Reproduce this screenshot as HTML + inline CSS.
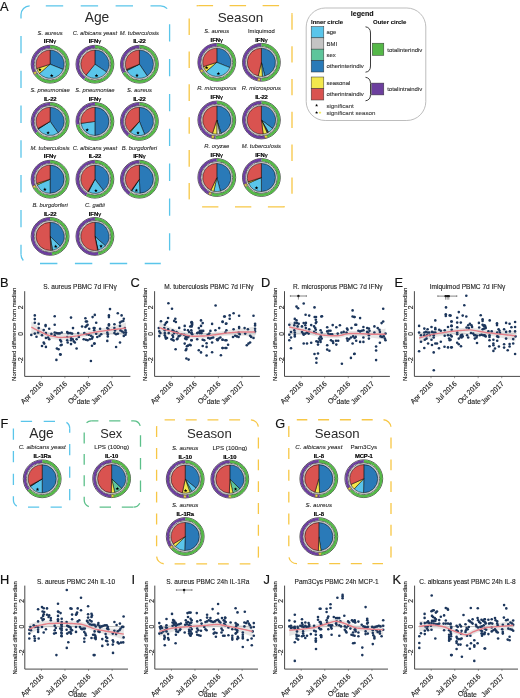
<!DOCTYPE html>
<html><head><meta charset="utf-8"><style>
html,body{margin:0;padding:0;background:#fff;}
svg{display:block;font-family:"Liberation Sans", sans-serif;will-change:transform;}
</style></head><body>
<svg width="520" height="698" viewBox="0 0 520 698">
<text x="0" y="11.2" font-size="12.8" text-anchor="start" font-weight="normal" font-style="normal" fill="#111" stroke="#111" stroke-width="0.18">A</text>
<path d="M30,5.8 L160.6,5.8 C165.5705627482,5.8 169.6,9.829437251800002 169.6,14.8" fill="none" stroke="#5ac5ea" stroke-width="1.3" stroke-dasharray="17.40 17.50" stroke-dashoffset="19.10"/>
<path d="M169.6,14.8 L169.6,254.5 C169.6,259.4705627482 165.5705627482,263.5 160.6,263.5" fill="none" stroke="#5ac5ea" stroke-width="1.3" stroke-dasharray="17.30 17.55" stroke-dashoffset="25.45"/>
<path d="M160.6,263.5 L30,263.5 C25.0294372518,263.5 21,259.4705627482 21,254.5" fill="none" stroke="#5ac5ea" stroke-width="1.3" stroke-dasharray="17.40 17.50" stroke-dashoffset="1.50"/>
<path d="M21,254.5 L21,14.8 C21,9.829437251800002 25.0294372518,5.8 30,5.8" fill="none" stroke="#5ac5ea" stroke-width="1.3" stroke-dasharray="17.40 17.40" stroke-dashoffset="7.60"/>
<text x="97" y="21.8" font-size="13.8" text-anchor="middle" font-weight="normal" font-style="normal" fill="#2a2a2a" >Age</text>
<text x="50.1" y="34.6" font-size="5.85" text-anchor="middle" font-weight="normal" font-style="italic" fill="#222" stroke="#222" stroke-width="0.08">S. aureus</text>
<text x="50.1" y="43.400000000000006" font-size="5.9" text-anchor="middle" font-weight="normal" font-style="normal" fill="#000" stroke="#000" stroke-width="0.18"><tspan font-weight="bold">IFN</tspan><tspan>γ</tspan></text>
<circle cx="50.1" cy="64.2" r="18.9" fill="#fff" stroke="#111" stroke-width="0.7"/>
<path d="M50.10,46.85 A17.35,17.35 0 1 1 36.06,74.40" fill="none" stroke="#55b848" stroke-width="2.6999999999999993"/>
<path d="M36.06,74.40 A17.35,17.35 0 0 1 50.10,46.85" fill="none" stroke="#6c3f9e" stroke-width="2.6999999999999993"/>
<circle cx="50.1" cy="64.2" r="15.9" fill="#fff" stroke="#111" stroke-width="0.6"/>
<circle cx="50.1" cy="64.2" r="14.9" fill="none" stroke="#999" stroke-width="0.55"/>
<path d="M50.10,64.20 L50.10,50.10 A14.1,14.1 0 0 1 63.17,69.48 Z" fill="#2a7ab8" stroke="#000" stroke-width="0.5" stroke-linejoin="round"/>
<path d="M50.10,64.20 L63.17,69.48 A14.1,14.1 0 0 1 39.46,73.45 Z" fill="#5ac5ea" stroke="#000" stroke-width="0.5" stroke-linejoin="round"/>
<path d="M50.10,64.20 L39.46,73.45 A14.1,14.1 0 0 1 36.69,68.56 Z" fill="#f3e84c" stroke="#000" stroke-width="0.5" stroke-linejoin="round"/>
<path d="M50.10,64.20 L36.69,68.56 A14.1,14.1 0 0 1 50.10,50.10 Z" fill="#d95350" stroke="#000" stroke-width="0.5" stroke-linejoin="round"/>
<polygon points="51.71,73.75 52.18,75.00 53.52,75.06 52.47,75.90 52.83,77.19 51.71,76.45 50.59,77.19 50.95,75.90 49.90,75.06 51.24,75.00" fill="#000" stroke="none" stroke-width="0"/>
<polygon points="39.89,67.73 40.36,68.98 41.70,69.04 40.65,69.87 41.01,71.17 39.89,70.43 38.77,71.17 39.13,69.87 38.08,69.04 39.42,68.98" fill="#000" stroke="none" stroke-width="0"/>
<polygon points="35.07,70.98 35.54,72.23 36.88,72.29 35.83,73.12 36.19,74.41 35.07,73.67 33.96,74.41 34.32,73.12 33.27,72.29 34.61,72.23" fill="#f3e84c" stroke="#8a7a00" stroke-width="0.25"/>
<text x="94.9" y="34.6" font-size="5.85" text-anchor="middle" font-weight="normal" font-style="italic" fill="#222" stroke="#222" stroke-width="0.08">C. albicans yeast</text>
<text x="94.9" y="43.400000000000006" font-size="5.9" text-anchor="middle" font-weight="normal" font-style="normal" fill="#000" stroke="#000" stroke-width="0.18"><tspan font-weight="bold">IFN</tspan><tspan>γ</tspan></text>
<circle cx="94.9" cy="64.2" r="18.9" fill="#fff" stroke="#111" stroke-width="0.7"/>
<path d="M94.90,46.85 A17.35,17.35 0 1 1 84.70,78.24" fill="none" stroke="#55b848" stroke-width="2.6999999999999993"/>
<path d="M84.70,78.24 A17.35,17.35 0 0 1 94.90,46.85" fill="none" stroke="#6c3f9e" stroke-width="2.6999999999999993"/>
<circle cx="94.9" cy="64.2" r="15.9" fill="#fff" stroke="#111" stroke-width="0.6"/>
<circle cx="94.9" cy="64.2" r="14.9" fill="none" stroke="#999" stroke-width="0.55"/>
<path d="M94.90,64.20 L94.90,50.10 A14.1,14.1 0 0 1 106.59,72.08 Z" fill="#2a7ab8" stroke="#000" stroke-width="0.5" stroke-linejoin="round"/>
<path d="M94.90,64.20 L106.59,72.08 A14.1,14.1 0 0 1 86.03,75.16 Z" fill="#5ac5ea" stroke="#000" stroke-width="0.5" stroke-linejoin="round"/>
<path d="M94.90,64.20 L86.03,75.16 A14.1,14.1 0 0 1 94.90,50.10 Z" fill="#d95350" stroke="#000" stroke-width="0.5" stroke-linejoin="round"/>
<polygon points="96.51,73.75 96.98,75.00 98.32,75.06 97.27,75.90 97.63,77.19 96.51,76.45 95.39,77.19 95.75,75.90 94.70,75.06 96.04,75.00" fill="#000" stroke="none" stroke-width="0"/>
<text x="139.4" y="34.6" font-size="5.85" text-anchor="middle" font-weight="normal" font-style="italic" fill="#222" stroke="#222" stroke-width="0.08">M. tuberculosis</text>
<text x="139.4" y="43.400000000000006" font-size="5.9" text-anchor="middle" font-weight="normal" font-style="normal" fill="#000" stroke="#000" stroke-width="0.18"><tspan font-weight="bold" letter-spacing="-0.3">IL-22</tspan></text>
<circle cx="139.4" cy="64.2" r="18.9" fill="#fff" stroke="#111" stroke-width="0.7"/>
<path d="M139.40,46.85 A17.35,17.35 0 1 1 124.08,72.35" fill="none" stroke="#55b848" stroke-width="2.6999999999999993"/>
<path d="M124.08,72.35 A17.35,17.35 0 0 1 139.40,46.85" fill="none" stroke="#6c3f9e" stroke-width="2.6999999999999993"/>
<circle cx="139.4" cy="64.2" r="15.9" fill="#fff" stroke="#111" stroke-width="0.6"/>
<circle cx="139.4" cy="64.2" r="14.9" fill="none" stroke="#999" stroke-width="0.55"/>
<path d="M139.40,64.20 L139.40,50.10 A14.1,14.1 0 0 1 147.28,75.89 Z" fill="#2a7ab8" stroke="#000" stroke-width="0.5" stroke-linejoin="round"/>
<path d="M139.40,64.20 L147.28,75.89 A14.1,14.1 0 0 1 126.84,70.60 Z" fill="#5ac5ea" stroke="#000" stroke-width="0.5" stroke-linejoin="round"/>
<path d="M139.40,64.20 L126.84,70.60 A14.1,14.1 0 0 1 126.33,69.48 Z" fill="#3a6a40" stroke="#000" stroke-width="0.5" stroke-linejoin="round"/>
<path d="M139.40,64.20 L126.33,69.48 A14.1,14.1 0 0 1 139.40,50.10 Z" fill="#d95350" stroke="#000" stroke-width="0.5" stroke-linejoin="round"/>
<polygon points="137.00,73.61 137.47,74.86 138.80,74.92 137.76,75.76 138.11,77.05 137.00,76.31 135.88,77.05 136.24,75.76 135.19,74.92 136.53,74.86" fill="#000" stroke="none" stroke-width="0"/>
<text x="50.1" y="91.80000000000001" font-size="5.85" text-anchor="middle" font-weight="normal" font-style="italic" fill="#222" stroke="#222" stroke-width="0.08">S. pneumoniae</text>
<text x="50.1" y="100.60000000000001" font-size="5.9" text-anchor="middle" font-weight="normal" font-style="normal" fill="#000" stroke="#000" stroke-width="0.18"><tspan font-weight="bold" letter-spacing="-0.3">IL-22</tspan></text>
<circle cx="50.1" cy="121.4" r="18.9" fill="#fff" stroke="#111" stroke-width="0.7"/>
<path d="M50.10,104.05 A17.35,17.35 0 1 1 36.62,132.32" fill="none" stroke="#55b848" stroke-width="2.6999999999999993"/>
<path d="M36.62,132.32 A17.35,17.35 0 0 1 50.10,104.05" fill="none" stroke="#6c3f9e" stroke-width="2.6999999999999993"/>
<circle cx="50.1" cy="121.4" r="15.9" fill="#fff" stroke="#111" stroke-width="0.6"/>
<circle cx="50.1" cy="121.4" r="14.9" fill="none" stroke="#999" stroke-width="0.55"/>
<path d="M50.10,121.40 L50.10,107.30 A14.1,14.1 0 0 1 58.19,132.95 Z" fill="#2a7ab8" stroke="#000" stroke-width="0.5" stroke-linejoin="round"/>
<path d="M50.10,121.40 L58.19,132.95 A14.1,14.1 0 0 1 38.27,129.08 Z" fill="#5ac5ea" stroke="#000" stroke-width="0.5" stroke-linejoin="round"/>
<path d="M50.10,121.40 L38.27,129.08 A14.1,14.1 0 0 1 37.89,128.45 Z" fill="#333" stroke="#000" stroke-width="0.5" stroke-linejoin="round"/>
<path d="M50.10,121.40 L37.89,128.45 A14.1,14.1 0 0 1 50.10,107.30 Z" fill="#d95350" stroke="#000" stroke-width="0.5" stroke-linejoin="round"/>
<polygon points="48.09,130.89 48.56,132.14 49.90,132.20 48.85,133.03 49.21,134.32 48.09,133.58 46.98,134.32 47.33,133.03 46.29,132.20 47.62,132.14" fill="#000" stroke="none" stroke-width="0"/>
<text x="94.9" y="91.80000000000001" font-size="5.85" text-anchor="middle" font-weight="normal" font-style="italic" fill="#222" stroke="#222" stroke-width="0.08">S. pneumoniae</text>
<text x="94.9" y="100.60000000000001" font-size="5.9" text-anchor="middle" font-weight="normal" font-style="normal" fill="#000" stroke="#000" stroke-width="0.18"><tspan font-weight="bold">IFN</tspan><tspan>γ</tspan></text>
<circle cx="94.9" cy="121.4" r="18.9" fill="#fff" stroke="#111" stroke-width="0.7"/>
<path d="M94.90,104.05 A17.35,17.35 0 1 1 77.81,124.41" fill="none" stroke="#55b848" stroke-width="2.6999999999999993"/>
<path d="M77.81,124.41 A17.35,17.35 0 0 1 94.90,104.05" fill="none" stroke="#6c3f9e" stroke-width="2.6999999999999993"/>
<circle cx="94.9" cy="121.4" r="15.9" fill="#fff" stroke="#111" stroke-width="0.6"/>
<circle cx="94.9" cy="121.4" r="14.9" fill="none" stroke="#999" stroke-width="0.55"/>
<path d="M94.90,121.40 L94.90,107.30 A14.1,14.1 0 0 1 94.90,135.50 Z" fill="#2a7ab8" stroke="#000" stroke-width="0.5" stroke-linejoin="round"/>
<path d="M94.90,121.40 L94.90,135.50 A14.1,14.1 0 0 1 80.94,123.36 Z" fill="#5ac5ea" stroke="#000" stroke-width="0.5" stroke-linejoin="round"/>
<path d="M94.90,121.40 L80.94,123.36 A14.1,14.1 0 0 1 94.90,107.30 Z" fill="#d95350" stroke="#000" stroke-width="0.5" stroke-linejoin="round"/>
<polygon points="87.16,128.09 87.63,129.35 88.97,129.41 87.92,130.24 88.28,131.53 87.16,130.79 86.05,131.53 86.40,130.24 85.36,129.41 86.69,129.35" fill="#000" stroke="none" stroke-width="0"/>
<text x="139.4" y="91.80000000000001" font-size="5.85" text-anchor="middle" font-weight="normal" font-style="italic" fill="#222" stroke="#222" stroke-width="0.08">S. aureus</text>
<text x="139.4" y="100.60000000000001" font-size="5.9" text-anchor="middle" font-weight="normal" font-style="normal" fill="#000" stroke="#000" stroke-width="0.18"><tspan font-weight="bold" letter-spacing="-0.3">IL-22</tspan></text>
<circle cx="139.4" cy="121.4" r="18.9" fill="#fff" stroke="#111" stroke-width="0.7"/>
<path d="M139.40,104.05 A17.35,17.35 0 1 1 128.48,134.88" fill="none" stroke="#55b848" stroke-width="2.6999999999999993"/>
<path d="M128.48,134.88 A17.35,17.35 0 0 1 139.40,104.05" fill="none" stroke="#6c3f9e" stroke-width="2.6999999999999993"/>
<circle cx="139.4" cy="121.4" r="15.9" fill="#fff" stroke="#111" stroke-width="0.6"/>
<circle cx="139.4" cy="121.4" r="14.9" fill="none" stroke="#999" stroke-width="0.55"/>
<path d="M139.40,121.40 L139.40,107.30 A14.1,14.1 0 0 1 144.68,134.47 Z" fill="#2a7ab8" stroke="#000" stroke-width="0.5" stroke-linejoin="round"/>
<path d="M139.40,121.40 L144.68,134.47 A14.1,14.1 0 0 1 130.34,132.20 Z" fill="#5ac5ea" stroke="#000" stroke-width="0.5" stroke-linejoin="round"/>
<path d="M139.40,121.40 L130.34,132.20 A14.1,14.1 0 0 1 129.61,131.54 Z" fill="#8a8a20" stroke="#000" stroke-width="0.5" stroke-linejoin="round"/>
<path d="M139.40,121.40 L129.61,131.54 A14.1,14.1 0 0 1 139.40,107.30 Z" fill="#d95350" stroke="#000" stroke-width="0.5" stroke-linejoin="round"/>
<polygon points="137.99,130.98 138.46,132.23 139.80,132.29 138.75,133.12 139.11,134.41 137.99,133.67 136.87,134.41 137.23,133.12 136.18,132.29 137.52,132.23" fill="#000" stroke="none" stroke-width="0"/>
<text x="50.1" y="149.6" font-size="5.85" text-anchor="middle" font-weight="normal" font-style="italic" fill="#222" stroke="#222" stroke-width="0.08">M. tuberculosis</text>
<text x="50.1" y="158.39999999999998" font-size="5.9" text-anchor="middle" font-weight="normal" font-style="normal" fill="#000" stroke="#000" stroke-width="0.18"><tspan font-weight="bold">IFN</tspan><tspan>γ</tspan></text>
<circle cx="50.1" cy="179.2" r="18.9" fill="#fff" stroke="#111" stroke-width="0.7"/>
<path d="M50.10,161.85 A17.35,17.35 0 1 1 34.93,187.61" fill="none" stroke="#55b848" stroke-width="2.6999999999999993"/>
<path d="M34.93,187.61 A17.35,17.35 0 0 1 50.10,161.85" fill="none" stroke="#6c3f9e" stroke-width="2.6999999999999993"/>
<circle cx="50.1" cy="179.2" r="15.9" fill="#fff" stroke="#111" stroke-width="0.6"/>
<circle cx="50.1" cy="179.2" r="14.9" fill="none" stroke="#999" stroke-width="0.55"/>
<path d="M50.10,179.20 L50.10,165.10 A14.1,14.1 0 0 1 50.10,193.30 Z" fill="#2a7ab8" stroke="#000" stroke-width="0.5" stroke-linejoin="round"/>
<path d="M50.10,179.20 L50.10,193.30 A14.1,14.1 0 0 1 37.22,184.93 Z" fill="#5ac5ea" stroke="#000" stroke-width="0.5" stroke-linejoin="round"/>
<path d="M50.10,179.20 L37.22,184.93 A14.1,14.1 0 0 1 36.69,183.56 Z" fill="#f3e84c" stroke="#000" stroke-width="0.5" stroke-linejoin="round"/>
<path d="M50.10,179.20 L36.69,183.56 A14.1,14.1 0 0 1 50.10,165.10 Z" fill="#d95350" stroke="#000" stroke-width="0.5" stroke-linejoin="round"/>
<polygon points="44.85,187.60 45.32,188.86 46.66,188.91 45.61,189.75 45.97,191.04 44.85,190.30 43.73,191.04 44.09,189.75 43.04,188.91 44.38,188.86" fill="#000" stroke="none" stroke-width="0"/>
<polygon points="34.38,184.63 34.84,185.89 36.18,185.95 35.13,186.78 35.49,188.07 34.38,187.33 33.26,188.07 33.62,186.78 32.57,185.95 33.91,185.89" fill="#f3e84c" stroke="#8a7a00" stroke-width="0.25"/>
<text x="94.9" y="149.6" font-size="5.85" text-anchor="middle" font-weight="normal" font-style="italic" fill="#222" stroke="#222" stroke-width="0.08">C. albicans yeast</text>
<text x="94.9" y="158.39999999999998" font-size="5.9" text-anchor="middle" font-weight="normal" font-style="normal" fill="#000" stroke="#000" stroke-width="0.18"><tspan font-weight="bold" letter-spacing="-0.3">IL-22</tspan></text>
<circle cx="94.9" cy="179.2" r="18.9" fill="#fff" stroke="#111" stroke-width="0.7"/>
<path d="M94.90,161.85 A17.35,17.35 0 1 1 86.75,194.52" fill="none" stroke="#55b848" stroke-width="2.6999999999999993"/>
<path d="M86.75,194.52 A17.35,17.35 0 0 1 94.90,161.85" fill="none" stroke="#6c3f9e" stroke-width="2.6999999999999993"/>
<circle cx="94.9" cy="179.2" r="15.9" fill="#fff" stroke="#111" stroke-width="0.6"/>
<circle cx="94.9" cy="179.2" r="14.9" fill="none" stroke="#999" stroke-width="0.55"/>
<path d="M94.90,179.20 L94.90,165.10 A14.1,14.1 0 0 1 103.39,190.46 Z" fill="#2a7ab8" stroke="#000" stroke-width="0.5" stroke-linejoin="round"/>
<path d="M94.90,179.20 L103.39,190.46 A14.1,14.1 0 0 1 88.50,191.76 Z" fill="#5ac5ea" stroke="#000" stroke-width="0.5" stroke-linejoin="round"/>
<path d="M94.90,179.20 L88.50,191.76 A14.1,14.1 0 0 1 87.85,191.41 Z" fill="#333" stroke="#000" stroke-width="0.5" stroke-linejoin="round"/>
<path d="M94.90,179.20 L87.85,191.41 A14.1,14.1 0 0 1 94.90,165.10 Z" fill="#d95350" stroke="#000" stroke-width="0.5" stroke-linejoin="round"/>
<polygon points="95.91,188.82 96.38,190.07 97.71,190.13 96.67,190.96 97.02,192.26 95.91,191.52 94.79,192.26 95.15,190.96 94.10,190.13 95.44,190.07" fill="#000" stroke="none" stroke-width="0"/>
<text x="139.4" y="149.6" font-size="5.85" text-anchor="middle" font-weight="normal" font-style="italic" fill="#222" stroke="#222" stroke-width="0.08">B. burgdorferi</text>
<text x="139.4" y="158.39999999999998" font-size="5.9" text-anchor="middle" font-weight="normal" font-style="normal" fill="#000" stroke="#000" stroke-width="0.18"><tspan font-weight="bold">IFN</tspan><tspan>γ</tspan></text>
<circle cx="139.4" cy="179.2" r="18.9" fill="#fff" stroke="#111" stroke-width="0.7"/>
<path d="M139.40,161.85 A17.35,17.35 0 1 1 129.70,193.58" fill="none" stroke="#55b848" stroke-width="2.6999999999999993"/>
<path d="M129.70,193.58 A17.35,17.35 0 0 1 139.40,161.85" fill="none" stroke="#6c3f9e" stroke-width="2.6999999999999993"/>
<circle cx="139.4" cy="179.2" r="15.9" fill="#fff" stroke="#111" stroke-width="0.6"/>
<circle cx="139.4" cy="179.2" r="14.9" fill="none" stroke="#999" stroke-width="0.55"/>
<path d="M139.40,179.20 L139.40,165.10 A14.1,14.1 0 0 1 139.89,193.29 Z" fill="#2a7ab8" stroke="#000" stroke-width="0.5" stroke-linejoin="round"/>
<path d="M139.40,179.20 L139.89,193.29 A14.1,14.1 0 0 1 131.72,191.03 Z" fill="#5ac5ea" stroke="#000" stroke-width="0.5" stroke-linejoin="round"/>
<path d="M139.40,179.20 L131.72,191.03 A14.1,14.1 0 0 1 131.11,190.61 Z" fill="#333" stroke="#000" stroke-width="0.5" stroke-linejoin="round"/>
<path d="M139.40,179.20 L131.11,190.61 A14.1,14.1 0 0 1 139.40,165.10 Z" fill="#d95350" stroke="#000" stroke-width="0.5" stroke-linejoin="round"/>
<polygon points="136.41,188.47 136.88,189.72 138.21,189.78 137.17,190.61 137.52,191.91 136.41,191.17 135.29,191.91 135.65,190.61 134.60,189.78 135.94,189.72" fill="#000" stroke="none" stroke-width="0"/>
<text x="50.1" y="206.8" font-size="5.85" text-anchor="middle" font-weight="normal" font-style="italic" fill="#222" stroke="#222" stroke-width="0.08">B. burgdorferi</text>
<text x="50.1" y="215.6" font-size="5.9" text-anchor="middle" font-weight="normal" font-style="normal" fill="#000" stroke="#000" stroke-width="0.18"><tspan font-weight="bold" letter-spacing="-0.3">IL-22</tspan></text>
<circle cx="50.1" cy="236.4" r="18.9" fill="#fff" stroke="#111" stroke-width="0.7"/>
<path d="M50.10,219.05 A17.35,17.35 0 0 1 51.91,253.65" fill="none" stroke="#55b848" stroke-width="2.6999999999999993"/>
<path d="M51.91,253.65 A17.35,17.35 0 1 1 50.10,219.05" fill="none" stroke="#6c3f9e" stroke-width="2.6999999999999993"/>
<circle cx="50.1" cy="236.4" r="15.9" fill="#fff" stroke="#111" stroke-width="0.6"/>
<circle cx="50.1" cy="236.4" r="14.9" fill="none" stroke="#999" stroke-width="0.55"/>
<path d="M50.10,236.40 L50.10,222.30 A14.1,14.1 0 0 1 60.24,246.19 Z" fill="#2a7ab8" stroke="#000" stroke-width="0.5" stroke-linejoin="round"/>
<path d="M50.10,236.40 L60.24,246.19 A14.1,14.1 0 0 1 52.55,250.29 Z" fill="#5ac5ea" stroke="#000" stroke-width="0.5" stroke-linejoin="round"/>
<path d="M50.10,236.40 L52.55,250.29 A14.1,14.1 0 0 1 50.84,250.48 Z" fill="#777" stroke="#000" stroke-width="0.5" stroke-linejoin="round"/>
<path d="M50.10,236.40 L50.84,250.48 A14.1,14.1 0 1 1 50.10,222.30 Z" fill="#d95350" stroke="#000" stroke-width="0.5" stroke-linejoin="round"/>
<polygon points="55.71,244.61 56.17,245.87 57.51,245.93 56.46,246.76 56.82,248.05 55.71,247.31 54.59,248.05 54.95,246.76 53.90,245.93 55.24,245.87" fill="#000" stroke="none" stroke-width="0"/>
<text x="94.9" y="206.8" font-size="5.85" text-anchor="middle" font-weight="normal" font-style="italic" fill="#222" stroke="#222" stroke-width="0.08">C. gattii</text>
<text x="94.9" y="215.6" font-size="5.9" text-anchor="middle" font-weight="normal" font-style="normal" fill="#000" stroke="#000" stroke-width="0.18"><tspan font-weight="bold">IFN</tspan><tspan>γ</tspan></text>
<circle cx="94.9" cy="236.4" r="18.9" fill="#fff" stroke="#111" stroke-width="0.7"/>
<path d="M94.90,219.05 A17.35,17.35 0 0 1 98.21,253.43" fill="none" stroke="#55b848" stroke-width="2.6999999999999993"/>
<path d="M98.21,253.43 A17.35,17.35 0 1 1 94.90,219.05" fill="none" stroke="#6c3f9e" stroke-width="2.6999999999999993"/>
<circle cx="94.9" cy="236.4" r="15.9" fill="#fff" stroke="#111" stroke-width="0.6"/>
<circle cx="94.9" cy="236.4" r="14.9" fill="none" stroke="#999" stroke-width="0.55"/>
<path d="M94.90,236.40 L94.90,222.30 A14.1,14.1 0 0 1 105.38,245.83 Z" fill="#2a7ab8" stroke="#000" stroke-width="0.5" stroke-linejoin="round"/>
<path d="M94.90,236.40 L105.38,245.83 A14.1,14.1 0 0 1 98.07,250.14 Z" fill="#5ac5ea" stroke="#000" stroke-width="0.5" stroke-linejoin="round"/>
<path d="M94.90,236.40 L98.07,250.14 A14.1,14.1 0 0 1 97.59,250.24 Z" fill="#333" stroke="#000" stroke-width="0.5" stroke-linejoin="round"/>
<path d="M94.90,236.40 L97.59,250.24 A14.1,14.1 0 1 1 94.90,222.30 Z" fill="#d95350" stroke="#000" stroke-width="0.5" stroke-linejoin="round"/>
<polygon points="101.03,244.31 101.50,245.56 102.83,245.62 101.79,246.45 102.14,247.74 101.03,247.00 99.91,247.74 100.27,246.45 99.22,245.62 100.56,245.56" fill="#000" stroke="none" stroke-width="0"/>
<path d="M198.2,5.7 L283.0,5.7 C287.9705627482,5.7 292.0,9.7294372518 292.0,14.7" fill="none" stroke="#f7c746" stroke-width="1.3" stroke-dasharray="16.50 16.50" stroke-dashoffset="1.60"/>
<path d="M292.0,14.7 L292.0,197.89999999999998 C292.0,202.87056274819997 287.9705627482,206.89999999999998 283.0,206.89999999999998" fill="none" stroke="#f7c746" stroke-width="1.3" stroke-dasharray="16.30 16.50" stroke-dashoffset="1.30"/>
<path d="M283.0,206.89999999999998 L198.2,206.89999999999998 C193.2294372518,206.89999999999998 189.2,202.87056274819997 189.2,197.89999999999998" fill="none" stroke="#f7c746" stroke-width="1.3" stroke-dasharray="16.30 16.60" stroke-dashoffset="1.20"/>
<path d="M189.2,197.89999999999998 L189.2,14.7 C189.2,9.7294372518 193.2294372518,5.7 198.2,5.7" fill="none" stroke="#f7c746" stroke-width="1.3" stroke-dasharray="16.60 16.30" stroke-dashoffset="1.70"/>
<text x="240.4" y="22.1" font-size="13.4" text-anchor="middle" font-weight="normal" font-style="normal" fill="#2a2a2a" >Season</text>
<text x="216.8" y="32.699999999999996" font-size="5.85" text-anchor="middle" font-weight="normal" font-style="italic" fill="#222" stroke="#222" stroke-width="0.08">S. aureus</text>
<text x="216.8" y="41.5" font-size="5.9" text-anchor="middle" font-weight="normal" font-style="normal" fill="#000" stroke="#000" stroke-width="0.18"><tspan font-weight="bold">IFN</tspan><tspan>γ</tspan></text>
<circle cx="216.8" cy="62.3" r="18.9" fill="#fff" stroke="#111" stroke-width="0.7"/>
<path d="M216.80,44.95 A17.35,17.35 0 1 1 202.76,72.50" fill="none" stroke="#55b848" stroke-width="2.6999999999999993"/>
<path d="M202.76,72.50 A17.35,17.35 0 0 1 216.80,44.95" fill="none" stroke="#6c3f9e" stroke-width="2.6999999999999993"/>
<circle cx="216.8" cy="62.3" r="15.9" fill="#fff" stroke="#111" stroke-width="0.6"/>
<circle cx="216.8" cy="62.3" r="14.9" fill="none" stroke="#999" stroke-width="0.55"/>
<path d="M216.80,62.30 L216.80,48.20 A14.1,14.1 0 0 1 229.87,67.58 Z" fill="#2a7ab8" stroke="#000" stroke-width="0.5" stroke-linejoin="round"/>
<path d="M216.80,62.30 L229.87,67.58 A14.1,14.1 0 0 1 206.16,71.55 Z" fill="#5ac5ea" stroke="#000" stroke-width="0.5" stroke-linejoin="round"/>
<path d="M216.80,62.30 L206.16,71.55 A14.1,14.1 0 0 1 203.39,66.66 Z" fill="#f3e84c" stroke="#000" stroke-width="0.5" stroke-linejoin="round"/>
<path d="M216.80,62.30 L203.39,66.66 A14.1,14.1 0 0 1 216.80,48.20 Z" fill="#d95350" stroke="#000" stroke-width="0.5" stroke-linejoin="round"/>
<polygon points="218.41,71.85 218.88,73.10 220.22,73.16 219.17,74.00 219.53,75.29 218.41,74.55 217.29,75.29 217.65,74.00 216.60,73.16 217.94,73.10" fill="#000" stroke="none" stroke-width="0"/>
<polygon points="206.59,65.83 207.06,67.08 208.40,67.14 207.35,67.97 207.71,69.27 206.59,68.53 205.47,69.27 205.83,67.97 204.78,67.14 206.12,67.08" fill="#000" stroke="none" stroke-width="0"/>
<polygon points="201.77,69.08 202.24,70.33 203.58,70.39 202.53,71.22 202.89,72.51 201.77,71.77 200.66,72.51 201.02,71.22 199.97,70.39 201.31,70.33" fill="#f3e84c" stroke="#8a7a00" stroke-width="0.25"/>
<text x="261.4" y="32.699999999999996" font-size="5.85" text-anchor="middle" font-weight="normal" font-style="normal" fill="#222" stroke="#222" stroke-width="0.08">Imiquimod</text>
<text x="261.4" y="41.5" font-size="5.9" text-anchor="middle" font-weight="normal" font-style="normal" fill="#000" stroke="#000" stroke-width="0.18"><tspan font-weight="bold">IFN</tspan><tspan>γ</tspan></text>
<circle cx="261.4" cy="62.3" r="18.9" fill="#fff" stroke="#111" stroke-width="0.7"/>
<path d="M261.40,44.95 A17.35,17.35 0 0 1 261.40,79.65" fill="none" stroke="#55b848" stroke-width="2.6999999999999993"/>
<path d="M261.40,79.65 A17.35,17.35 0 0 1 261.40,44.95" fill="none" stroke="#6c3f9e" stroke-width="2.6999999999999993"/>
<circle cx="261.4" cy="62.3" r="15.9" fill="#fff" stroke="#111" stroke-width="0.6"/>
<circle cx="261.4" cy="62.3" r="14.9" fill="none" stroke="#999" stroke-width="0.55"/>
<path d="M261.40,62.30 L261.40,48.20 A14.1,14.1 0 0 1 264.81,75.98 Z" fill="#2a7ab8" stroke="#000" stroke-width="0.5" stroke-linejoin="round"/>
<path d="M261.40,62.30 L264.81,75.98 A14.1,14.1 0 0 1 262.38,76.37 Z" fill="#5ac5ea" stroke="#000" stroke-width="0.5" stroke-linejoin="round"/>
<path d="M261.40,62.30 L262.38,76.37 A14.1,14.1 0 0 1 258.23,76.04 Z" fill="#f3e84c" stroke="#000" stroke-width="0.5" stroke-linejoin="round"/>
<path d="M261.40,62.30 L258.23,76.04 A14.1,14.1 0 0 1 261.40,48.20 Z" fill="#d95350" stroke="#000" stroke-width="0.5" stroke-linejoin="round"/>
<polygon points="258.99,77.58 259.45,78.84 260.79,78.89 259.74,79.73 260.10,81.02 258.99,80.28 257.87,81.02 258.23,79.73 257.18,78.89 258.52,78.84" fill="#f3e84c" stroke="#8a7a00" stroke-width="0.25"/>
<text x="216.8" y="90.4" font-size="5.85" text-anchor="middle" font-weight="normal" font-style="italic" fill="#222" stroke="#222" stroke-width="0.08">R. microsporus</text>
<text x="216.8" y="99.2" font-size="5.9" text-anchor="middle" font-weight="normal" font-style="normal" fill="#000" stroke="#000" stroke-width="0.18"><tspan font-weight="bold">IFN</tspan><tspan>γ</tspan></text>
<circle cx="216.8" cy="120.0" r="18.9" fill="#fff" stroke="#111" stroke-width="0.7"/>
<path d="M216.80,102.65 A17.35,17.35 0 1 1 215.59,137.31" fill="none" stroke="#55b848" stroke-width="2.6999999999999993"/>
<path d="M215.59,137.31 A17.35,17.35 0 0 1 216.80,102.65" fill="none" stroke="#6c3f9e" stroke-width="2.6999999999999993"/>
<circle cx="216.8" cy="120.0" r="15.9" fill="#fff" stroke="#111" stroke-width="0.6"/>
<circle cx="216.8" cy="120.0" r="14.9" fill="none" stroke="#999" stroke-width="0.55"/>
<path d="M216.80,120.00 L216.80,105.90 A14.1,14.1 0 0 1 221.16,133.41 Z" fill="#2a7ab8" stroke="#000" stroke-width="0.5" stroke-linejoin="round"/>
<path d="M216.80,120.00 L221.16,133.41 A14.1,14.1 0 0 1 219.73,133.79 Z" fill="#5ec59b" stroke="#000" stroke-width="0.5" stroke-linejoin="round"/>
<path d="M216.80,120.00 L219.73,133.79 A14.1,14.1 0 0 1 216.80,134.10 Z" fill="#e8e8e8" stroke="#000" stroke-width="0.5" stroke-linejoin="round"/>
<path d="M216.80,120.00 L216.80,134.10 A14.1,14.1 0 0 1 212.44,133.41 Z" fill="#f3e84c" stroke="#000" stroke-width="0.5" stroke-linejoin="round"/>
<path d="M216.80,120.00 L212.44,133.41 A14.1,14.1 0 0 1 216.80,105.90 Z" fill="#d95350" stroke="#000" stroke-width="0.5" stroke-linejoin="round"/>
<polygon points="212.90,135.01 213.37,136.26 214.70,136.32 213.66,137.15 214.01,138.44 212.90,137.70 211.78,138.44 212.14,137.15 211.09,136.32 212.43,136.26" fill="#f3e84c" stroke="#8a7a00" stroke-width="0.25"/>
<text x="261.4" y="90.4" font-size="5.85" text-anchor="middle" font-weight="normal" font-style="italic" fill="#222" stroke="#222" stroke-width="0.08">R. microsporus</text>
<text x="261.4" y="99.2" font-size="5.9" text-anchor="middle" font-weight="normal" font-style="normal" fill="#000" stroke="#000" stroke-width="0.18"><tspan font-weight="bold" letter-spacing="-0.3">IL-22</tspan></text>
<circle cx="261.4" cy="120.0" r="18.9" fill="#fff" stroke="#111" stroke-width="0.7"/>
<path d="M261.40,102.65 A17.35,17.35 0 0 1 266.76,136.50" fill="none" stroke="#55b848" stroke-width="2.6999999999999993"/>
<path d="M266.76,136.50 A17.35,17.35 0 1 1 261.40,102.65" fill="none" stroke="#6c3f9e" stroke-width="2.6999999999999993"/>
<circle cx="261.4" cy="120.0" r="15.9" fill="#fff" stroke="#111" stroke-width="0.6"/>
<circle cx="261.4" cy="120.0" r="14.9" fill="none" stroke="#999" stroke-width="0.55"/>
<path d="M261.40,120.00 L261.40,105.90 A14.1,14.1 0 0 1 272.66,128.49 Z" fill="#2a7ab8" stroke="#000" stroke-width="0.5" stroke-linejoin="round"/>
<path d="M261.40,120.00 L272.66,128.49 A14.1,14.1 0 0 1 268.45,132.21 Z" fill="#5ac5ea" stroke="#000" stroke-width="0.5" stroke-linejoin="round"/>
<path d="M261.40,120.00 L268.45,132.21 A14.1,14.1 0 0 1 267.13,132.88 Z" fill="#444" stroke="#000" stroke-width="0.5" stroke-linejoin="round"/>
<path d="M261.40,120.00 L267.13,132.88 A14.1,14.1 0 0 1 263.12,133.99 Z" fill="#f3e84c" stroke="#000" stroke-width="0.5" stroke-linejoin="round"/>
<path d="M261.40,120.00 L263.12,133.99 A14.1,14.1 0 1 1 261.40,105.90 Z" fill="#d95350" stroke="#000" stroke-width="0.5" stroke-linejoin="round"/>
<polygon points="265.89,134.86 266.36,136.11 267.70,136.17 266.65,137.01 267.01,138.30 265.89,137.56 264.77,138.30 265.13,137.01 264.08,136.17 265.42,136.11" fill="#f3e84c" stroke="#8a7a00" stroke-width="0.25"/>
<text x="216.8" y="147.9" font-size="5.85" text-anchor="middle" font-weight="normal" font-style="italic" fill="#222" stroke="#222" stroke-width="0.08">R. oryzae</text>
<text x="216.8" y="156.7" font-size="5.9" text-anchor="middle" font-weight="normal" font-style="normal" fill="#000" stroke="#000" stroke-width="0.18"><tspan font-weight="bold">IFN</tspan><tspan>γ</tspan></text>
<circle cx="216.8" cy="177.5" r="18.9" fill="#fff" stroke="#111" stroke-width="0.7"/>
<path d="M216.80,160.15 A17.35,17.35 0 1 1 211.73,194.09" fill="none" stroke="#55b848" stroke-width="2.6999999999999993"/>
<path d="M211.73,194.09 A17.35,17.35 0 0 1 216.80,160.15" fill="none" stroke="#6c3f9e" stroke-width="2.6999999999999993"/>
<circle cx="216.8" cy="177.5" r="15.9" fill="#fff" stroke="#111" stroke-width="0.6"/>
<circle cx="216.8" cy="177.5" r="14.9" fill="none" stroke="#999" stroke-width="0.55"/>
<path d="M216.80,177.50 L216.80,163.40 A14.1,14.1 0 0 1 220.45,191.12 Z" fill="#2a7ab8" stroke="#000" stroke-width="0.5" stroke-linejoin="round"/>
<path d="M216.80,177.50 L220.45,191.12 A14.1,14.1 0 0 1 213.87,191.29 Z" fill="#5ac5ea" stroke="#000" stroke-width="0.5" stroke-linejoin="round"/>
<path d="M216.80,177.50 L213.87,191.29 A14.1,14.1 0 0 1 210.84,190.28 Z" fill="#f3e84c" stroke="#000" stroke-width="0.5" stroke-linejoin="round"/>
<path d="M216.80,177.50 L210.84,190.28 A14.1,14.1 0 0 1 216.80,163.40 Z" fill="#d95350" stroke="#000" stroke-width="0.5" stroke-linejoin="round"/>
<polygon points="210.02,191.57 210.49,192.83 211.83,192.88 210.78,193.72 211.14,195.01 210.02,194.27 208.90,195.01 209.26,193.72 208.21,192.88 209.55,192.83" fill="#f3e84c" stroke="#8a7a00" stroke-width="0.25"/>
<text x="261.4" y="147.9" font-size="5.85" text-anchor="middle" font-weight="normal" font-style="italic" fill="#222" stroke="#222" stroke-width="0.08">M. tuberculosis</text>
<text x="261.4" y="156.7" font-size="5.9" text-anchor="middle" font-weight="normal" font-style="normal" fill="#000" stroke="#000" stroke-width="0.18"><tspan font-weight="bold">IFN</tspan><tspan>γ</tspan></text>
<circle cx="261.4" cy="177.5" r="18.9" fill="#fff" stroke="#111" stroke-width="0.7"/>
<path d="M261.40,160.15 A17.35,17.35 0 1 1 246.53,186.44" fill="none" stroke="#55b848" stroke-width="2.6999999999999993"/>
<path d="M246.53,186.44 A17.35,17.35 0 0 1 261.40,160.15" fill="none" stroke="#6c3f9e" stroke-width="2.6999999999999993"/>
<circle cx="261.4" cy="177.5" r="15.9" fill="#fff" stroke="#111" stroke-width="0.6"/>
<circle cx="261.4" cy="177.5" r="14.9" fill="none" stroke="#999" stroke-width="0.55"/>
<path d="M261.40,177.50 L261.40,163.40 A14.1,14.1 0 0 1 261.40,191.60 Z" fill="#2a7ab8" stroke="#000" stroke-width="0.5" stroke-linejoin="round"/>
<path d="M261.40,177.50 L261.40,191.60 A14.1,14.1 0 0 1 248.52,183.23 Z" fill="#5ac5ea" stroke="#000" stroke-width="0.5" stroke-linejoin="round"/>
<path d="M261.40,177.50 L248.52,183.23 A14.1,14.1 0 0 1 247.99,181.86 Z" fill="#f3e84c" stroke="#000" stroke-width="0.5" stroke-linejoin="round"/>
<path d="M261.40,177.50 L247.99,181.86 A14.1,14.1 0 0 1 261.40,163.40 Z" fill="#d95350" stroke="#000" stroke-width="0.5" stroke-linejoin="round"/>
<polygon points="256.51,186.08 256.98,187.33 258.32,187.39 257.27,188.23 257.63,189.52 256.51,188.78 255.40,189.52 255.75,188.23 254.71,187.39 256.04,187.33" fill="#000" stroke="none" stroke-width="0"/>
<polygon points="245.81,183.21 246.27,184.46 247.61,184.52 246.56,185.35 246.92,186.64 245.81,185.90 244.69,186.64 245.05,185.35 244.00,184.52 245.34,184.46" fill="#f3e84c" stroke="#8a7a00" stroke-width="0.25"/>
<rect x="306.2" y="8" width="119.6" height="112.5" rx="19" fill="#fff" stroke="#b5b5b5" stroke-width="0.9"/>
<text x="362.2" y="15.6" font-size="7.1" text-anchor="middle" font-weight="bold" font-style="normal" fill="#111"  stroke="#111" stroke-width="0.12">legend</text>
<text x="311" y="24.3" font-size="6.0" text-anchor="start" font-weight="bold" font-style="normal" fill="#111"  stroke="#111" stroke-width="0.12">Inner circle</text>
<text x="373" y="24.3" font-size="6.0" text-anchor="start" font-weight="bold" font-style="normal" fill="#111"  stroke="#111" stroke-width="0.12">Outer circle</text>
<rect x="311.2" y="26.5" width="12.6" height="11.5" fill="#5ac5ea" stroke="#333" stroke-width="0.5"/>
<text x="326.5" y="34.4" font-size="5.95" text-anchor="start" font-weight="normal" font-style="normal" fill="#333"  stroke="#333" stroke-width="0.12">age</text>
<rect x="311.2" y="37.8" width="12.6" height="11.5" fill="#c4c4c4" stroke="#333" stroke-width="0.5"/>
<text x="326.5" y="45.699999999999996" font-size="5.95" text-anchor="start" font-weight="normal" font-style="normal" fill="#333"  stroke="#333" stroke-width="0.12">BMI</text>
<rect x="311.2" y="49.1" width="12.6" height="11.5" fill="#5ec59b" stroke="#333" stroke-width="0.5"/>
<text x="326.5" y="57.0" font-size="5.95" text-anchor="start" font-weight="normal" font-style="normal" fill="#333"  stroke="#333" stroke-width="0.12">sex</text>
<rect x="311.2" y="60.4" width="12.6" height="11.6" fill="#2a7ab8" stroke="#333" stroke-width="0.5"/>
<text x="326.5" y="68.3" font-size="5.95" text-anchor="start" font-weight="normal" font-style="normal" fill="#333"  stroke="#333" stroke-width="0.12">otherinterindiv</text>
<rect x="311.2" y="77.0" width="12.6" height="11.5" fill="#f3e84c" stroke="#333" stroke-width="0.5"/>
<text x="326.5" y="84.9" font-size="5.95" text-anchor="start" font-weight="normal" font-style="normal" fill="#333"  stroke="#333" stroke-width="0.12">seasonal</text>
<rect x="311.2" y="88.5" width="12.6" height="11.5" fill="#d95350" stroke="#333" stroke-width="0.5"/>
<text x="326.5" y="96.4" font-size="5.95" text-anchor="start" font-weight="normal" font-style="normal" fill="#333"  stroke="#333" stroke-width="0.12">otherintraindiv</text>
<path d="M365.5,26.8 Q370.5,27.5 370.5,33 L370.5,66 Q370.5,71.6 365.5,72.2" fill="none" stroke="#333" stroke-width="0.95"/>
<path d="M365.5,77.3 Q370.5,78 370.5,83.5 L370.5,94.5 Q370.5,100.2 365.5,100.8" fill="none" stroke="#333" stroke-width="0.95"/>
<rect x="372.3" y="43.2" width="11.5" height="12.2" fill="#55b848" stroke="#333" stroke-width="0.5"/>
<text x="387.3" y="51.8" font-size="5.95" text-anchor="start" font-weight="normal" font-style="normal" fill="#333"  stroke="#333" stroke-width="0.12">totalinterindiv</text>
<rect x="371.6" y="83.1" width="12.2" height="11.8" fill="#6c3f9e" stroke="#333" stroke-width="0.5"/>
<text x="387.2" y="91.4" font-size="5.95" text-anchor="start" font-weight="normal" font-style="normal" fill="#333"  stroke="#333" stroke-width="0.12">totalintraindiv</text>
<polygon points="316.60,103.80 316.99,104.86 318.12,104.91 317.24,105.61 317.54,106.69 316.60,106.07 315.66,106.69 315.96,105.61 315.08,104.91 316.21,104.86" fill="#000" stroke="none" stroke-width="0"/>
<text x="326.5" y="107.6" font-size="6.15" text-anchor="start" font-weight="normal" font-style="normal" fill="#444"  stroke="#444" stroke-width="0.12">significant</text>
<polygon points="316.60,111.00 316.99,112.06 318.12,112.11 317.24,112.81 317.54,113.89 316.60,113.27 315.66,113.89 315.96,112.81 315.08,112.11 316.21,112.06" fill="#000" stroke="none" stroke-width="0"/>
<polygon points="320.00,111.00 320.39,112.06 321.52,112.11 320.64,112.81 320.94,113.89 320.00,113.27 319.06,113.89 319.36,112.81 318.48,112.11 319.61,112.06" fill="#f3e84c" stroke="none" stroke-width="0"/>
<text x="326.5" y="114.8" font-size="6.15" text-anchor="start" font-weight="normal" font-style="normal" fill="#444"  stroke="#444" stroke-width="0.12">significant season</text>
<text x="0" y="287.0" font-size="12.8" text-anchor="start" font-weight="normal" font-style="normal" fill="#111" stroke="#111" stroke-width="0.18">B</text>
<text x="80.0" y="289.4" font-size="6.55" text-anchor="middle" font-weight="normal" font-style="normal" fill="#222"  stroke="#222" stroke-width="0.12">S. aureus PBMC 7d IFNγ</text>
<path d="M24.7,291.2 L24.7,376.4 L130.4,376.4" fill="none" stroke="#333" stroke-width="0.9"/>
<text x="0" y="0" font-size="6.8" text-anchor="middle" font-weight="normal" font-style="normal" fill="#222" transform="translate(22.8,307.40000000000003) rotate(-90)" stroke="#222" stroke-width="0.12">2</text>
<text x="0" y="0" font-size="6.8" text-anchor="middle" font-weight="normal" font-style="normal" fill="#222" transform="translate(22.8,333.8) rotate(-90)" stroke="#222" stroke-width="0.12">0</text>
<text x="0" y="0" font-size="6.8" text-anchor="middle" font-weight="normal" font-style="normal" fill="#222" transform="translate(22.8,360.2) rotate(-90)" stroke="#222" stroke-width="0.12">-2</text>
<text x="0" y="0" font-size="6.0" text-anchor="middle" font-weight="normal" font-style="normal" fill="#222" transform="translate(15.6,334.29999999999995) rotate(-90)" stroke="#222" stroke-width="0.12">Normalized difference from median</text>
<line x1="41.3" y1="376.4" x2="41.3" y2="378.2" stroke="#333" stroke-width="0.5"/>
<text x="0" y="0" font-size="7.1" text-anchor="end" font-weight="normal" font-style="normal" fill="#222" transform="translate(43.9,384.2) rotate(-45)" stroke="#222" stroke-width="0.12">Apr 2016</text>
<line x1="64.88" y1="376.4" x2="64.88" y2="378.2" stroke="#333" stroke-width="0.5"/>
<text x="0" y="0" font-size="7.1" text-anchor="end" font-weight="normal" font-style="normal" fill="#222" transform="translate(67.47999999999999,384.2) rotate(-45)" stroke="#222" stroke-width="0.12">Jul 2016</text>
<line x1="88.46" y1="376.4" x2="88.46" y2="378.2" stroke="#333" stroke-width="0.5"/>
<text x="0" y="0" font-size="7.1" text-anchor="end" font-weight="normal" font-style="normal" fill="#222" transform="translate(91.05999999999999,384.2) rotate(-45)" stroke="#222" stroke-width="0.12">Oct 2016</text>
<line x1="112.03999999999999" y1="376.4" x2="112.03999999999999" y2="378.2" stroke="#333" stroke-width="0.5"/>
<text x="0" y="0" font-size="7.1" text-anchor="end" font-weight="normal" font-style="normal" fill="#222" transform="translate(114.63999999999999,384.2) rotate(-45)" stroke="#222" stroke-width="0.12">Jan 2017</text>
<text x="83.5" y="403.9" font-size="6.9" text-anchor="middle" font-weight="normal" font-style="normal" fill="#222"  stroke="#222" stroke-width="0.12">date</text>
<line x1="30.3" y1="333.8" x2="127" y2="333.8" stroke="#9a9a9a" stroke-width="0.7"/>
<polygon points="31.30,321.60 32.88,322.69 34.46,323.76 36.04,324.81 37.61,325.84 39.19,326.84 40.77,327.82 42.35,328.76 43.93,329.68 45.51,330.58 47.08,331.41 48.66,332.10 50.24,332.64 51.82,333.06 53.40,333.47 54.98,333.88 56.55,334.27 58.13,334.59 59.71,334.79 61.29,334.87 62.87,334.85 64.45,334.83 66.02,334.81 67.60,334.73 69.18,334.58 70.76,334.39 72.34,334.17 73.92,333.94 75.49,333.72 77.07,333.47 78.65,333.17 80.23,332.85 81.81,332.51 83.39,332.16 84.96,331.82 86.54,331.48 88.12,331.15 89.70,330.81 91.28,330.47 92.86,330.13 94.43,329.79 96.01,329.45 97.59,329.16 99.17,328.88 100.75,328.59 102.33,328.29 103.90,327.98 105.48,327.66 107.06,327.33 108.64,326.98 110.22,326.64 111.79,326.29 113.37,325.94 114.95,325.57 116.53,325.19 118.11,324.79 119.69,324.37 121.27,323.93 122.84,323.47 124.42,323.00 126.00,322.50 126.00,333.70 124.42,333.58 122.84,333.48 121.27,333.40 119.69,333.33 118.11,333.29 116.53,333.26 114.95,333.25 113.37,333.26 111.79,333.29 110.22,333.33 108.64,333.41 107.06,333.51 105.48,333.62 103.90,333.75 102.33,333.89 100.75,334.04 99.17,334.20 97.59,334.37 96.01,334.57 94.43,334.82 92.86,335.10 91.28,335.39 89.70,335.69 88.12,336.00 86.54,336.31 84.96,336.64 83.39,336.97 81.81,337.31 80.23,337.65 78.65,337.97 77.07,338.27 75.49,338.52 73.92,338.75 72.34,338.98 70.76,339.22 69.18,339.43 67.60,339.61 66.02,339.73 64.45,339.81 62.87,339.89 61.29,339.98 59.71,340.00 58.13,339.91 56.55,339.72 54.98,339.48 53.40,339.24 51.82,339.03 50.24,338.82 48.66,338.53 47.08,338.11 45.51,337.58 43.93,337.00 42.35,336.44 40.77,335.89 39.19,335.34 37.61,334.80 36.04,334.27 34.46,333.76 32.88,333.27 31.30,332.80" fill="#cfcfcf" fill-opacity="0.55"/>
<circle cx="34.8" cy="315.4" r="1.3" fill="#1c365c"/>
<circle cx="34.8" cy="319.1" r="1.3" fill="#1c365c"/>
<circle cx="34.8" cy="322.8" r="1.3" fill="#1c365c"/>
<circle cx="38.7" cy="323.9" r="1.3" fill="#1c365c"/>
<circle cx="45.6" cy="325.0" r="1.3" fill="#1c365c"/>
<circle cx="45.6" cy="326.1" r="1.3" fill="#1c365c"/>
<circle cx="49.2" cy="328.7" r="1.3" fill="#1c365c"/>
<circle cx="54.7" cy="316.2" r="1.3" fill="#1c365c"/>
<circle cx="54.7" cy="324.8" r="1.3" fill="#1c365c"/>
<circle cx="38.7" cy="328.1" r="1.3" fill="#1c365c"/>
<circle cx="43.7" cy="330.1" r="1.3" fill="#1c365c"/>
<circle cx="31.3" cy="335.0" r="1.3" fill="#1c365c"/>
<circle cx="34.8" cy="333.6" r="1.3" fill="#1c365c"/>
<circle cx="36.5" cy="336.7" r="1.3" fill="#1c365c"/>
<circle cx="38.1" cy="332.5" r="1.3" fill="#1c365c"/>
<circle cx="42.0" cy="335.3" r="1.3" fill="#1c365c"/>
<circle cx="45.9" cy="333.1" r="1.3" fill="#1c365c"/>
<circle cx="45.9" cy="338.0" r="1.3" fill="#1c365c"/>
<circle cx="48.1" cy="337.5" r="1.3" fill="#1c365c"/>
<circle cx="49.2" cy="339.2" r="1.3" fill="#1c365c"/>
<circle cx="51.4" cy="333.9" r="1.3" fill="#1c365c"/>
<circle cx="43.7" cy="342.5" r="1.3" fill="#1c365c"/>
<circle cx="44.2" cy="343.6" r="1.3" fill="#1c365c"/>
<circle cx="42.0" cy="346.0" r="1.3" fill="#1c365c"/>
<circle cx="45.9" cy="346.9" r="1.3" fill="#1c365c"/>
<circle cx="54.7" cy="332.5" r="1.3" fill="#1c365c"/>
<circle cx="56.4" cy="333.1" r="1.3" fill="#1c365c"/>
<circle cx="58.0" cy="333.4" r="1.3" fill="#1c365c"/>
<circle cx="59.7" cy="333.4" r="1.3" fill="#1c365c"/>
<circle cx="54.7" cy="335.3" r="1.3" fill="#1c365c"/>
<circle cx="56.9" cy="348.5" r="1.3" fill="#1c365c"/>
<circle cx="58.6" cy="349.3" r="1.3" fill="#1c365c"/>
<circle cx="60.2" cy="354.4" r="1.3" fill="#1c365c"/>
<circle cx="56.4" cy="359.9" r="1.3" fill="#1c365c"/>
<circle cx="60.2" cy="340.0" r="1.3" fill="#1c365c"/>
<circle cx="60.8" cy="345.2" r="1.3" fill="#1c365c"/>
<circle cx="71.0" cy="317.6" r="1.3" fill="#1c365c"/>
<circle cx="73.0" cy="328.1" r="1.3" fill="#1c365c"/>
<circle cx="61.7" cy="332.5" r="1.3" fill="#1c365c"/>
<circle cx="61.1" cy="341.4" r="1.3" fill="#1c365c"/>
<circle cx="61.7" cy="344.7" r="1.3" fill="#1c365c"/>
<circle cx="60.6" cy="354.6" r="1.3" fill="#1c365c"/>
<circle cx="67.2" cy="332.0" r="1.3" fill="#1c365c"/>
<circle cx="67.7" cy="333.1" r="1.3" fill="#1c365c"/>
<circle cx="68.8" cy="333.1" r="1.3" fill="#1c365c"/>
<circle cx="70.5" cy="333.1" r="1.3" fill="#1c365c"/>
<circle cx="72.1" cy="333.6" r="1.3" fill="#1c365c"/>
<circle cx="67.2" cy="337.0" r="1.3" fill="#1c365c"/>
<circle cx="67.2" cy="340.3" r="1.3" fill="#1c365c"/>
<circle cx="67.7" cy="342.5" r="1.3" fill="#1c365c"/>
<circle cx="71.0" cy="338.0" r="1.3" fill="#1c365c"/>
<circle cx="71.0" cy="340.3" r="1.3" fill="#1c365c"/>
<circle cx="71.0" cy="344.1" r="1.3" fill="#1c365c"/>
<circle cx="72.7" cy="339.2" r="1.3" fill="#1c365c"/>
<circle cx="73.8" cy="341.4" r="1.3" fill="#1c365c"/>
<circle cx="74.9" cy="342.5" r="1.3" fill="#1c365c"/>
<circle cx="76.6" cy="339.2" r="1.3" fill="#1c365c"/>
<circle cx="76.6" cy="348.5" r="1.3" fill="#1c365c"/>
<circle cx="78.2" cy="333.1" r="1.3" fill="#1c365c"/>
<circle cx="78.8" cy="337.0" r="1.3" fill="#1c365c"/>
<circle cx="82.1" cy="326.5" r="1.3" fill="#1c365c"/>
<circle cx="85.4" cy="318.2" r="1.3" fill="#1c365c"/>
<circle cx="85.9" cy="321.5" r="1.3" fill="#1c365c"/>
<circle cx="87.0" cy="321.5" r="1.3" fill="#1c365c"/>
<circle cx="85.4" cy="327.0" r="1.3" fill="#1c365c"/>
<circle cx="86.5" cy="325.9" r="1.3" fill="#1c365c"/>
<circle cx="87.6" cy="324.8" r="1.3" fill="#1c365c"/>
<circle cx="89.2" cy="328.7" r="1.3" fill="#1c365c"/>
<circle cx="84.3" cy="333.1" r="1.3" fill="#1c365c"/>
<circle cx="86.5" cy="334.2" r="1.3" fill="#1c365c"/>
<circle cx="88.7" cy="334.7" r="1.3" fill="#1c365c"/>
<circle cx="83.7" cy="339.2" r="1.3" fill="#1c365c"/>
<circle cx="85.9" cy="339.7" r="1.3" fill="#1c365c"/>
<circle cx="87.6" cy="340.3" r="1.3" fill="#1c365c"/>
<circle cx="89.8" cy="339.2" r="1.3" fill="#1c365c"/>
<circle cx="90.9" cy="335.8" r="1.3" fill="#1c365c"/>
<circle cx="92.6" cy="336.9" r="1.3" fill="#1c365c"/>
<circle cx="92.0" cy="338.6" r="1.3" fill="#1c365c"/>
<circle cx="92.6" cy="317.1" r="1.3" fill="#1c365c"/>
<circle cx="94.8" cy="314.9" r="1.3" fill="#1c365c"/>
<circle cx="93.7" cy="328.1" r="1.3" fill="#1c365c"/>
<circle cx="94.2" cy="330.3" r="1.3" fill="#1c365c"/>
<circle cx="92.0" cy="345.8" r="1.3" fill="#1c365c"/>
<circle cx="94.2" cy="343.6" r="1.3" fill="#1c365c"/>
<circle cx="90.9" cy="361.0" r="1.3" fill="#1c365c"/>
<circle cx="96.2" cy="322.8" r="1.3" fill="#1c365c"/>
<circle cx="94.6" cy="328.1" r="1.3" fill="#1c365c"/>
<circle cx="100.1" cy="328.7" r="1.3" fill="#1c365c"/>
<circle cx="96.2" cy="333.7" r="1.3" fill="#1c365c"/>
<circle cx="97.3" cy="337.0" r="1.3" fill="#1c365c"/>
<circle cx="99.5" cy="335.9" r="1.3" fill="#1c365c"/>
<circle cx="101.2" cy="334.2" r="1.3" fill="#1c365c"/>
<circle cx="94.6" cy="343.6" r="1.3" fill="#1c365c"/>
<circle cx="110.0" cy="309.1" r="1.3" fill="#1c365c"/>
<circle cx="108.9" cy="315.4" r="1.3" fill="#1c365c"/>
<circle cx="108.9" cy="317.1" r="1.3" fill="#1c365c"/>
<circle cx="108.9" cy="324.3" r="1.3" fill="#1c365c"/>
<circle cx="108.9" cy="325.4" r="1.3" fill="#1c365c"/>
<circle cx="107.3" cy="328.1" r="1.3" fill="#1c365c"/>
<circle cx="108.4" cy="329.3" r="1.3" fill="#1c365c"/>
<circle cx="107.3" cy="332.6" r="1.3" fill="#1c365c"/>
<circle cx="107.8" cy="334.2" r="1.3" fill="#1c365c"/>
<circle cx="107.8" cy="336.4" r="1.3" fill="#1c365c"/>
<circle cx="107.3" cy="340.9" r="1.3" fill="#1c365c"/>
<circle cx="114.4" cy="324.3" r="1.3" fill="#1c365c"/>
<circle cx="114.4" cy="328.1" r="1.3" fill="#1c365c"/>
<circle cx="115.0" cy="330.4" r="1.3" fill="#1c365c"/>
<circle cx="114.4" cy="333.1" r="1.3" fill="#1c365c"/>
<circle cx="116.1" cy="334.2" r="1.3" fill="#1c365c"/>
<circle cx="117.8" cy="333.7" r="1.3" fill="#1c365c"/>
<circle cx="116.1" cy="347.0" r="1.3" fill="#1c365c"/>
<circle cx="117.8" cy="313.2" r="1.3" fill="#1c365c"/>
<circle cx="121.6" cy="315.4" r="1.3" fill="#1c365c"/>
<circle cx="123.8" cy="318.8" r="1.3" fill="#1c365c"/>
<circle cx="120.0" cy="322.6" r="1.3" fill="#1c365c"/>
<circle cx="121.6" cy="321.5" r="1.3" fill="#1c365c"/>
<circle cx="123.3" cy="321.0" r="1.3" fill="#1c365c"/>
<circle cx="120.0" cy="325.9" r="1.3" fill="#1c365c"/>
<circle cx="120.5" cy="330.4" r="1.3" fill="#1c365c"/>
<circle cx="122.2" cy="331.5" r="1.3" fill="#1c365c"/>
<circle cx="123.8" cy="332.6" r="1.3" fill="#1c365c"/>
<circle cx="124.9" cy="328.1" r="1.3" fill="#1c365c"/>
<circle cx="125.5" cy="330.4" r="1.3" fill="#1c365c"/>
<circle cx="126.0" cy="332.6" r="1.3" fill="#1c365c"/>
<circle cx="125.5" cy="334.8" r="1.3" fill="#1c365c"/>
<circle cx="123.8" cy="335.9" r="1.3" fill="#1c365c"/>
<circle cx="120.0" cy="342.5" r="1.3" fill="#1c365c"/>
<polyline points="31.30,327.20 32.88,327.98 34.46,328.76 36.04,329.54 37.61,330.32 39.19,331.09 40.77,331.85 42.35,332.60 43.93,333.34 45.51,334.08 47.08,334.76 48.66,335.32 50.24,335.73 51.82,336.04 53.40,336.36 54.98,336.68 56.55,336.99 58.13,337.25 59.71,337.40 61.29,337.43 62.87,337.37 64.45,337.32 66.02,337.27 67.60,337.17 69.18,337.01 70.76,336.80 72.34,336.57 73.92,336.35 75.49,336.12 77.07,335.87 78.65,335.57 80.23,335.25 81.81,334.91 83.39,334.57 84.96,334.23 86.54,333.90 88.12,333.57 89.70,333.25 91.28,332.93 92.86,332.62 94.43,332.30 96.01,332.01 97.59,331.76 99.17,331.54 100.75,331.31 102.33,331.09 103.90,330.86 105.48,330.64 107.06,330.42 108.64,330.20 110.22,329.98 111.79,329.79 113.37,329.60 114.95,329.41 116.53,329.22 118.11,329.04 119.69,328.85 121.27,328.66 122.84,328.47 124.42,328.29 126.00,328.10" fill="none" stroke="#e57f88" stroke-width="1.4" stroke-linejoin="round"/>
<text x="130.5" y="287.0" font-size="12.8" text-anchor="start" font-weight="normal" font-style="normal" fill="#111" stroke="#111" stroke-width="0.18">C</text>
<text x="208.9" y="289.4" font-size="6.55" text-anchor="middle" font-weight="normal" font-style="normal" fill="#222"  stroke="#222" stroke-width="0.12">M. tuberculosis PBMC 7d IFNγ</text>
<path d="M154.6,291.2 L154.6,376.4 L259.9,376.4" fill="none" stroke="#333" stroke-width="0.9"/>
<text x="0" y="0" font-size="6.8" text-anchor="middle" font-weight="normal" font-style="normal" fill="#222" transform="translate(153.4,307.40000000000003) rotate(-90)" stroke="#222" stroke-width="0.12">2</text>
<text x="0" y="0" font-size="6.8" text-anchor="middle" font-weight="normal" font-style="normal" fill="#222" transform="translate(153.4,333.8) rotate(-90)" stroke="#222" stroke-width="0.12">0</text>
<text x="0" y="0" font-size="6.8" text-anchor="middle" font-weight="normal" font-style="normal" fill="#222" transform="translate(153.4,360.2) rotate(-90)" stroke="#222" stroke-width="0.12">-2</text>
<text x="0" y="0" font-size="6.0" text-anchor="middle" font-weight="normal" font-style="normal" fill="#222" transform="translate(146.79999999999998,334.29999999999995) rotate(-90)" stroke="#222" stroke-width="0.12">Normalized difference from median</text>
<line x1="171.2" y1="376.4" x2="171.2" y2="378.2" stroke="#333" stroke-width="0.5"/>
<text x="0" y="0" font-size="7.1" text-anchor="end" font-weight="normal" font-style="normal" fill="#222" transform="translate(173.79999999999998,384.2) rotate(-45)" stroke="#222" stroke-width="0.12">Apr 2016</text>
<line x1="194.77999999999997" y1="376.4" x2="194.77999999999997" y2="378.2" stroke="#333" stroke-width="0.5"/>
<text x="0" y="0" font-size="7.1" text-anchor="end" font-weight="normal" font-style="normal" fill="#222" transform="translate(197.37999999999997,384.2) rotate(-45)" stroke="#222" stroke-width="0.12">Jul 2016</text>
<line x1="218.35999999999999" y1="376.4" x2="218.35999999999999" y2="378.2" stroke="#333" stroke-width="0.5"/>
<text x="0" y="0" font-size="7.1" text-anchor="end" font-weight="normal" font-style="normal" fill="#222" transform="translate(220.95999999999998,384.2) rotate(-45)" stroke="#222" stroke-width="0.12">Oct 2016</text>
<line x1="241.94" y1="376.4" x2="241.94" y2="378.2" stroke="#333" stroke-width="0.5"/>
<text x="0" y="0" font-size="7.1" text-anchor="end" font-weight="normal" font-style="normal" fill="#222" transform="translate(244.54,384.2) rotate(-45)" stroke="#222" stroke-width="0.12">Jan 2017</text>
<text x="213.5" y="403.9" font-size="6.9" text-anchor="middle" font-weight="normal" font-style="normal" fill="#222"  stroke="#222" stroke-width="0.12">date</text>
<line x1="158.3" y1="333.8" x2="256.1" y2="333.8" stroke="#9a9a9a" stroke-width="0.7"/>
<polygon points="159.30,322.00 160.90,322.87 162.49,323.72 164.09,324.55 165.69,325.34 167.28,326.08 168.88,326.73 170.48,327.33 172.07,327.92 173.67,328.48 175.27,329.04 176.86,329.57 178.46,330.09 180.06,330.59 181.65,331.06 183.25,331.53 184.85,331.99 186.44,332.43 188.04,332.87 189.64,333.30 191.23,333.63 192.83,333.80 194.43,333.84 196.02,333.80 197.62,333.76 199.22,333.71 200.81,333.65 202.41,333.60 204.01,333.54 205.60,333.48 207.20,333.38 208.80,333.21 210.39,333.00 211.99,332.76 213.59,332.52 215.18,332.28 216.78,332.03 218.38,331.78 219.97,331.52 221.57,331.26 223.17,330.99 224.76,330.72 226.36,330.48 227.96,330.26 229.55,330.06 231.15,329.85 232.75,329.62 234.34,329.39 235.94,329.14 237.54,328.90 239.13,328.68 240.73,328.50 242.33,328.34 243.92,328.16 245.52,327.96 247.12,327.75 248.71,327.52 250.31,327.27 251.91,327.00 253.50,326.71 255.10,326.40 255.10,337.60 253.50,337.29 251.91,337.00 250.31,336.73 248.71,336.48 247.12,336.25 245.52,336.04 243.92,335.84 242.33,335.66 240.73,335.50 239.13,335.38 237.54,335.33 235.94,335.32 234.34,335.35 232.75,335.39 231.15,335.45 229.55,335.51 227.96,335.58 226.36,335.69 224.76,335.84 223.17,336.02 221.57,336.23 219.97,336.44 218.38,336.66 216.78,336.88 215.18,337.10 213.59,337.33 211.99,337.57 210.39,337.80 208.80,338.01 207.20,338.18 205.60,338.28 204.01,338.34 202.41,338.40 200.81,338.47 199.22,338.54 197.62,338.61 196.02,338.68 194.43,338.76 192.83,338.78 191.23,338.67 189.64,338.42 188.04,338.08 186.44,337.76 184.85,337.44 183.25,337.13 181.65,336.84 180.06,336.55 178.46,336.27 176.86,336.00 175.27,335.73 173.67,335.48 172.07,335.24 170.48,335.02 168.88,334.81 167.28,334.58 165.69,334.31 164.09,334.01 162.49,333.72 160.90,333.45 159.30,333.20" fill="#cfcfcf" fill-opacity="0.55"/>
<circle cx="168.4" cy="303.3" r="1.3" fill="#1c365c"/>
<circle cx="172.0" cy="308.8" r="1.3" fill="#1c365c"/>
<circle cx="161.0" cy="321.3" r="1.3" fill="#1c365c"/>
<circle cx="168.1" cy="318.0" r="1.3" fill="#1c365c"/>
<circle cx="167.0" cy="322.0" r="1.3" fill="#1c365c"/>
<circle cx="165.9" cy="323.1" r="1.3" fill="#1c365c"/>
<circle cx="164.8" cy="324.8" r="1.3" fill="#1c365c"/>
<circle cx="175.3" cy="318.7" r="1.3" fill="#1c365c"/>
<circle cx="174.2" cy="320.9" r="1.3" fill="#1c365c"/>
<circle cx="175.9" cy="322.0" r="1.3" fill="#1c365c"/>
<circle cx="158.8" cy="328.1" r="1.3" fill="#1c365c"/>
<circle cx="159.3" cy="331.4" r="1.3" fill="#1c365c"/>
<circle cx="160.4" cy="333.1" r="1.3" fill="#1c365c"/>
<circle cx="159.3" cy="336.1" r="1.3" fill="#1c365c"/>
<circle cx="164.3" cy="328.1" r="1.3" fill="#1c365c"/>
<circle cx="164.8" cy="330.3" r="1.3" fill="#1c365c"/>
<circle cx="164.8" cy="333.1" r="1.3" fill="#1c365c"/>
<circle cx="164.8" cy="335.3" r="1.3" fill="#1c365c"/>
<circle cx="165.4" cy="336.9" r="1.3" fill="#1c365c"/>
<circle cx="165.9" cy="338.6" r="1.3" fill="#1c365c"/>
<circle cx="167.0" cy="338.0" r="1.3" fill="#1c365c"/>
<circle cx="168.1" cy="329.2" r="1.3" fill="#1c365c"/>
<circle cx="168.7" cy="333.1" r="1.3" fill="#1c365c"/>
<circle cx="172.6" cy="330.3" r="1.3" fill="#1c365c"/>
<circle cx="173.7" cy="331.4" r="1.3" fill="#1c365c"/>
<circle cx="174.2" cy="333.1" r="1.3" fill="#1c365c"/>
<circle cx="172.6" cy="335.3" r="1.3" fill="#1c365c"/>
<circle cx="173.1" cy="337.0" r="1.3" fill="#1c365c"/>
<circle cx="171.5" cy="339.2" r="1.3" fill="#1c365c"/>
<circle cx="172.6" cy="339.7" r="1.3" fill="#1c365c"/>
<circle cx="173.7" cy="340.5" r="1.3" fill="#1c365c"/>
<circle cx="176.4" cy="332.0" r="1.3" fill="#1c365c"/>
<circle cx="177.5" cy="333.1" r="1.3" fill="#1c365c"/>
<circle cx="179.2" cy="327.9" r="1.3" fill="#1c365c"/>
<circle cx="178.6" cy="336.4" r="1.3" fill="#1c365c"/>
<circle cx="179.7" cy="335.8" r="1.3" fill="#1c365c"/>
<circle cx="177.0" cy="339.2" r="1.3" fill="#1c365c"/>
<circle cx="177.5" cy="338.6" r="1.3" fill="#1c365c"/>
<circle cx="181.4" cy="334.2" r="1.3" fill="#1c365c"/>
<circle cx="175.6" cy="349.3" r="1.3" fill="#1c365c"/>
<circle cx="184.7" cy="325.9" r="1.3" fill="#1c365c"/>
<circle cx="184.7" cy="329.8" r="1.3" fill="#1c365c"/>
<circle cx="184.1" cy="334.7" r="1.3" fill="#1c365c"/>
<circle cx="185.8" cy="336.9" r="1.3" fill="#1c365c"/>
<circle cx="185.2" cy="338.6" r="1.3" fill="#1c365c"/>
<circle cx="186.4" cy="339.2" r="1.3" fill="#1c365c"/>
<circle cx="187.5" cy="337.5" r="1.3" fill="#1c365c"/>
<circle cx="188.6" cy="336.4" r="1.3" fill="#1c365c"/>
<circle cx="184.7" cy="343.6" r="1.3" fill="#1c365c"/>
<circle cx="188.0" cy="330.3" r="1.3" fill="#1c365c"/>
<circle cx="189.1" cy="332.0" r="1.3" fill="#1c365c"/>
<circle cx="186.9" cy="346.3" r="1.3" fill="#1c365c"/>
<circle cx="188.0" cy="345.6" r="1.3" fill="#1c365c"/>
<circle cx="189.7" cy="344.7" r="1.3" fill="#1c365c"/>
<circle cx="185.8" cy="350.2" r="1.3" fill="#1c365c"/>
<circle cx="186.4" cy="349.1" r="1.3" fill="#1c365c"/>
<circle cx="186.4" cy="358.5" r="1.3" fill="#1c365c"/>
<circle cx="188.6" cy="359.6" r="1.3" fill="#1c365c"/>
<circle cx="191.3" cy="322.6" r="1.3" fill="#1c365c"/>
<circle cx="191.3" cy="325.9" r="1.3" fill="#1c365c"/>
<circle cx="190.2" cy="326.5" r="1.3" fill="#1c365c"/>
<circle cx="191.3" cy="340.3" r="1.3" fill="#1c365c"/>
<circle cx="191.3" cy="330.3" r="1.3" fill="#1c365c"/>
<circle cx="191.3" cy="333.1" r="1.3" fill="#1c365c"/>
<circle cx="215.6" cy="305.5" r="1.3" fill="#1c365c"/>
<circle cx="191.7" cy="322.0" r="1.3" fill="#1c365c"/>
<circle cx="192.2" cy="323.1" r="1.3" fill="#1c365c"/>
<circle cx="192.2" cy="324.8" r="1.3" fill="#1c365c"/>
<circle cx="191.7" cy="326.5" r="1.3" fill="#1c365c"/>
<circle cx="191.7" cy="332.5" r="1.3" fill="#1c365c"/>
<circle cx="192.2" cy="334.2" r="1.3" fill="#1c365c"/>
<circle cx="191.7" cy="340.3" r="1.3" fill="#1c365c"/>
<circle cx="190.6" cy="345.2" r="1.3" fill="#1c365c"/>
<circle cx="197.2" cy="333.1" r="1.3" fill="#1c365c"/>
<circle cx="198.3" cy="332.5" r="1.3" fill="#1c365c"/>
<circle cx="199.9" cy="333.1" r="1.3" fill="#1c365c"/>
<circle cx="201.6" cy="333.1" r="1.3" fill="#1c365c"/>
<circle cx="198.8" cy="328.1" r="1.3" fill="#1c365c"/>
<circle cx="199.9" cy="330.9" r="1.3" fill="#1c365c"/>
<circle cx="201.6" cy="330.9" r="1.3" fill="#1c365c"/>
<circle cx="203.2" cy="330.9" r="1.3" fill="#1c365c"/>
<circle cx="201.0" cy="320.4" r="1.3" fill="#1c365c"/>
<circle cx="202.7" cy="323.1" r="1.3" fill="#1c365c"/>
<circle cx="201.0" cy="325.9" r="1.3" fill="#1c365c"/>
<circle cx="197.2" cy="339.2" r="1.3" fill="#1c365c"/>
<circle cx="202.7" cy="339.7" r="1.3" fill="#1c365c"/>
<circle cx="204.3" cy="340.3" r="1.3" fill="#1c365c"/>
<circle cx="206.6" cy="343.3" r="1.3" fill="#1c365c"/>
<circle cx="202.7" cy="346.0" r="1.3" fill="#1c365c"/>
<circle cx="206.6" cy="346.9" r="1.3" fill="#1c365c"/>
<circle cx="198.8" cy="350.2" r="1.3" fill="#1c365c"/>
<circle cx="201.0" cy="352.4" r="1.3" fill="#1c365c"/>
<circle cx="206.6" cy="355.5" r="1.3" fill="#1c365c"/>
<circle cx="207.7" cy="334.7" r="1.3" fill="#1c365c"/>
<circle cx="209.3" cy="333.6" r="1.3" fill="#1c365c"/>
<circle cx="210.4" cy="330.9" r="1.3" fill="#1c365c"/>
<circle cx="208.2" cy="338.0" r="1.3" fill="#1c365c"/>
<circle cx="209.9" cy="338.6" r="1.3" fill="#1c365c"/>
<circle cx="211.5" cy="338.0" r="1.3" fill="#1c365c"/>
<circle cx="213.2" cy="337.5" r="1.3" fill="#1c365c"/>
<circle cx="212.1" cy="323.9" r="1.3" fill="#1c365c"/>
<circle cx="212.1" cy="342.5" r="1.3" fill="#1c365c"/>
<circle cx="212.1" cy="352.2" r="1.3" fill="#1c365c"/>
<circle cx="215.4" cy="330.3" r="1.3" fill="#1c365c"/>
<circle cx="217.0" cy="339.2" r="1.3" fill="#1c365c"/>
<circle cx="218.7" cy="338.6" r="1.3" fill="#1c365c"/>
<circle cx="217.6" cy="340.3" r="1.3" fill="#1c365c"/>
<circle cx="220.4" cy="337.5" r="1.3" fill="#1c365c"/>
<circle cx="219.2" cy="328.1" r="1.3" fill="#1c365c"/>
<circle cx="222.6" cy="322.0" r="1.3" fill="#1c365c"/>
<circle cx="224.2" cy="316.5" r="1.3" fill="#1c365c"/>
<circle cx="225.9" cy="323.7" r="1.3" fill="#1c365c"/>
<circle cx="222.6" cy="339.7" r="1.3" fill="#1c365c"/>
<circle cx="222.6" cy="348.0" r="1.3" fill="#1c365c"/>
<circle cx="220.9" cy="355.2" r="1.3" fill="#1c365c"/>
<circle cx="225.3" cy="332.5" r="1.3" fill="#1c365c"/>
<circle cx="225.3" cy="340.3" r="1.3" fill="#1c365c"/>
<circle cx="225.3" cy="348.0" r="1.3" fill="#1c365c"/>
<circle cx="224.8" cy="316.5" r="1.3" fill="#1c365c"/>
<circle cx="229.7" cy="315.4" r="1.3" fill="#1c365c"/>
<circle cx="229.7" cy="318.7" r="1.3" fill="#1c365c"/>
<circle cx="233.6" cy="313.2" r="1.3" fill="#1c365c"/>
<circle cx="239.1" cy="315.8" r="1.3" fill="#1c365c"/>
<circle cx="253.5" cy="315.8" r="1.3" fill="#1c365c"/>
<circle cx="226.4" cy="323.5" r="1.3" fill="#1c365c"/>
<circle cx="226.4" cy="330.3" r="1.3" fill="#1c365c"/>
<circle cx="222.6" cy="321.5" r="1.3" fill="#1c365c"/>
<circle cx="226.4" cy="340.3" r="1.3" fill="#1c365c"/>
<circle cx="228.1" cy="344.7" r="1.3" fill="#1c365c"/>
<circle cx="226.4" cy="348.0" r="1.3" fill="#1c365c"/>
<circle cx="222.6" cy="348.0" r="1.3" fill="#1c365c"/>
<circle cx="222.6" cy="339.7" r="1.3" fill="#1c365c"/>
<circle cx="233.6" cy="329.2" r="1.3" fill="#1c365c"/>
<circle cx="233.0" cy="337.0" r="1.3" fill="#1c365c"/>
<circle cx="235.2" cy="335.8" r="1.3" fill="#1c365c"/>
<circle cx="236.9" cy="336.4" r="1.3" fill="#1c365c"/>
<circle cx="238.6" cy="337.0" r="1.3" fill="#1c365c"/>
<circle cx="239.1" cy="327.0" r="1.3" fill="#1c365c"/>
<circle cx="239.1" cy="328.1" r="1.3" fill="#1c365c"/>
<circle cx="238.6" cy="332.5" r="1.3" fill="#1c365c"/>
<circle cx="239.7" cy="334.2" r="1.3" fill="#1c365c"/>
<circle cx="244.6" cy="328.1" r="1.3" fill="#1c365c"/>
<circle cx="245.2" cy="333.6" r="1.3" fill="#1c365c"/>
<circle cx="247.9" cy="329.2" r="1.3" fill="#1c365c"/>
<circle cx="250.1" cy="335.8" r="1.3" fill="#1c365c"/>
<circle cx="251.2" cy="336.9" r="1.3" fill="#1c365c"/>
<circle cx="253.5" cy="338.0" r="1.3" fill="#1c365c"/>
<circle cx="250.1" cy="342.5" r="1.3" fill="#1c365c"/>
<circle cx="248.5" cy="343.6" r="1.3" fill="#1c365c"/>
<circle cx="246.8" cy="345.2" r="1.3" fill="#1c365c"/>
<circle cx="255.1" cy="323.7" r="1.3" fill="#1c365c"/>
<circle cx="255.1" cy="325.4" r="1.3" fill="#1c365c"/>
<circle cx="255.1" cy="328.7" r="1.3" fill="#1c365c"/>
<circle cx="255.1" cy="331.4" r="1.3" fill="#1c365c"/>
<polyline points="159.30,327.60 160.90,328.16 162.49,328.72 164.09,329.28 165.69,329.82 167.28,330.33 168.88,330.77 170.48,331.18 172.07,331.58 173.67,331.98 175.27,332.39 176.86,332.79 178.46,333.18 180.06,333.57 181.65,333.95 183.25,334.33 184.85,334.71 186.44,335.10 188.04,335.48 189.64,335.86 191.23,336.15 192.83,336.29 194.43,336.30 196.02,336.24 197.62,336.18 199.22,336.12 200.81,336.06 202.41,336.00 204.01,335.94 205.60,335.88 207.20,335.78 208.80,335.61 210.39,335.40 211.99,335.16 213.59,334.93 215.18,334.69 216.78,334.45 218.38,334.22 219.97,333.98 221.57,333.74 223.17,333.51 224.76,333.28 226.36,333.08 227.96,332.92 229.55,332.78 231.15,332.65 232.75,332.51 234.34,332.37 235.94,332.23 237.54,332.11 239.13,332.03 240.73,332.00 242.33,332.00 243.92,332.00 245.52,332.00 247.12,332.00 248.71,332.00 250.31,332.00 251.91,332.00 253.50,332.00 255.10,332.00" fill="none" stroke="#e57f88" stroke-width="1.4" stroke-linejoin="round"/>
<text x="261.0" y="287.0" font-size="12.8" text-anchor="start" font-weight="normal" font-style="normal" fill="#111" stroke="#111" stroke-width="0.18">D</text>
<text x="337.8" y="289.4" font-size="6.55" text-anchor="middle" font-weight="normal" font-style="normal" fill="#222"  stroke="#222" stroke-width="0.12">R. microsporus PBMC 7d IFNγ</text>
<path d="M284.5,291.2 L284.5,376.4 L389.9,376.4" fill="none" stroke="#333" stroke-width="0.9"/>
<text x="0" y="0" font-size="6.8" text-anchor="middle" font-weight="normal" font-style="normal" fill="#222" transform="translate(283.5,307.40000000000003) rotate(-90)" stroke="#222" stroke-width="0.12">2</text>
<text x="0" y="0" font-size="6.8" text-anchor="middle" font-weight="normal" font-style="normal" fill="#222" transform="translate(283.5,333.8) rotate(-90)" stroke="#222" stroke-width="0.12">0</text>
<text x="0" y="0" font-size="6.8" text-anchor="middle" font-weight="normal" font-style="normal" fill="#222" transform="translate(283.5,360.2) rotate(-90)" stroke="#222" stroke-width="0.12">-2</text>
<text x="0" y="0" font-size="6.0" text-anchor="middle" font-weight="normal" font-style="normal" fill="#222" transform="translate(276.75,334.29999999999995) rotate(-90)" stroke="#222" stroke-width="0.12">Normalized difference from median</text>
<line x1="301.1" y1="376.4" x2="301.1" y2="378.2" stroke="#333" stroke-width="0.5"/>
<text x="0" y="0" font-size="7.1" text-anchor="end" font-weight="normal" font-style="normal" fill="#222" transform="translate(303.70000000000005,384.2) rotate(-45)" stroke="#222" stroke-width="0.12">Apr 2016</text>
<line x1="324.68" y1="376.4" x2="324.68" y2="378.2" stroke="#333" stroke-width="0.5"/>
<text x="0" y="0" font-size="7.1" text-anchor="end" font-weight="normal" font-style="normal" fill="#222" transform="translate(327.28000000000003,384.2) rotate(-45)" stroke="#222" stroke-width="0.12">Jul 2016</text>
<line x1="348.26" y1="376.4" x2="348.26" y2="378.2" stroke="#333" stroke-width="0.5"/>
<text x="0" y="0" font-size="7.1" text-anchor="end" font-weight="normal" font-style="normal" fill="#222" transform="translate(350.86,384.2) rotate(-45)" stroke="#222" stroke-width="0.12">Oct 2016</text>
<line x1="371.84000000000003" y1="376.4" x2="371.84000000000003" y2="378.2" stroke="#333" stroke-width="0.5"/>
<text x="0" y="0" font-size="7.1" text-anchor="end" font-weight="normal" font-style="normal" fill="#222" transform="translate(374.44000000000005,384.2) rotate(-45)" stroke="#222" stroke-width="0.12">Jan 2017</text>
<text x="343.2" y="403.9" font-size="6.9" text-anchor="middle" font-weight="normal" font-style="normal" fill="#222"  stroke="#222" stroke-width="0.12">date</text>
<line x1="288.3" y1="333.8" x2="386.5" y2="333.8" stroke="#9a9a9a" stroke-width="0.7"/>
<polygon points="289.30,321.40 290.90,322.08 292.51,322.73 294.11,323.37 295.71,323.99 297.32,324.58 298.92,325.16 300.52,325.73 302.13,326.27 303.73,326.81 305.33,327.34 306.94,327.88 308.54,328.43 310.14,328.97 311.75,329.51 313.35,330.03 314.95,330.54 316.56,331.05 318.16,331.54 319.76,332.00 321.37,332.40 322.97,332.64 324.57,332.81 326.18,332.96 327.78,333.11 329.38,333.24 330.99,333.35 332.59,333.39 334.19,333.40 335.80,333.40 337.40,333.36 339.00,333.24 340.61,332.94 342.21,332.54 343.81,332.14 345.42,331.73 347.02,331.40 348.62,331.19 350.23,331.08 351.83,331.01 353.43,330.94 355.04,330.89 356.64,330.86 358.24,330.86 359.85,330.89 361.45,330.90 363.05,330.90 364.66,330.89 366.26,330.87 367.86,330.84 369.47,330.78 371.07,330.68 372.67,330.54 374.28,330.36 375.88,330.16 377.48,329.95 379.09,329.72 380.69,329.47 382.29,329.20 383.90,328.91 385.50,328.60 385.50,339.80 383.90,339.49 382.29,339.20 380.69,338.93 379.09,338.68 377.48,338.45 375.88,338.24 374.28,338.04 372.67,337.86 371.07,337.68 369.47,337.47 367.86,337.26 366.26,337.05 364.66,336.86 363.05,336.67 361.45,336.50 359.85,336.34 358.24,336.18 356.64,336.07 355.04,336.00 353.43,335.98 351.83,335.99 350.23,336.00 348.62,336.07 347.02,336.25 345.42,336.56 343.81,336.95 342.21,337.35 340.61,337.74 339.00,338.04 337.40,338.16 335.80,338.20 334.19,338.20 332.59,338.19 330.99,338.17 329.38,338.07 327.78,337.96 326.18,337.84 324.57,337.73 322.97,337.61 321.37,337.43 319.76,337.12 318.16,336.75 316.56,336.37 314.95,335.99 313.35,335.63 311.75,335.28 310.14,334.94 308.54,334.61 306.94,334.31 305.33,334.03 303.73,333.80 302.13,333.60 300.52,333.41 298.92,333.24 297.32,333.09 295.71,332.95 294.11,332.83 292.51,332.74 290.90,332.66 289.30,332.60" fill="#cfcfcf" fill-opacity="0.55"/>
<circle cx="303.7" cy="303.5" r="1.3" fill="#1c365c"/>
<circle cx="296.5" cy="306.6" r="1.3" fill="#1c365c"/>
<circle cx="298.1" cy="308.2" r="1.3" fill="#1c365c"/>
<circle cx="314.5" cy="307.4" r="1.3" fill="#1c365c"/>
<circle cx="305.6" cy="314.8" r="1.3" fill="#1c365c"/>
<circle cx="309.2" cy="315.6" r="1.3" fill="#1c365c"/>
<circle cx="314.7" cy="317.0" r="1.3" fill="#1c365c"/>
<circle cx="316.0" cy="317.0" r="1.3" fill="#1c365c"/>
<circle cx="321.3" cy="316.5" r="1.3" fill="#1c365c"/>
<circle cx="289.3" cy="324.8" r="1.3" fill="#1c365c"/>
<circle cx="294.8" cy="318.9" r="1.3" fill="#1c365c"/>
<circle cx="296.5" cy="320.4" r="1.3" fill="#1c365c"/>
<circle cx="294.8" cy="322.9" r="1.3" fill="#1c365c"/>
<circle cx="297.0" cy="323.1" r="1.3" fill="#1c365c"/>
<circle cx="298.7" cy="323.7" r="1.3" fill="#1c365c"/>
<circle cx="294.3" cy="325.3" r="1.3" fill="#1c365c"/>
<circle cx="297.6" cy="326.4" r="1.3" fill="#1c365c"/>
<circle cx="291.0" cy="332.0" r="1.3" fill="#1c365c"/>
<circle cx="289.3" cy="334.7" r="1.3" fill="#1c365c"/>
<circle cx="291.0" cy="337.5" r="1.3" fill="#1c365c"/>
<circle cx="289.3" cy="340.2" r="1.3" fill="#1c365c"/>
<circle cx="294.3" cy="330.3" r="1.3" fill="#1c365c"/>
<circle cx="294.8" cy="332.5" r="1.3" fill="#1c365c"/>
<circle cx="294.8" cy="334.7" r="1.3" fill="#1c365c"/>
<circle cx="294.8" cy="336.4" r="1.3" fill="#1c365c"/>
<circle cx="302.0" cy="326.4" r="1.3" fill="#1c365c"/>
<circle cx="303.7" cy="323.1" r="1.3" fill="#1c365c"/>
<circle cx="305.9" cy="322.9" r="1.3" fill="#1c365c"/>
<circle cx="305.3" cy="325.3" r="1.3" fill="#1c365c"/>
<circle cx="305.9" cy="328.1" r="1.3" fill="#1c365c"/>
<circle cx="302.0" cy="332.0" r="1.3" fill="#1c365c"/>
<circle cx="303.1" cy="333.6" r="1.3" fill="#1c365c"/>
<circle cx="303.7" cy="334.7" r="1.3" fill="#1c365c"/>
<circle cx="305.3" cy="333.6" r="1.3" fill="#1c365c"/>
<circle cx="307.0" cy="332.5" r="1.3" fill="#1c365c"/>
<circle cx="308.6" cy="333.6" r="1.3" fill="#1c365c"/>
<circle cx="309.2" cy="329.2" r="1.3" fill="#1c365c"/>
<circle cx="311.2" cy="325.1" r="1.3" fill="#1c365c"/>
<circle cx="315.8" cy="319.8" r="1.3" fill="#1c365c"/>
<circle cx="316.4" cy="322.0" r="1.3" fill="#1c365c"/>
<circle cx="315.8" cy="323.1" r="1.3" fill="#1c365c"/>
<circle cx="314.1" cy="326.4" r="1.3" fill="#1c365c"/>
<circle cx="315.2" cy="328.1" r="1.3" fill="#1c365c"/>
<circle cx="315.8" cy="329.7" r="1.3" fill="#1c365c"/>
<circle cx="314.1" cy="331.9" r="1.3" fill="#1c365c"/>
<circle cx="315.8" cy="333.0" r="1.3" fill="#1c365c"/>
<circle cx="303.7" cy="343.5" r="1.3" fill="#1c365c"/>
<circle cx="307.0" cy="343.5" r="1.3" fill="#1c365c"/>
<circle cx="311.2" cy="342.8" r="1.3" fill="#1c365c"/>
<circle cx="291.0" cy="348.3" r="1.3" fill="#1c365c"/>
<circle cx="316.4" cy="341.3" r="1.3" fill="#1c365c"/>
<circle cx="318.0" cy="341.9" r="1.3" fill="#1c365c"/>
<circle cx="318.0" cy="344.6" r="1.3" fill="#1c365c"/>
<circle cx="319.1" cy="338.6" r="1.3" fill="#1c365c"/>
<circle cx="320.2" cy="340.2" r="1.3" fill="#1c365c"/>
<circle cx="320.8" cy="336.4" r="1.3" fill="#1c365c"/>
<circle cx="314.5" cy="354.0" r="1.3" fill="#1c365c"/>
<circle cx="318.0" cy="353.5" r="1.3" fill="#1c365c"/>
<circle cx="316.4" cy="358.4" r="1.3" fill="#1c365c"/>
<circle cx="316.4" cy="362.8" r="1.3" fill="#1c365c"/>
<circle cx="322.0" cy="316.3" r="1.3" fill="#1c365c"/>
<circle cx="352.6" cy="310.4" r="1.3" fill="#1c365c"/>
<circle cx="352.6" cy="316.5" r="1.3" fill="#1c365c"/>
<circle cx="354.2" cy="317.0" r="1.3" fill="#1c365c"/>
<circle cx="355.3" cy="324.8" r="1.3" fill="#1c365c"/>
<circle cx="327.2" cy="327.3" r="1.3" fill="#1c365c"/>
<circle cx="332.7" cy="325.1" r="1.3" fill="#1c365c"/>
<circle cx="336.3" cy="327.3" r="1.3" fill="#1c365c"/>
<circle cx="339.9" cy="325.3" r="1.3" fill="#1c365c"/>
<circle cx="320.6" cy="330.3" r="1.3" fill="#1c365c"/>
<circle cx="321.7" cy="332.5" r="1.3" fill="#1c365c"/>
<circle cx="320.6" cy="336.9" r="1.3" fill="#1c365c"/>
<circle cx="321.7" cy="338.6" r="1.3" fill="#1c365c"/>
<circle cx="320.6" cy="341.9" r="1.3" fill="#1c365c"/>
<circle cx="327.2" cy="331.4" r="1.3" fill="#1c365c"/>
<circle cx="328.8" cy="330.8" r="1.3" fill="#1c365c"/>
<circle cx="330.5" cy="330.8" r="1.3" fill="#1c365c"/>
<circle cx="328.3" cy="333.6" r="1.3" fill="#1c365c"/>
<circle cx="330.5" cy="334.2" r="1.3" fill="#1c365c"/>
<circle cx="332.1" cy="334.2" r="1.3" fill="#1c365c"/>
<circle cx="331.0" cy="340.2" r="1.3" fill="#1c365c"/>
<circle cx="332.7" cy="341.3" r="1.3" fill="#1c365c"/>
<circle cx="333.2" cy="343.0" r="1.3" fill="#1c365c"/>
<circle cx="336.0" cy="340.8" r="1.3" fill="#1c365c"/>
<circle cx="338.2" cy="340.8" r="1.3" fill="#1c365c"/>
<circle cx="327.2" cy="345.2" r="1.3" fill="#1c365c"/>
<circle cx="327.2" cy="349.6" r="1.3" fill="#1c365c"/>
<circle cx="329.4" cy="350.7" r="1.3" fill="#1c365c"/>
<circle cx="336.3" cy="344.6" r="1.3" fill="#1c365c"/>
<circle cx="337.7" cy="333.6" r="1.3" fill="#1c365c"/>
<circle cx="341.5" cy="332.5" r="1.3" fill="#1c365c"/>
<circle cx="343.7" cy="331.9" r="1.3" fill="#1c365c"/>
<circle cx="347.0" cy="328.6" r="1.3" fill="#1c365c"/>
<circle cx="346.5" cy="332.5" r="1.3" fill="#1c365c"/>
<circle cx="347.6" cy="329.7" r="1.3" fill="#1c365c"/>
<circle cx="351.5" cy="328.1" r="1.3" fill="#1c365c"/>
<circle cx="347.0" cy="338.6" r="1.3" fill="#1c365c"/>
<circle cx="347.6" cy="340.8" r="1.3" fill="#1c365c"/>
<circle cx="349.2" cy="339.1" r="1.3" fill="#1c365c"/>
<circle cx="350.9" cy="337.5" r="1.3" fill="#1c365c"/>
<circle cx="353.1" cy="336.4" r="1.3" fill="#1c365c"/>
<circle cx="352.6" cy="343.5" r="1.3" fill="#1c365c"/>
<circle cx="354.2" cy="354.0" r="1.3" fill="#1c365c"/>
<circle cx="350.9" cy="357.9" r="1.3" fill="#1c365c"/>
<circle cx="341.9" cy="363.7" r="1.3" fill="#1c365c"/>
<circle cx="383.2" cy="308.8" r="1.3" fill="#1c365c"/>
<circle cx="354.6" cy="317.0" r="1.3" fill="#1c365c"/>
<circle cx="360.1" cy="318.1" r="1.3" fill="#1c365c"/>
<circle cx="356.2" cy="324.8" r="1.3" fill="#1c365c"/>
<circle cx="381.6" cy="323.1" r="1.3" fill="#1c365c"/>
<circle cx="383.2" cy="321.5" r="1.3" fill="#1c365c"/>
<circle cx="363.4" cy="327.0" r="1.3" fill="#1c365c"/>
<circle cx="358.4" cy="330.8" r="1.3" fill="#1c365c"/>
<circle cx="360.1" cy="331.4" r="1.3" fill="#1c365c"/>
<circle cx="361.7" cy="330.8" r="1.3" fill="#1c365c"/>
<circle cx="363.4" cy="330.3" r="1.3" fill="#1c365c"/>
<circle cx="367.2" cy="328.1" r="1.3" fill="#1c365c"/>
<circle cx="368.9" cy="328.6" r="1.3" fill="#1c365c"/>
<circle cx="369.5" cy="330.8" r="1.3" fill="#1c365c"/>
<circle cx="367.2" cy="331.9" r="1.3" fill="#1c365c"/>
<circle cx="368.3" cy="333.0" r="1.3" fill="#1c365c"/>
<circle cx="368.9" cy="335.3" r="1.3" fill="#1c365c"/>
<circle cx="374.4" cy="326.4" r="1.3" fill="#1c365c"/>
<circle cx="374.4" cy="332.5" r="1.3" fill="#1c365c"/>
<circle cx="377.7" cy="328.1" r="1.3" fill="#1c365c"/>
<circle cx="379.4" cy="329.7" r="1.3" fill="#1c365c"/>
<circle cx="379.9" cy="331.9" r="1.3" fill="#1c365c"/>
<circle cx="354.6" cy="338.0" r="1.3" fill="#1c365c"/>
<circle cx="356.2" cy="340.8" r="1.3" fill="#1c365c"/>
<circle cx="355.7" cy="336.9" r="1.3" fill="#1c365c"/>
<circle cx="360.1" cy="341.9" r="1.3" fill="#1c365c"/>
<circle cx="363.4" cy="341.9" r="1.3" fill="#1c365c"/>
<circle cx="363.4" cy="337.5" r="1.3" fill="#1c365c"/>
<circle cx="368.9" cy="338.6" r="1.3" fill="#1c365c"/>
<circle cx="380.5" cy="336.4" r="1.3" fill="#1c365c"/>
<circle cx="382.1" cy="336.9" r="1.3" fill="#1c365c"/>
<circle cx="383.8" cy="336.4" r="1.3" fill="#1c365c"/>
<circle cx="385.5" cy="333.6" r="1.3" fill="#1c365c"/>
<circle cx="384.9" cy="338.6" r="1.3" fill="#1c365c"/>
<circle cx="385.5" cy="340.2" r="1.3" fill="#1c365c"/>
<circle cx="379.9" cy="342.8" r="1.3" fill="#1c365c"/>
<circle cx="376.1" cy="346.5" r="1.3" fill="#1c365c"/>
<circle cx="376.1" cy="350.5" r="1.3" fill="#1c365c"/>
<circle cx="376.1" cy="360.1" r="1.3" fill="#1c365c"/>
<circle cx="354.6" cy="353.8" r="1.3" fill="#1c365c"/>
<polyline points="289.30,327.00 290.90,327.37 292.51,327.73 294.11,328.10 295.71,328.47 297.32,328.84 298.92,329.20 300.52,329.57 302.13,329.94 303.73,330.30 305.33,330.69 306.94,331.09 308.54,331.52 310.14,331.96 311.75,332.39 313.35,332.83 314.95,333.27 316.56,333.71 318.16,334.14 319.76,334.56 321.37,334.91 322.97,335.12 324.57,335.27 326.18,335.40 327.78,335.53 329.38,335.66 330.99,335.76 332.59,335.79 334.19,335.80 335.80,335.80 337.40,335.76 339.00,335.64 340.61,335.34 342.21,334.95 343.81,334.55 345.42,334.15 347.02,333.83 348.62,333.63 350.23,333.54 351.83,333.50 353.43,333.46 355.04,333.44 356.64,333.46 358.24,333.52 359.85,333.61 361.45,333.70 363.05,333.79 364.66,333.87 366.26,333.96 367.86,334.05 369.47,334.13 371.07,334.18 372.67,334.20 374.28,334.20 375.88,334.20 377.48,334.20 379.09,334.20 380.69,334.20 382.29,334.20 383.90,334.20 385.50,334.20" fill="none" stroke="#e57f88" stroke-width="1.4" stroke-linejoin="round"/>
<line x1="290.4" y1="296.0" x2="306.4" y2="296.0" stroke="#333" stroke-width="0.6"/>
<line x1="290.4" y1="295.1" x2="290.4" y2="296.9" stroke="#333" stroke-width="0.5"/>
<line x1="306.4" y1="295.1" x2="306.4" y2="296.9" stroke="#333" stroke-width="0.5"/>
<circle cx="298.4" cy="296.0" r="1.2" fill="#111"/>
<line x1="298.4" y1="296.0" x2="298.4" y2="299.6" stroke="#333" stroke-width="0.5"/>
<text x="394.5" y="287.0" font-size="12.8" text-anchor="start" font-weight="normal" font-style="normal" fill="#111" stroke="#111" stroke-width="0.18">E</text>
<text x="467.5" y="289.4" font-size="6.55" text-anchor="middle" font-weight="normal" font-style="normal" fill="#222"  stroke="#222" stroke-width="0.12">Imiquimod PBMC 7d IFNγ</text>
<path d="M414.4,291.2 L414.4,376.4 L520.5,376.4" fill="none" stroke="#333" stroke-width="0.9"/>
<text x="0" y="0" font-size="6.8" text-anchor="middle" font-weight="normal" font-style="normal" fill="#222" transform="translate(413.29999999999995,307.40000000000003) rotate(-90)" stroke="#222" stroke-width="0.12">2</text>
<text x="0" y="0" font-size="6.8" text-anchor="middle" font-weight="normal" font-style="normal" fill="#222" transform="translate(413.29999999999995,333.8) rotate(-90)" stroke="#222" stroke-width="0.12">0</text>
<text x="0" y="0" font-size="6.8" text-anchor="middle" font-weight="normal" font-style="normal" fill="#222" transform="translate(413.29999999999995,360.2) rotate(-90)" stroke="#222" stroke-width="0.12">-2</text>
<text x="0" y="0" font-size="6.0" text-anchor="middle" font-weight="normal" font-style="normal" fill="#222" transform="translate(406.59999999999997,334.29999999999995) rotate(-90)" stroke="#222" stroke-width="0.12">Normalized difference from median</text>
<line x1="431.0" y1="376.4" x2="431.0" y2="378.2" stroke="#333" stroke-width="0.5"/>
<text x="0" y="0" font-size="7.1" text-anchor="end" font-weight="normal" font-style="normal" fill="#222" transform="translate(433.6,384.2) rotate(-45)" stroke="#222" stroke-width="0.12">Apr 2016</text>
<line x1="454.58" y1="376.4" x2="454.58" y2="378.2" stroke="#333" stroke-width="0.5"/>
<text x="0" y="0" font-size="7.1" text-anchor="end" font-weight="normal" font-style="normal" fill="#222" transform="translate(457.18,384.2) rotate(-45)" stroke="#222" stroke-width="0.12">Jul 2016</text>
<line x1="478.15999999999997" y1="376.4" x2="478.15999999999997" y2="378.2" stroke="#333" stroke-width="0.5"/>
<text x="0" y="0" font-size="7.1" text-anchor="end" font-weight="normal" font-style="normal" fill="#222" transform="translate(480.76,384.2) rotate(-45)" stroke="#222" stroke-width="0.12">Oct 2016</text>
<line x1="501.74" y1="376.4" x2="501.74" y2="378.2" stroke="#333" stroke-width="0.5"/>
<text x="0" y="0" font-size="7.1" text-anchor="end" font-weight="normal" font-style="normal" fill="#222" transform="translate(504.34000000000003,384.2) rotate(-45)" stroke="#222" stroke-width="0.12">Jan 2017</text>
<text x="474.2" y="403.9" font-size="6.9" text-anchor="middle" font-weight="normal" font-style="normal" fill="#222"  stroke="#222" stroke-width="0.12">date</text>
<line x1="418.1" y1="333.8" x2="516.5" y2="333.8" stroke="#9a9a9a" stroke-width="0.7"/>
<polygon points="419.10,332.40 420.71,332.26 422.31,332.09 423.92,331.91 425.53,331.71 427.13,331.49 428.74,331.25 430.35,330.99 431.95,330.76 433.56,330.59 435.17,330.47 436.77,330.36 438.38,330.24 439.99,330.11 441.59,329.97 443.20,329.81 444.81,329.65 446.41,329.47 448.02,329.29 449.63,329.10 451.23,328.92 452.84,328.78 454.45,328.65 456.05,328.52 457.66,328.39 459.27,328.26 460.87,328.12 462.48,327.97 464.09,327.83 465.69,327.68 467.30,327.54 468.91,327.46 470.51,327.50 472.12,327.69 473.73,327.96 475.33,328.24 476.94,328.51 478.55,328.77 480.15,329.03 481.76,329.29 483.37,329.54 484.97,329.76 486.58,329.95 488.19,330.10 489.79,330.23 491.40,330.34 493.01,330.44 494.61,330.53 496.22,330.60 497.83,330.67 499.43,330.72 501.04,330.75 502.65,330.76 504.25,330.75 505.86,330.73 507.47,330.69 509.07,330.63 510.68,330.55 512.29,330.45 513.89,330.34 515.50,330.20 515.50,341.40 513.89,340.92 512.29,340.46 510.68,340.02 509.07,339.59 507.47,339.19 505.86,338.80 504.25,338.43 502.65,338.08 501.04,337.74 499.43,337.41 497.83,337.09 496.22,336.78 494.61,336.49 493.01,336.21 491.40,335.94 489.79,335.68 488.19,335.42 486.58,335.16 484.97,334.88 483.37,334.58 481.76,334.26 480.15,333.96 478.55,333.65 476.94,333.36 475.33,333.07 473.73,332.78 472.12,332.49 470.51,332.30 468.91,332.26 467.30,332.34 465.69,332.48 464.09,332.63 462.48,332.78 460.87,332.93 459.27,333.09 457.66,333.24 456.05,333.41 454.45,333.57 452.84,333.75 451.23,333.96 449.63,334.21 448.02,334.50 446.41,334.79 444.81,335.10 443.20,335.41 441.59,335.74 439.99,336.08 438.38,336.43 436.77,336.79 435.17,337.16 433.56,337.59 431.95,338.09 430.35,338.68 428.74,339.32 427.13,339.99 425.53,340.67 423.92,341.38 422.31,342.10 420.71,342.84 419.10,343.60" fill="#cfcfcf" fill-opacity="0.55"/>
<circle cx="446.0" cy="307.4" r="1.3" fill="#1c365c"/>
<circle cx="445.8" cy="314.3" r="1.3" fill="#1c365c"/>
<circle cx="445.8" cy="315.9" r="1.3" fill="#1c365c"/>
<circle cx="449.7" cy="315.4" r="1.3" fill="#1c365c"/>
<circle cx="435.3" cy="320.4" r="1.3" fill="#1c365c"/>
<circle cx="451.3" cy="321.5" r="1.3" fill="#1c365c"/>
<circle cx="419.1" cy="325.9" r="1.3" fill="#1c365c"/>
<circle cx="424.3" cy="328.6" r="1.3" fill="#1c365c"/>
<circle cx="427.6" cy="329.2" r="1.3" fill="#1c365c"/>
<circle cx="431.5" cy="327.0" r="1.3" fill="#1c365c"/>
<circle cx="435.3" cy="328.1" r="1.3" fill="#1c365c"/>
<circle cx="435.3" cy="329.2" r="1.3" fill="#1c365c"/>
<circle cx="439.2" cy="329.7" r="1.3" fill="#1c365c"/>
<circle cx="440.8" cy="330.8" r="1.3" fill="#1c365c"/>
<circle cx="444.7" cy="330.3" r="1.3" fill="#1c365c"/>
<circle cx="448.0" cy="327.0" r="1.3" fill="#1c365c"/>
<circle cx="451.3" cy="325.9" r="1.3" fill="#1c365c"/>
<circle cx="419.1" cy="332.5" r="1.3" fill="#1c365c"/>
<circle cx="424.3" cy="332.5" r="1.3" fill="#1c365c"/>
<circle cx="425.9" cy="331.9" r="1.3" fill="#1c365c"/>
<circle cx="427.6" cy="332.5" r="1.3" fill="#1c365c"/>
<circle cx="429.2" cy="332.5" r="1.3" fill="#1c365c"/>
<circle cx="432.0" cy="331.9" r="1.3" fill="#1c365c"/>
<circle cx="433.7" cy="332.5" r="1.3" fill="#1c365c"/>
<circle cx="435.3" cy="332.5" r="1.3" fill="#1c365c"/>
<circle cx="421.0" cy="335.3" r="1.3" fill="#1c365c"/>
<circle cx="424.3" cy="335.3" r="1.3" fill="#1c365c"/>
<circle cx="427.0" cy="335.3" r="1.3" fill="#1c365c"/>
<circle cx="429.8" cy="335.3" r="1.3" fill="#1c365c"/>
<circle cx="433.7" cy="335.3" r="1.3" fill="#1c365c"/>
<circle cx="421.0" cy="341.7" r="1.3" fill="#1c365c"/>
<circle cx="424.8" cy="339.7" r="1.3" fill="#1c365c"/>
<circle cx="426.5" cy="338.6" r="1.3" fill="#1c365c"/>
<circle cx="431.5" cy="339.7" r="1.3" fill="#1c365c"/>
<circle cx="433.7" cy="337.5" r="1.3" fill="#1c365c"/>
<circle cx="428.1" cy="343.5" r="1.3" fill="#1c365c"/>
<circle cx="432.0" cy="345.0" r="1.3" fill="#1c365c"/>
<circle cx="435.3" cy="343.5" r="1.3" fill="#1c365c"/>
<circle cx="437.0" cy="343.5" r="1.3" fill="#1c365c"/>
<circle cx="440.8" cy="341.7" r="1.3" fill="#1c365c"/>
<circle cx="444.7" cy="335.8" r="1.3" fill="#1c365c"/>
<circle cx="448.0" cy="335.3" r="1.3" fill="#1c365c"/>
<circle cx="449.1" cy="338.6" r="1.3" fill="#1c365c"/>
<circle cx="449.7" cy="340.2" r="1.3" fill="#1c365c"/>
<circle cx="424.3" cy="348.0" r="1.3" fill="#1c365c"/>
<circle cx="419.1" cy="351.3" r="1.3" fill="#1c365c"/>
<circle cx="433.7" cy="352.4" r="1.3" fill="#1c365c"/>
<circle cx="439.0" cy="348.3" r="1.3" fill="#1c365c"/>
<circle cx="444.5" cy="346.8" r="1.3" fill="#1c365c"/>
<circle cx="448.0" cy="347.4" r="1.3" fill="#1c365c"/>
<circle cx="451.3" cy="347.4" r="1.3" fill="#1c365c"/>
<circle cx="433.8" cy="370.2" r="1.3" fill="#1c365c"/>
<circle cx="466.3" cy="295.7" r="1.3" fill="#1c365c"/>
<circle cx="464.3" cy="305.2" r="1.3" fill="#1c365c"/>
<circle cx="458.8" cy="312.1" r="1.3" fill="#1c365c"/>
<circle cx="462.7" cy="315.6" r="1.3" fill="#1c365c"/>
<circle cx="466.3" cy="316.5" r="1.3" fill="#1c365c"/>
<circle cx="450.6" cy="315.6" r="1.3" fill="#1c365c"/>
<circle cx="457.2" cy="317.8" r="1.3" fill="#1c365c"/>
<circle cx="480.7" cy="315.2" r="1.3" fill="#1c365c"/>
<circle cx="482.6" cy="319.2" r="1.3" fill="#1c365c"/>
<circle cx="482.6" cy="320.9" r="1.3" fill="#1c365c"/>
<circle cx="451.7" cy="321.5" r="1.3" fill="#1c365c"/>
<circle cx="457.2" cy="322.6" r="1.3" fill="#1c365c"/>
<circle cx="460.8" cy="322.6" r="1.3" fill="#1c365c"/>
<circle cx="451.7" cy="325.9" r="1.3" fill="#1c365c"/>
<circle cx="457.2" cy="327.3" r="1.3" fill="#1c365c"/>
<circle cx="451.7" cy="329.7" r="1.3" fill="#1c365c"/>
<circle cx="457.2" cy="332.5" r="1.3" fill="#1c365c"/>
<circle cx="457.2" cy="334.2" r="1.3" fill="#1c365c"/>
<circle cx="469.9" cy="323.7" r="1.3" fill="#1c365c"/>
<circle cx="471.5" cy="325.3" r="1.3" fill="#1c365c"/>
<circle cx="472.1" cy="327.0" r="1.3" fill="#1c365c"/>
<circle cx="468.2" cy="325.3" r="1.3" fill="#1c365c"/>
<circle cx="466.6" cy="327.5" r="1.3" fill="#1c365c"/>
<circle cx="468.8" cy="328.1" r="1.3" fill="#1c365c"/>
<circle cx="478.9" cy="322.9" r="1.3" fill="#1c365c"/>
<circle cx="479.2" cy="327.5" r="1.3" fill="#1c365c"/>
<circle cx="482.6" cy="324.8" r="1.3" fill="#1c365c"/>
<circle cx="483.7" cy="325.9" r="1.3" fill="#1c365c"/>
<circle cx="485.3" cy="326.4" r="1.3" fill="#1c365c"/>
<circle cx="482.6" cy="329.2" r="1.3" fill="#1c365c"/>
<circle cx="484.2" cy="328.6" r="1.3" fill="#1c365c"/>
<circle cx="450.6" cy="335.3" r="1.3" fill="#1c365c"/>
<circle cx="451.7" cy="336.4" r="1.3" fill="#1c365c"/>
<circle cx="450.6" cy="339.7" r="1.3" fill="#1c365c"/>
<circle cx="461.0" cy="335.3" r="1.3" fill="#1c365c"/>
<circle cx="462.1" cy="334.7" r="1.3" fill="#1c365c"/>
<circle cx="460.5" cy="336.9" r="1.3" fill="#1c365c"/>
<circle cx="458.8" cy="338.6" r="1.3" fill="#1c365c"/>
<circle cx="461.6" cy="337.5" r="1.3" fill="#1c365c"/>
<circle cx="462.7" cy="336.4" r="1.3" fill="#1c365c"/>
<circle cx="467.1" cy="335.3" r="1.3" fill="#1c365c"/>
<circle cx="468.2" cy="337.5" r="1.3" fill="#1c365c"/>
<circle cx="471.0" cy="333.0" r="1.3" fill="#1c365c"/>
<circle cx="473.2" cy="333.6" r="1.3" fill="#1c365c"/>
<circle cx="474.3" cy="335.3" r="1.3" fill="#1c365c"/>
<circle cx="475.4" cy="335.3" r="1.3" fill="#1c365c"/>
<circle cx="476.5" cy="337.5" r="1.3" fill="#1c365c"/>
<circle cx="474.8" cy="338.6" r="1.3" fill="#1c365c"/>
<circle cx="477.0" cy="335.8" r="1.3" fill="#1c365c"/>
<circle cx="479.8" cy="335.3" r="1.3" fill="#1c365c"/>
<circle cx="481.5" cy="334.7" r="1.3" fill="#1c365c"/>
<circle cx="483.1" cy="335.3" r="1.3" fill="#1c365c"/>
<circle cx="484.8" cy="335.8" r="1.3" fill="#1c365c"/>
<circle cx="457.2" cy="342.8" r="1.3" fill="#1c365c"/>
<circle cx="458.8" cy="344.3" r="1.3" fill="#1c365c"/>
<circle cx="461.0" cy="346.3" r="1.3" fill="#1c365c"/>
<circle cx="477.0" cy="343.0" r="1.3" fill="#1c365c"/>
<circle cx="451.7" cy="347.2" r="1.3" fill="#1c365c"/>
<circle cx="489.7" cy="320.4" r="1.3" fill="#1c365c"/>
<circle cx="497.0" cy="323.3" r="1.3" fill="#1c365c"/>
<circle cx="497.0" cy="325.1" r="1.3" fill="#1c365c"/>
<circle cx="506.1" cy="322.9" r="1.3" fill="#1c365c"/>
<circle cx="509.6" cy="323.7" r="1.3" fill="#1c365c"/>
<circle cx="515.1" cy="322.0" r="1.3" fill="#1c365c"/>
<circle cx="484.6" cy="325.3" r="1.3" fill="#1c365c"/>
<circle cx="485.7" cy="328.1" r="1.3" fill="#1c365c"/>
<circle cx="498.6" cy="329.2" r="1.3" fill="#1c365c"/>
<circle cx="499.5" cy="330.8" r="1.3" fill="#1c365c"/>
<circle cx="504.1" cy="329.2" r="1.3" fill="#1c365c"/>
<circle cx="511.4" cy="327.3" r="1.3" fill="#1c365c"/>
<circle cx="515.1" cy="327.0" r="1.3" fill="#1c365c"/>
<circle cx="488.4" cy="331.4" r="1.3" fill="#1c365c"/>
<circle cx="491.7" cy="331.4" r="1.3" fill="#1c365c"/>
<circle cx="497.2" cy="332.5" r="1.3" fill="#1c365c"/>
<circle cx="500.0" cy="333.0" r="1.3" fill="#1c365c"/>
<circle cx="506.1" cy="331.9" r="1.3" fill="#1c365c"/>
<circle cx="509.9" cy="331.4" r="1.3" fill="#1c365c"/>
<circle cx="515.1" cy="331.4" r="1.3" fill="#1c365c"/>
<circle cx="484.6" cy="335.3" r="1.3" fill="#1c365c"/>
<circle cx="485.7" cy="336.4" r="1.3" fill="#1c365c"/>
<circle cx="489.5" cy="335.3" r="1.3" fill="#1c365c"/>
<circle cx="489.5" cy="336.9" r="1.3" fill="#1c365c"/>
<circle cx="497.2" cy="336.4" r="1.3" fill="#1c365c"/>
<circle cx="498.3" cy="336.9" r="1.3" fill="#1c365c"/>
<circle cx="506.1" cy="338.6" r="1.3" fill="#1c365c"/>
<circle cx="513.2" cy="339.1" r="1.3" fill="#1c365c"/>
<circle cx="515.5" cy="336.4" r="1.3" fill="#1c365c"/>
<circle cx="489.5" cy="340.2" r="1.3" fill="#1c365c"/>
<circle cx="493.4" cy="339.7" r="1.3" fill="#1c365c"/>
<circle cx="497.2" cy="340.8" r="1.3" fill="#1c365c"/>
<circle cx="493.4" cy="343.5" r="1.3" fill="#1c365c"/>
<circle cx="493.4" cy="345.2" r="1.3" fill="#1c365c"/>
<circle cx="489.5" cy="346.3" r="1.3" fill="#1c365c"/>
<circle cx="498.9" cy="346.5" r="1.3" fill="#1c365c"/>
<circle cx="504.1" cy="344.3" r="1.3" fill="#1c365c"/>
<circle cx="504.1" cy="347.6" r="1.3" fill="#1c365c"/>
<circle cx="509.6" cy="344.1" r="1.3" fill="#1c365c"/>
<circle cx="509.6" cy="346.5" r="1.3" fill="#1c365c"/>
<circle cx="513.2" cy="343.5" r="1.3" fill="#1c365c"/>
<circle cx="495.0" cy="348.5" r="1.3" fill="#1c365c"/>
<circle cx="493.4" cy="350.9" r="1.3" fill="#1c365c"/>
<circle cx="507.7" cy="350.2" r="1.3" fill="#1c365c"/>
<circle cx="515.1" cy="354.0" r="1.3" fill="#1c365c"/>
<polyline points="419.10,338.00 420.71,337.55 422.31,337.10 423.92,336.64 425.53,336.19 427.13,335.74 428.74,335.29 430.35,334.83 431.95,334.43 433.56,334.09 435.17,333.82 436.77,333.58 438.38,333.33 439.99,333.09 441.59,332.85 443.20,332.61 444.81,332.37 446.41,332.13 448.02,331.89 449.63,331.66 451.23,331.44 452.84,331.27 454.45,331.11 456.05,330.97 457.66,330.82 459.27,330.67 460.87,330.53 462.48,330.38 464.09,330.23 465.69,330.08 467.30,329.94 468.91,329.86 470.51,329.90 472.12,330.09 473.73,330.37 475.33,330.65 476.94,330.93 478.55,331.21 480.15,331.49 481.76,331.78 483.37,332.06 484.97,332.32 486.58,332.56 488.19,332.76 489.79,332.95 491.40,333.14 493.01,333.32 494.61,333.51 496.22,333.69 497.83,333.88 499.43,334.06 501.04,334.24 502.65,334.42 504.25,334.59 505.86,334.76 507.47,334.94 509.07,335.11 510.68,335.28 512.29,335.45 513.89,335.63 515.50,335.80" fill="none" stroke="#e57f88" stroke-width="1.4" stroke-linejoin="round"/>
<line x1="437.8" y1="296.1" x2="456.8" y2="296.1" stroke="#333" stroke-width="0.6"/>
<line x1="437.8" y1="295.20000000000005" x2="437.8" y2="297.0" stroke="#333" stroke-width="0.5"/>
<line x1="456.8" y1="295.20000000000005" x2="456.8" y2="297.0" stroke="#333" stroke-width="0.5"/>
<circle cx="445.6" cy="296.1" r="1.2" fill="#111"/>
<line x1="445.6" y1="296.1" x2="445.6" y2="299.70000000000005" stroke="#333" stroke-width="0.5"/>
<circle cx="447.2" cy="296.1" r="1.2" fill="#111"/>
<line x1="447.2" y1="296.1" x2="447.2" y2="299.70000000000005" stroke="#333" stroke-width="0.5"/>
<circle cx="448.8" cy="296.1" r="1.2" fill="#111"/>
<line x1="448.8" y1="296.1" x2="448.8" y2="299.70000000000005" stroke="#333" stroke-width="0.5"/>
<text x="0" y="583.6" font-size="12.8" text-anchor="start" font-weight="normal" font-style="normal" fill="#111" stroke="#111" stroke-width="0.18">H</text>
<text x="76.0" y="583.8000000000001" font-size="6.55" text-anchor="middle" font-weight="normal" font-style="normal" fill="#222"  stroke="#222" stroke-width="0.12">S. aureus PBMC 24h IL-10</text>
<path d="M24.8,585.6 L24.8,669.1 L128.0,669.1" fill="none" stroke="#333" stroke-width="0.9"/>
<text x="0" y="0" font-size="6.8" text-anchor="middle" font-weight="normal" font-style="normal" fill="#222" transform="translate(23.5,600.8000000000001) rotate(-90)" stroke="#222" stroke-width="0.12">2</text>
<text x="0" y="0" font-size="6.8" text-anchor="middle" font-weight="normal" font-style="normal" fill="#222" transform="translate(23.5,626.6) rotate(-90)" stroke="#222" stroke-width="0.12">0</text>
<text x="0" y="0" font-size="6.8" text-anchor="middle" font-weight="normal" font-style="normal" fill="#222" transform="translate(23.5,652.4) rotate(-90)" stroke="#222" stroke-width="0.12">-2</text>
<text x="0" y="0" font-size="6.0" text-anchor="middle" font-weight="normal" font-style="normal" fill="#222" transform="translate(17.3,627.85) rotate(-90)" stroke="#222" stroke-width="0.12">Normalized difference from median</text>
<line x1="41.400000000000006" y1="669.1" x2="41.400000000000006" y2="670.9" stroke="#333" stroke-width="0.5"/>
<text x="0" y="0" font-size="7.1" text-anchor="end" font-weight="normal" font-style="normal" fill="#222" transform="translate(44.00000000000001,676.9) rotate(-45)" stroke="#222" stroke-width="0.12">Apr 2016</text>
<line x1="64.98" y1="669.1" x2="64.98" y2="670.9" stroke="#333" stroke-width="0.5"/>
<text x="0" y="0" font-size="7.1" text-anchor="end" font-weight="normal" font-style="normal" fill="#222" transform="translate(67.58,676.9) rotate(-45)" stroke="#222" stroke-width="0.12">Jul 2016</text>
<line x1="88.56" y1="669.1" x2="88.56" y2="670.9" stroke="#333" stroke-width="0.5"/>
<text x="0" y="0" font-size="7.1" text-anchor="end" font-weight="normal" font-style="normal" fill="#222" transform="translate(91.16,676.9) rotate(-45)" stroke="#222" stroke-width="0.12">Oct 2016</text>
<line x1="112.14" y1="669.1" x2="112.14" y2="670.9" stroke="#333" stroke-width="0.5"/>
<text x="0" y="0" font-size="7.1" text-anchor="end" font-weight="normal" font-style="normal" fill="#222" transform="translate(114.74,676.9) rotate(-45)" stroke="#222" stroke-width="0.12">Jan 2017</text>
<text x="80.1" y="696.6" font-size="6.9" text-anchor="middle" font-weight="normal" font-style="normal" fill="#222"  stroke="#222" stroke-width="0.12">date</text>
<line x1="28.3" y1="626.6" x2="124.8" y2="626.6" stroke="#9a9a9a" stroke-width="0.7"/>
<polygon points="29.30,623.60 30.88,623.21 32.45,622.81 34.02,622.38 35.60,621.97 37.17,621.62 38.75,621.43 40.33,621.30 41.90,621.17 43.48,621.02 45.05,620.86 46.62,620.70 48.20,620.58 49.78,620.57 51.35,620.60 52.92,620.63 54.50,620.64 56.08,620.65 57.65,620.65 59.23,620.64 60.80,620.64 62.38,620.67 63.95,620.73 65.53,620.82 67.10,620.90 68.67,620.98 70.25,621.06 71.83,621.14 73.40,621.22 74.97,621.32 76.55,621.43 78.12,621.53 79.70,621.64 81.28,621.83 82.85,622.17 84.42,622.67 86.00,623.25 87.58,623.83 89.15,624.41 90.72,624.98 92.30,625.55 93.88,626.07 95.45,626.53 97.02,626.85 98.60,627.08 100.17,627.30 101.75,627.51 103.33,627.70 104.90,627.88 106.47,628.05 108.05,628.18 109.62,628.30 111.20,628.39 112.77,628.46 114.35,628.52 115.92,628.57 117.50,628.59 119.08,628.60 120.65,628.59 122.22,628.55 123.80,628.50 123.80,639.70 122.22,639.13 120.65,638.59 119.08,638.06 117.50,637.56 115.92,637.07 114.35,636.60 112.77,636.15 111.20,635.71 109.62,635.29 108.05,634.88 106.47,634.47 104.90,634.07 103.33,633.67 101.75,633.28 100.17,632.90 98.60,632.54 97.02,632.17 95.45,631.74 93.88,631.19 92.30,630.58 90.72,629.95 89.15,629.33 87.58,628.71 86.00,628.10 84.42,627.50 82.85,626.99 81.28,626.64 79.70,626.44 78.12,626.33 76.55,626.23 74.97,626.12 73.40,626.02 71.83,625.95 70.25,625.88 68.67,625.81 67.10,625.76 65.53,625.70 63.95,625.65 62.38,625.64 60.80,625.68 59.23,625.75 57.65,625.86 56.08,625.97 54.50,626.09 52.92,626.23 51.35,626.37 49.78,626.53 48.20,626.76 46.62,627.13 45.05,627.55 43.48,628.01 41.90,628.49 40.33,628.98 38.75,629.51 37.17,630.13 35.60,630.94 34.02,631.85 32.45,632.81 30.88,633.80 29.30,634.80" fill="#cfcfcf" fill-opacity="0.55"/>
<circle cx="58.0" cy="603.8" r="1.3" fill="#1c365c"/>
<circle cx="38.1" cy="609.3" r="1.3" fill="#1c365c"/>
<circle cx="42.0" cy="607.1" r="1.3" fill="#1c365c"/>
<circle cx="43.7" cy="608.2" r="1.3" fill="#1c365c"/>
<circle cx="47.0" cy="608.4" r="1.3" fill="#1c365c"/>
<circle cx="42.6" cy="611.5" r="1.3" fill="#1c365c"/>
<circle cx="44.2" cy="612.0" r="1.3" fill="#1c365c"/>
<circle cx="43.7" cy="614.2" r="1.3" fill="#1c365c"/>
<circle cx="43.1" cy="615.9" r="1.3" fill="#1c365c"/>
<circle cx="47.0" cy="614.8" r="1.3" fill="#1c365c"/>
<circle cx="49.2" cy="615.4" r="1.3" fill="#1c365c"/>
<circle cx="50.8" cy="618.1" r="1.3" fill="#1c365c"/>
<circle cx="48.6" cy="617.0" r="1.3" fill="#1c365c"/>
<circle cx="41.5" cy="618.1" r="1.3" fill="#1c365c"/>
<circle cx="43.7" cy="619.2" r="1.3" fill="#1c365c"/>
<circle cx="42.6" cy="620.1" r="1.3" fill="#1c365c"/>
<circle cx="50.8" cy="620.3" r="1.3" fill="#1c365c"/>
<circle cx="38.1" cy="621.4" r="1.3" fill="#1c365c"/>
<circle cx="58.0" cy="611.5" r="1.3" fill="#1c365c"/>
<circle cx="58.6" cy="612.0" r="1.3" fill="#1c365c"/>
<circle cx="58.0" cy="615.9" r="1.3" fill="#1c365c"/>
<circle cx="58.0" cy="619.2" r="1.3" fill="#1c365c"/>
<circle cx="58.0" cy="620.9" r="1.3" fill="#1c365c"/>
<circle cx="30.4" cy="627.0" r="1.3" fill="#1c365c"/>
<circle cx="31.0" cy="630.3" r="1.3" fill="#1c365c"/>
<circle cx="29.3" cy="629.7" r="1.3" fill="#1c365c"/>
<circle cx="33.7" cy="625.3" r="1.3" fill="#1c365c"/>
<circle cx="34.8" cy="626.9" r="1.3" fill="#1c365c"/>
<circle cx="36.5" cy="626.4" r="1.3" fill="#1c365c"/>
<circle cx="38.1" cy="627.5" r="1.3" fill="#1c365c"/>
<circle cx="38.1" cy="629.7" r="1.3" fill="#1c365c"/>
<circle cx="38.1" cy="631.9" r="1.3" fill="#1c365c"/>
<circle cx="42.0" cy="627.0" r="1.3" fill="#1c365c"/>
<circle cx="45.9" cy="629.2" r="1.3" fill="#1c365c"/>
<circle cx="43.7" cy="632.5" r="1.3" fill="#1c365c"/>
<circle cx="54.7" cy="625.8" r="1.3" fill="#1c365c"/>
<circle cx="55.8" cy="628.0" r="1.3" fill="#1c365c"/>
<circle cx="54.7" cy="630.3" r="1.3" fill="#1c365c"/>
<circle cx="54.1" cy="633.6" r="1.3" fill="#1c365c"/>
<circle cx="55.8" cy="633.0" r="1.3" fill="#1c365c"/>
<circle cx="29.3" cy="633.6" r="1.3" fill="#1c365c"/>
<circle cx="29.3" cy="638.5" r="1.3" fill="#1c365c"/>
<circle cx="34.3" cy="636.3" r="1.3" fill="#1c365c"/>
<circle cx="34.8" cy="638.5" r="1.3" fill="#1c365c"/>
<circle cx="34.8" cy="640.7" r="1.3" fill="#1c365c"/>
<circle cx="38.7" cy="638.5" r="1.3" fill="#1c365c"/>
<circle cx="61.3" cy="624.7" r="1.3" fill="#1c365c"/>
<circle cx="60.2" cy="628.6" r="1.3" fill="#1c365c"/>
<circle cx="61.3" cy="632.5" r="1.3" fill="#1c365c"/>
<circle cx="61.3" cy="635.8" r="1.3" fill="#1c365c"/>
<circle cx="56.4" cy="655.1" r="1.3" fill="#1c365c"/>
<circle cx="66.8" cy="590.0" r="1.3" fill="#1c365c"/>
<circle cx="81.0" cy="597.7" r="1.3" fill="#1c365c"/>
<circle cx="88.1" cy="606.2" r="1.3" fill="#1c365c"/>
<circle cx="70.5" cy="608.4" r="1.3" fill="#1c365c"/>
<circle cx="71.6" cy="608.7" r="1.3" fill="#1c365c"/>
<circle cx="77.7" cy="608.4" r="1.3" fill="#1c365c"/>
<circle cx="81.0" cy="610.2" r="1.3" fill="#1c365c"/>
<circle cx="77.1" cy="612.6" r="1.3" fill="#1c365c"/>
<circle cx="76.6" cy="613.9" r="1.3" fill="#1c365c"/>
<circle cx="72.1" cy="614.6" r="1.3" fill="#1c365c"/>
<circle cx="76.0" cy="614.8" r="1.3" fill="#1c365c"/>
<circle cx="88.1" cy="614.2" r="1.3" fill="#1c365c"/>
<circle cx="88.1" cy="617.6" r="1.3" fill="#1c365c"/>
<circle cx="91.5" cy="613.7" r="1.3" fill="#1c365c"/>
<circle cx="92.0" cy="615.4" r="1.3" fill="#1c365c"/>
<circle cx="91.5" cy="617.0" r="1.3" fill="#1c365c"/>
<circle cx="72.1" cy="619.2" r="1.3" fill="#1c365c"/>
<circle cx="61.7" cy="618.7" r="1.3" fill="#1c365c"/>
<circle cx="60.6" cy="613.1" r="1.3" fill="#1c365c"/>
<circle cx="79.3" cy="620.3" r="1.3" fill="#1c365c"/>
<circle cx="77.7" cy="621.4" r="1.3" fill="#1c365c"/>
<circle cx="87.0" cy="620.9" r="1.3" fill="#1c365c"/>
<circle cx="89.8" cy="620.3" r="1.3" fill="#1c365c"/>
<circle cx="91.5" cy="621.4" r="1.3" fill="#1c365c"/>
<circle cx="61.7" cy="622.0" r="1.3" fill="#1c365c"/>
<circle cx="61.7" cy="624.2" r="1.3" fill="#1c365c"/>
<circle cx="61.7" cy="626.4" r="1.3" fill="#1c365c"/>
<circle cx="61.7" cy="628.6" r="1.3" fill="#1c365c"/>
<circle cx="61.7" cy="630.3" r="1.3" fill="#1c365c"/>
<circle cx="61.7" cy="633.6" r="1.3" fill="#1c365c"/>
<circle cx="61.7" cy="636.3" r="1.3" fill="#1c365c"/>
<circle cx="66.6" cy="622.0" r="1.3" fill="#1c365c"/>
<circle cx="67.2" cy="625.8" r="1.3" fill="#1c365c"/>
<circle cx="68.3" cy="626.4" r="1.3" fill="#1c365c"/>
<circle cx="69.4" cy="626.9" r="1.3" fill="#1c365c"/>
<circle cx="70.5" cy="627.5" r="1.3" fill="#1c365c"/>
<circle cx="66.6" cy="629.7" r="1.3" fill="#1c365c"/>
<circle cx="67.2" cy="633.6" r="1.3" fill="#1c365c"/>
<circle cx="68.8" cy="632.5" r="1.3" fill="#1c365c"/>
<circle cx="70.5" cy="631.9" r="1.3" fill="#1c365c"/>
<circle cx="71.0" cy="633.6" r="1.3" fill="#1c365c"/>
<circle cx="71.0" cy="629.2" r="1.3" fill="#1c365c"/>
<circle cx="72.1" cy="630.3" r="1.3" fill="#1c365c"/>
<circle cx="76.0" cy="627.0" r="1.3" fill="#1c365c"/>
<circle cx="76.0" cy="631.9" r="1.3" fill="#1c365c"/>
<circle cx="79.9" cy="627.0" r="1.3" fill="#1c365c"/>
<circle cx="81.0" cy="628.6" r="1.3" fill="#1c365c"/>
<circle cx="82.1" cy="629.2" r="1.3" fill="#1c365c"/>
<circle cx="83.2" cy="628.6" r="1.3" fill="#1c365c"/>
<circle cx="84.8" cy="628.6" r="1.3" fill="#1c365c"/>
<circle cx="88.1" cy="622.5" r="1.3" fill="#1c365c"/>
<circle cx="89.8" cy="624.2" r="1.3" fill="#1c365c"/>
<circle cx="91.5" cy="624.7" r="1.3" fill="#1c365c"/>
<circle cx="93.1" cy="624.7" r="1.3" fill="#1c365c"/>
<circle cx="84.3" cy="631.9" r="1.3" fill="#1c365c"/>
<circle cx="85.4" cy="633.6" r="1.3" fill="#1c365c"/>
<circle cx="85.9" cy="635.2" r="1.3" fill="#1c365c"/>
<circle cx="84.3" cy="638.5" r="1.3" fill="#1c365c"/>
<circle cx="84.3" cy="641.8" r="1.3" fill="#1c365c"/>
<circle cx="93.1" cy="634.7" r="1.3" fill="#1c365c"/>
<circle cx="95.3" cy="635.8" r="1.3" fill="#1c365c"/>
<circle cx="91.5" cy="638.0" r="1.3" fill="#1c365c"/>
<circle cx="94.8" cy="638.0" r="1.3" fill="#1c365c"/>
<circle cx="68.3" cy="642.2" r="1.3" fill="#1c365c"/>
<circle cx="66.8" cy="647.9" r="1.3" fill="#1c365c"/>
<circle cx="93.7" cy="655.1" r="1.3" fill="#1c365c"/>
<circle cx="123.6" cy="616.5" r="1.3" fill="#1c365c"/>
<circle cx="114.4" cy="622.0" r="1.3" fill="#1c365c"/>
<circle cx="116.6" cy="625.0" r="1.3" fill="#1c365c"/>
<circle cx="119.9" cy="623.6" r="1.3" fill="#1c365c"/>
<circle cx="98.4" cy="623.1" r="1.3" fill="#1c365c"/>
<circle cx="97.9" cy="624.7" r="1.3" fill="#1c365c"/>
<circle cx="99.5" cy="625.8" r="1.3" fill="#1c365c"/>
<circle cx="100.1" cy="627.5" r="1.3" fill="#1c365c"/>
<circle cx="101.7" cy="626.4" r="1.3" fill="#1c365c"/>
<circle cx="103.4" cy="625.8" r="1.3" fill="#1c365c"/>
<circle cx="105.0" cy="625.3" r="1.3" fill="#1c365c"/>
<circle cx="106.7" cy="625.3" r="1.3" fill="#1c365c"/>
<circle cx="107.8" cy="626.9" r="1.3" fill="#1c365c"/>
<circle cx="108.3" cy="629.2" r="1.3" fill="#1c365c"/>
<circle cx="107.2" cy="628.6" r="1.3" fill="#1c365c"/>
<circle cx="94.6" cy="624.7" r="1.3" fill="#1c365c"/>
<circle cx="95.7" cy="626.4" r="1.3" fill="#1c365c"/>
<circle cx="94.6" cy="631.4" r="1.3" fill="#1c365c"/>
<circle cx="98.4" cy="631.4" r="1.3" fill="#1c365c"/>
<circle cx="99.5" cy="631.9" r="1.3" fill="#1c365c"/>
<circle cx="94.6" cy="634.7" r="1.3" fill="#1c365c"/>
<circle cx="95.7" cy="637.4" r="1.3" fill="#1c365c"/>
<circle cx="95.7" cy="639.1" r="1.3" fill="#1c365c"/>
<circle cx="102.3" cy="639.1" r="1.3" fill="#1c365c"/>
<circle cx="105.6" cy="634.1" r="1.3" fill="#1c365c"/>
<circle cx="106.1" cy="636.9" r="1.3" fill="#1c365c"/>
<circle cx="107.2" cy="638.0" r="1.3" fill="#1c365c"/>
<circle cx="106.1" cy="640.7" r="1.3" fill="#1c365c"/>
<circle cx="107.2" cy="641.3" r="1.3" fill="#1c365c"/>
<circle cx="107.8" cy="644.6" r="1.3" fill="#1c365c"/>
<circle cx="102.3" cy="645.9" r="1.3" fill="#1c365c"/>
<circle cx="112.8" cy="633.6" r="1.3" fill="#1c365c"/>
<circle cx="114.4" cy="630.8" r="1.3" fill="#1c365c"/>
<circle cx="116.1" cy="634.1" r="1.3" fill="#1c365c"/>
<circle cx="117.7" cy="631.4" r="1.3" fill="#1c365c"/>
<circle cx="119.4" cy="630.3" r="1.3" fill="#1c365c"/>
<circle cx="120.5" cy="628.6" r="1.3" fill="#1c365c"/>
<circle cx="122.1" cy="626.9" r="1.3" fill="#1c365c"/>
<circle cx="123.2" cy="626.9" r="1.3" fill="#1c365c"/>
<circle cx="112.8" cy="640.2" r="1.3" fill="#1c365c"/>
<circle cx="113.3" cy="641.8" r="1.3" fill="#1c365c"/>
<circle cx="112.8" cy="644.6" r="1.3" fill="#1c365c"/>
<circle cx="117.7" cy="642.4" r="1.3" fill="#1c365c"/>
<circle cx="118.8" cy="643.5" r="1.3" fill="#1c365c"/>
<circle cx="121.0" cy="642.6" r="1.3" fill="#1c365c"/>
<circle cx="123.2" cy="642.4" r="1.3" fill="#1c365c"/>
<circle cx="123.6" cy="637.4" r="1.3" fill="#1c365c"/>
<circle cx="113.0" cy="652.9" r="1.3" fill="#1c365c"/>
<circle cx="94.6" cy="655.1" r="1.3" fill="#1c365c"/>
<polyline points="29.30,629.20 30.88,628.50 32.45,627.81 34.02,627.11 35.60,626.45 37.17,625.88 38.75,625.47 40.33,625.14 41.90,624.83 43.48,624.52 45.05,624.20 46.62,623.91 48.20,623.67 49.78,623.55 51.35,623.48 52.92,623.43 54.50,623.37 56.08,623.31 57.65,623.25 59.23,623.20 60.80,623.16 62.38,623.15 63.95,623.19 65.53,623.26 67.10,623.33 68.67,623.40 70.25,623.47 71.83,623.54 73.40,623.62 74.97,623.72 76.55,623.83 78.12,623.93 79.70,624.04 81.28,624.24 82.85,624.58 84.42,625.08 86.00,625.68 87.58,626.27 89.15,626.87 90.72,627.47 92.30,628.06 93.88,628.63 95.45,629.14 97.02,629.51 98.60,629.81 100.17,630.10 101.75,630.39 103.33,630.68 104.90,630.97 106.47,631.26 108.05,631.53 109.62,631.79 111.20,632.05 112.77,632.31 114.35,632.56 115.92,632.82 117.50,633.08 119.08,633.33 120.65,633.59 122.22,633.84 123.80,634.10" fill="none" stroke="#e57f88" stroke-width="1.4" stroke-linejoin="round"/>
<text x="131.5" y="583.6" font-size="12.8" text-anchor="start" font-weight="normal" font-style="normal" fill="#111" stroke="#111" stroke-width="0.18">I</text>
<text x="207.8" y="583.8000000000001" font-size="6.55" text-anchor="middle" font-weight="normal" font-style="normal" fill="#222"  stroke="#222" stroke-width="0.12">S. aureus PBMC 24h IL-1Ra</text>
<path d="M154.8,585.6 L154.8,669.1 L258.0,669.1" fill="none" stroke="#333" stroke-width="0.9"/>
<text x="0" y="0" font-size="6.8" text-anchor="middle" font-weight="normal" font-style="normal" fill="#222" transform="translate(153.60000000000002,600.8000000000001) rotate(-90)" stroke="#222" stroke-width="0.12">2</text>
<text x="0" y="0" font-size="6.8" text-anchor="middle" font-weight="normal" font-style="normal" fill="#222" transform="translate(153.60000000000002,626.6) rotate(-90)" stroke="#222" stroke-width="0.12">0</text>
<text x="0" y="0" font-size="6.8" text-anchor="middle" font-weight="normal" font-style="normal" fill="#222" transform="translate(153.60000000000002,652.4) rotate(-90)" stroke="#222" stroke-width="0.12">-2</text>
<text x="0" y="0" font-size="6.0" text-anchor="middle" font-weight="normal" font-style="normal" fill="#222" transform="translate(147.60000000000002,627.85) rotate(-90)" stroke="#222" stroke-width="0.12">Normalized difference from median</text>
<line x1="171.4" y1="669.1" x2="171.4" y2="670.9" stroke="#333" stroke-width="0.5"/>
<text x="0" y="0" font-size="7.1" text-anchor="end" font-weight="normal" font-style="normal" fill="#222" transform="translate(174.0,676.9) rotate(-45)" stroke="#222" stroke-width="0.12">Apr 2016</text>
<line x1="194.98000000000002" y1="669.1" x2="194.98000000000002" y2="670.9" stroke="#333" stroke-width="0.5"/>
<text x="0" y="0" font-size="7.1" text-anchor="end" font-weight="normal" font-style="normal" fill="#222" transform="translate(197.58,676.9) rotate(-45)" stroke="#222" stroke-width="0.12">Jul 2016</text>
<line x1="218.56" y1="669.1" x2="218.56" y2="670.9" stroke="#333" stroke-width="0.5"/>
<text x="0" y="0" font-size="7.1" text-anchor="end" font-weight="normal" font-style="normal" fill="#222" transform="translate(221.16,676.9) rotate(-45)" stroke="#222" stroke-width="0.12">Oct 2016</text>
<line x1="242.14" y1="669.1" x2="242.14" y2="670.9" stroke="#333" stroke-width="0.5"/>
<text x="0" y="0" font-size="7.1" text-anchor="end" font-weight="normal" font-style="normal" fill="#222" transform="translate(244.73999999999998,676.9) rotate(-45)" stroke="#222" stroke-width="0.12">Jan 2017</text>
<text x="210.5" y="696.6" font-size="6.9" text-anchor="middle" font-weight="normal" font-style="normal" fill="#222"  stroke="#222" stroke-width="0.12">date</text>
<line x1="158.3" y1="626.6" x2="253.7" y2="626.6" stroke="#9a9a9a" stroke-width="0.7"/>
<polygon points="159.30,625.80 160.86,625.71 162.41,625.60 163.97,625.47 165.53,625.33 167.08,625.16 168.64,624.97 170.20,624.77 171.75,624.60 173.31,624.50 174.87,624.46 176.42,624.47 177.98,624.47 179.54,624.45 181.09,624.41 182.65,624.37 184.21,624.32 185.76,624.25 187.32,624.18 188.88,624.10 190.43,624.01 191.99,623.92 193.55,623.82 195.10,623.73 196.66,623.62 198.22,623.52 199.77,623.41 201.33,623.29 202.89,623.18 204.44,623.06 206.00,622.94 207.56,622.80 209.11,622.65 210.67,622.49 212.23,622.33 213.78,622.17 215.34,622.00 216.90,621.92 218.45,621.99 220.01,622.17 221.57,622.44 223.12,622.69 224.68,622.94 226.24,623.19 227.79,623.43 229.35,623.66 230.91,623.88 232.46,624.09 234.02,624.28 235.58,624.47 237.13,624.65 238.69,624.83 240.25,625.01 241.80,625.17 243.36,625.31 244.92,625.44 246.47,625.55 248.03,625.64 249.59,625.72 251.14,625.77 252.70,625.80 252.70,637.00 251.14,636.35 249.59,635.72 248.03,635.11 246.47,634.52 244.92,633.94 243.36,633.39 241.80,632.85 240.25,632.33 238.69,631.83 237.13,631.35 235.58,630.90 234.02,630.47 232.46,630.05 230.91,629.65 229.35,629.26 227.79,628.88 226.24,628.51 224.68,628.15 223.12,627.81 221.57,627.47 220.01,627.15 218.45,626.91 216.90,626.81 215.34,626.85 213.78,627.00 212.23,627.14 210.67,627.30 209.11,627.45 207.56,627.60 206.00,627.74 204.44,627.86 202.89,627.98 201.33,628.10 199.77,628.22 198.22,628.35 196.66,628.47 195.10,628.61 193.55,628.74 191.99,628.89 190.43,629.05 188.88,629.22 187.32,629.39 185.76,629.57 184.21,629.77 182.65,629.97 181.09,630.18 179.54,630.41 177.98,630.65 176.42,630.90 174.87,631.16 173.31,631.49 171.75,631.93 170.20,632.46 168.64,633.05 167.08,633.66 165.53,634.29 163.97,634.94 162.41,635.61 160.86,636.29 159.30,637.00" fill="#cfcfcf" fill-opacity="0.55"/>
<circle cx="172.0" cy="613.9" r="1.3" fill="#1c365c"/>
<circle cx="166.5" cy="619.0" r="1.3" fill="#1c365c"/>
<circle cx="159.3" cy="623.1" r="1.3" fill="#1c365c"/>
<circle cx="173.1" cy="620.1" r="1.3" fill="#1c365c"/>
<circle cx="174.2" cy="620.9" r="1.3" fill="#1c365c"/>
<circle cx="172.6" cy="622.5" r="1.3" fill="#1c365c"/>
<circle cx="173.7" cy="623.1" r="1.3" fill="#1c365c"/>
<circle cx="175.3" cy="622.5" r="1.3" fill="#1c365c"/>
<circle cx="175.9" cy="623.6" r="1.3" fill="#1c365c"/>
<circle cx="174.2" cy="624.7" r="1.3" fill="#1c365c"/>
<circle cx="172.6" cy="625.8" r="1.3" fill="#1c365c"/>
<circle cx="175.9" cy="625.8" r="1.3" fill="#1c365c"/>
<circle cx="177.5" cy="624.7" r="1.3" fill="#1c365c"/>
<circle cx="179.2" cy="624.2" r="1.3" fill="#1c365c"/>
<circle cx="180.8" cy="623.6" r="1.3" fill="#1c365c"/>
<circle cx="159.9" cy="627.0" r="1.3" fill="#1c365c"/>
<circle cx="161.0" cy="626.4" r="1.3" fill="#1c365c"/>
<circle cx="160.4" cy="628.6" r="1.3" fill="#1c365c"/>
<circle cx="162.1" cy="628.0" r="1.3" fill="#1c365c"/>
<circle cx="166.5" cy="625.3" r="1.3" fill="#1c365c"/>
<circle cx="165.9" cy="627.5" r="1.3" fill="#1c365c"/>
<circle cx="167.0" cy="628.0" r="1.3" fill="#1c365c"/>
<circle cx="164.8" cy="630.3" r="1.3" fill="#1c365c"/>
<circle cx="166.5" cy="631.4" r="1.3" fill="#1c365c"/>
<circle cx="159.3" cy="633.6" r="1.3" fill="#1c365c"/>
<circle cx="161.5" cy="633.0" r="1.3" fill="#1c365c"/>
<circle cx="163.2" cy="631.4" r="1.3" fill="#1c365c"/>
<circle cx="164.3" cy="635.8" r="1.3" fill="#1c365c"/>
<circle cx="164.8" cy="637.4" r="1.3" fill="#1c365c"/>
<circle cx="164.3" cy="639.1" r="1.3" fill="#1c365c"/>
<circle cx="168.1" cy="634.1" r="1.3" fill="#1c365c"/>
<circle cx="168.1" cy="638.0" r="1.3" fill="#1c365c"/>
<circle cx="168.7" cy="639.6" r="1.3" fill="#1c365c"/>
<circle cx="175.9" cy="629.2" r="1.3" fill="#1c365c"/>
<circle cx="176.4" cy="631.4" r="1.3" fill="#1c365c"/>
<circle cx="175.9" cy="634.7" r="1.3" fill="#1c365c"/>
<circle cx="178.1" cy="631.9" r="1.3" fill="#1c365c"/>
<circle cx="179.7" cy="630.3" r="1.3" fill="#1c365c"/>
<circle cx="180.3" cy="629.2" r="1.3" fill="#1c365c"/>
<circle cx="184.7" cy="632.5" r="1.3" fill="#1c365c"/>
<circle cx="164.8" cy="645.2" r="1.3" fill="#1c365c"/>
<circle cx="175.6" cy="643.3" r="1.3" fill="#1c365c"/>
<circle cx="187.5" cy="613.1" r="1.3" fill="#1c365c"/>
<circle cx="189.1" cy="612.6" r="1.3" fill="#1c365c"/>
<circle cx="188.0" cy="617.0" r="1.3" fill="#1c365c"/>
<circle cx="185.8" cy="620.3" r="1.3" fill="#1c365c"/>
<circle cx="186.4" cy="622.5" r="1.3" fill="#1c365c"/>
<circle cx="188.0" cy="622.0" r="1.3" fill="#1c365c"/>
<circle cx="189.7" cy="623.1" r="1.3" fill="#1c365c"/>
<circle cx="191.3" cy="622.5" r="1.3" fill="#1c365c"/>
<circle cx="185.2" cy="624.7" r="1.3" fill="#1c365c"/>
<circle cx="186.9" cy="624.2" r="1.3" fill="#1c365c"/>
<circle cx="189.1" cy="625.3" r="1.3" fill="#1c365c"/>
<circle cx="190.8" cy="626.4" r="1.3" fill="#1c365c"/>
<circle cx="189.1" cy="629.7" r="1.3" fill="#1c365c"/>
<circle cx="189.1" cy="631.4" r="1.3" fill="#1c365c"/>
<circle cx="189.1" cy="633.6" r="1.3" fill="#1c365c"/>
<circle cx="190.2" cy="635.2" r="1.3" fill="#1c365c"/>
<circle cx="191.3" cy="633.6" r="1.3" fill="#1c365c"/>
<circle cx="218.1" cy="604.0" r="1.3" fill="#1c365c"/>
<circle cx="212.6" cy="609.1" r="1.3" fill="#1c365c"/>
<circle cx="218.1" cy="613.5" r="1.3" fill="#1c365c"/>
<circle cx="190.6" cy="612.6" r="1.3" fill="#1c365c"/>
<circle cx="196.8" cy="613.1" r="1.3" fill="#1c365c"/>
<circle cx="207.1" cy="614.8" r="1.3" fill="#1c365c"/>
<circle cx="207.1" cy="617.6" r="1.3" fill="#1c365c"/>
<circle cx="210.4" cy="618.1" r="1.3" fill="#1c365c"/>
<circle cx="190.6" cy="618.7" r="1.3" fill="#1c365c"/>
<circle cx="191.7" cy="620.3" r="1.3" fill="#1c365c"/>
<circle cx="190.6" cy="623.1" r="1.3" fill="#1c365c"/>
<circle cx="197.2" cy="621.4" r="1.3" fill="#1c365c"/>
<circle cx="200.5" cy="620.3" r="1.3" fill="#1c365c"/>
<circle cx="201.6" cy="623.6" r="1.3" fill="#1c365c"/>
<circle cx="205.5" cy="622.0" r="1.3" fill="#1c365c"/>
<circle cx="207.1" cy="621.4" r="1.3" fill="#1c365c"/>
<circle cx="208.8" cy="620.3" r="1.3" fill="#1c365c"/>
<circle cx="210.4" cy="620.9" r="1.3" fill="#1c365c"/>
<circle cx="211.5" cy="621.4" r="1.3" fill="#1c365c"/>
<circle cx="213.2" cy="622.0" r="1.3" fill="#1c365c"/>
<circle cx="214.8" cy="621.4" r="1.3" fill="#1c365c"/>
<circle cx="216.5" cy="620.3" r="1.3" fill="#1c365c"/>
<circle cx="218.1" cy="619.8" r="1.3" fill="#1c365c"/>
<circle cx="219.2" cy="621.4" r="1.3" fill="#1c365c"/>
<circle cx="220.4" cy="622.5" r="1.3" fill="#1c365c"/>
<circle cx="222.0" cy="618.1" r="1.3" fill="#1c365c"/>
<circle cx="223.7" cy="620.3" r="1.3" fill="#1c365c"/>
<circle cx="225.3" cy="618.1" r="1.3" fill="#1c365c"/>
<circle cx="190.6" cy="627.0" r="1.3" fill="#1c365c"/>
<circle cx="191.7" cy="629.2" r="1.3" fill="#1c365c"/>
<circle cx="190.6" cy="631.4" r="1.3" fill="#1c365c"/>
<circle cx="191.7" cy="633.6" r="1.3" fill="#1c365c"/>
<circle cx="190.6" cy="635.8" r="1.3" fill="#1c365c"/>
<circle cx="197.2" cy="628.6" r="1.3" fill="#1c365c"/>
<circle cx="196.6" cy="631.9" r="1.3" fill="#1c365c"/>
<circle cx="198.3" cy="630.3" r="1.3" fill="#1c365c"/>
<circle cx="201.0" cy="630.8" r="1.3" fill="#1c365c"/>
<circle cx="197.2" cy="634.7" r="1.3" fill="#1c365c"/>
<circle cx="198.8" cy="635.2" r="1.3" fill="#1c365c"/>
<circle cx="200.5" cy="635.8" r="1.3" fill="#1c365c"/>
<circle cx="204.3" cy="627.0" r="1.3" fill="#1c365c"/>
<circle cx="205.5" cy="629.2" r="1.3" fill="#1c365c"/>
<circle cx="206.6" cy="630.3" r="1.3" fill="#1c365c"/>
<circle cx="213.7" cy="629.2" r="1.3" fill="#1c365c"/>
<circle cx="214.8" cy="632.5" r="1.3" fill="#1c365c"/>
<circle cx="213.7" cy="633.6" r="1.3" fill="#1c365c"/>
<circle cx="216.5" cy="633.0" r="1.3" fill="#1c365c"/>
<circle cx="215.9" cy="636.7" r="1.3" fill="#1c365c"/>
<circle cx="221.5" cy="628.6" r="1.3" fill="#1c365c"/>
<circle cx="222.6" cy="630.3" r="1.3" fill="#1c365c"/>
<circle cx="221.5" cy="632.5" r="1.3" fill="#1c365c"/>
<circle cx="223.1" cy="635.8" r="1.3" fill="#1c365c"/>
<circle cx="224.2" cy="623.6" r="1.3" fill="#1c365c"/>
<circle cx="225.3" cy="625.3" r="1.3" fill="#1c365c"/>
<circle cx="235.6" cy="608.2" r="1.3" fill="#1c365c"/>
<circle cx="237.5" cy="612.4" r="1.3" fill="#1c365c"/>
<circle cx="244.8" cy="611.7" r="1.3" fill="#1c365c"/>
<circle cx="225.1" cy="617.6" r="1.3" fill="#1c365c"/>
<circle cx="224.6" cy="620.9" r="1.3" fill="#1c365c"/>
<circle cx="225.7" cy="622.0" r="1.3" fill="#1c365c"/>
<circle cx="230.6" cy="622.5" r="1.3" fill="#1c365c"/>
<circle cx="235.6" cy="623.1" r="1.3" fill="#1c365c"/>
<circle cx="236.7" cy="624.2" r="1.3" fill="#1c365c"/>
<circle cx="237.8" cy="624.7" r="1.3" fill="#1c365c"/>
<circle cx="236.1" cy="626.4" r="1.3" fill="#1c365c"/>
<circle cx="244.4" cy="622.5" r="1.3" fill="#1c365c"/>
<circle cx="246.1" cy="623.1" r="1.3" fill="#1c365c"/>
<circle cx="247.7" cy="621.4" r="1.3" fill="#1c365c"/>
<circle cx="248.8" cy="623.6" r="1.3" fill="#1c365c"/>
<circle cx="249.9" cy="625.3" r="1.3" fill="#1c365c"/>
<circle cx="253.8" cy="623.1" r="1.3" fill="#1c365c"/>
<circle cx="228.4" cy="627.5" r="1.3" fill="#1c365c"/>
<circle cx="232.3" cy="629.2" r="1.3" fill="#1c365c"/>
<circle cx="235.6" cy="629.2" r="1.3" fill="#1c365c"/>
<circle cx="237.2" cy="630.3" r="1.3" fill="#1c365c"/>
<circle cx="237.2" cy="631.9" r="1.3" fill="#1c365c"/>
<circle cx="236.1" cy="633.0" r="1.3" fill="#1c365c"/>
<circle cx="244.4" cy="626.4" r="1.3" fill="#1c365c"/>
<circle cx="251.0" cy="627.5" r="1.3" fill="#1c365c"/>
<circle cx="253.8" cy="627.0" r="1.3" fill="#1c365c"/>
<circle cx="224.6" cy="635.8" r="1.3" fill="#1c365c"/>
<circle cx="228.4" cy="635.2" r="1.3" fill="#1c365c"/>
<circle cx="232.3" cy="635.8" r="1.3" fill="#1c365c"/>
<circle cx="232.3" cy="638.0" r="1.3" fill="#1c365c"/>
<circle cx="232.3" cy="639.6" r="1.3" fill="#1c365c"/>
<circle cx="235.6" cy="633.6" r="1.3" fill="#1c365c"/>
<circle cx="237.8" cy="636.9" r="1.3" fill="#1c365c"/>
<circle cx="238.3" cy="638.0" r="1.3" fill="#1c365c"/>
<circle cx="237.2" cy="639.1" r="1.3" fill="#1c365c"/>
<circle cx="242.8" cy="632.5" r="1.3" fill="#1c365c"/>
<circle cx="242.8" cy="634.7" r="1.3" fill="#1c365c"/>
<circle cx="242.8" cy="636.9" r="1.3" fill="#1c365c"/>
<circle cx="242.8" cy="638.5" r="1.3" fill="#1c365c"/>
<circle cx="247.7" cy="640.0" r="1.3" fill="#1c365c"/>
<circle cx="251.6" cy="638.5" r="1.3" fill="#1c365c"/>
<circle cx="253.8" cy="635.8" r="1.3" fill="#1c365c"/>
<circle cx="242.8" cy="647.0" r="1.3" fill="#1c365c"/>
<circle cx="251.8" cy="645.2" r="1.3" fill="#1c365c"/>
<circle cx="252.7" cy="631.4" r="1.3" fill="#1c365c"/>
<polyline points="159.30,631.40 160.86,631.00 162.41,630.60 163.97,630.21 165.53,629.81 167.08,629.41 168.64,629.01 170.20,628.61 171.75,628.27 173.31,628.00 174.87,627.81 176.42,627.68 177.98,627.56 179.54,627.43 181.09,627.30 182.65,627.17 184.21,627.04 185.76,626.91 187.32,626.79 188.88,626.66 190.43,626.53 191.99,626.40 193.55,626.28 195.10,626.17 196.66,626.05 198.22,625.93 199.77,625.81 201.33,625.70 202.89,625.58 204.44,625.46 206.00,625.34 207.56,625.20 209.11,625.05 210.67,624.89 212.23,624.74 213.78,624.58 215.34,624.43 216.90,624.36 218.45,624.45 220.01,624.66 221.57,624.96 223.12,625.25 224.68,625.55 226.24,625.85 227.79,626.15 229.35,626.46 230.91,626.76 232.46,627.07 234.02,627.38 235.58,627.68 237.13,628.00 238.69,628.33 240.25,628.67 241.80,629.01 243.36,629.35 244.92,629.69 246.47,630.03 248.03,630.38 249.59,630.72 251.14,631.06 252.70,631.40" fill="none" stroke="#e57f88" stroke-width="1.4" stroke-linejoin="round"/>
<line x1="176.4" y1="590.0" x2="192.0" y2="590.0" stroke="#333" stroke-width="0.6"/>
<line x1="176.4" y1="589.1" x2="176.4" y2="590.9" stroke="#333" stroke-width="0.5"/>
<line x1="192.0" y1="589.1" x2="192.0" y2="590.9" stroke="#333" stroke-width="0.5"/>
<circle cx="184.1" cy="590.0" r="1.2" fill="#111"/>
<line x1="184.1" y1="590.0" x2="184.1" y2="593.6" stroke="#333" stroke-width="0.5"/>
<text x="263.5" y="583.6" font-size="12.8" text-anchor="start" font-weight="normal" font-style="normal" fill="#111" stroke="#111" stroke-width="0.18">J</text>
<text x="336.6" y="583.8000000000001" font-size="6.55" text-anchor="middle" font-weight="normal" font-style="normal" fill="#222"  stroke="#222" stroke-width="0.12">Pam3Cys PBMC 24h MCP-1</text>
<path d="M284.6,585.6 L284.6,669.1 L388.0,669.1" fill="none" stroke="#333" stroke-width="0.9"/>
<text x="0" y="0" font-size="6.8" text-anchor="middle" font-weight="normal" font-style="normal" fill="#222" transform="translate(283.40000000000003,600.8000000000001) rotate(-90)" stroke="#222" stroke-width="0.12">2</text>
<text x="0" y="0" font-size="6.8" text-anchor="middle" font-weight="normal" font-style="normal" fill="#222" transform="translate(283.40000000000003,626.6) rotate(-90)" stroke="#222" stroke-width="0.12">0</text>
<text x="0" y="0" font-size="6.8" text-anchor="middle" font-weight="normal" font-style="normal" fill="#222" transform="translate(283.40000000000003,652.4) rotate(-90)" stroke="#222" stroke-width="0.12">-2</text>
<text x="0" y="0" font-size="6.0" text-anchor="middle" font-weight="normal" font-style="normal" fill="#222" transform="translate(277.1,627.85) rotate(-90)" stroke="#222" stroke-width="0.12">Normalized difference from median</text>
<line x1="301.20000000000005" y1="669.1" x2="301.20000000000005" y2="670.9" stroke="#333" stroke-width="0.5"/>
<text x="0" y="0" font-size="7.1" text-anchor="end" font-weight="normal" font-style="normal" fill="#222" transform="translate(303.80000000000007,676.9) rotate(-45)" stroke="#222" stroke-width="0.12">Apr 2016</text>
<line x1="324.78000000000003" y1="669.1" x2="324.78000000000003" y2="670.9" stroke="#333" stroke-width="0.5"/>
<text x="0" y="0" font-size="7.1" text-anchor="end" font-weight="normal" font-style="normal" fill="#222" transform="translate(327.38000000000005,676.9) rotate(-45)" stroke="#222" stroke-width="0.12">Jul 2016</text>
<line x1="348.36" y1="669.1" x2="348.36" y2="670.9" stroke="#333" stroke-width="0.5"/>
<text x="0" y="0" font-size="7.1" text-anchor="end" font-weight="normal" font-style="normal" fill="#222" transform="translate(350.96000000000004,676.9) rotate(-45)" stroke="#222" stroke-width="0.12">Oct 2016</text>
<line x1="371.94000000000005" y1="669.1" x2="371.94000000000005" y2="670.9" stroke="#333" stroke-width="0.5"/>
<text x="0" y="0" font-size="7.1" text-anchor="end" font-weight="normal" font-style="normal" fill="#222" transform="translate(374.5400000000001,676.9) rotate(-45)" stroke="#222" stroke-width="0.12">Jan 2017</text>
<text x="342.5" y="696.6" font-size="6.9" text-anchor="middle" font-weight="normal" font-style="normal" fill="#222"  stroke="#222" stroke-width="0.12">date</text>
<line x1="288.3" y1="626.6" x2="384.2" y2="626.6" stroke="#9a9a9a" stroke-width="0.7"/>
<polygon points="289.30,624.70 290.87,624.88 292.43,625.04 294.00,625.18 295.56,625.30 297.12,625.40 298.69,625.48 300.25,625.55 301.82,625.58 303.38,625.57 304.95,625.52 306.51,625.44 308.08,625.34 309.64,625.23 311.21,625.10 312.77,624.97 314.34,624.76 315.91,624.44 317.47,624.06 319.04,623.64 320.60,623.20 322.17,622.75 323.73,622.27 325.30,621.79 326.86,621.29 328.43,620.79 329.99,620.29 331.56,619.78 333.12,619.27 334.69,618.93 336.25,618.86 337.81,619.06 339.38,619.44 340.94,619.85 342.51,620.32 344.07,620.87 345.64,621.48 347.20,622.08 348.77,622.68 350.33,623.27 351.90,623.86 353.47,624.44 355.03,624.93 356.60,625.28 358.16,625.45 359.73,625.51 361.29,625.55 362.86,625.58 364.42,625.60 365.99,625.61 367.55,625.60 369.12,625.57 370.68,625.52 372.25,625.42 373.81,625.29 375.38,625.14 376.94,624.97 378.50,624.78 380.07,624.57 381.63,624.35 383.20,624.10 383.20,635.30 381.63,634.93 380.07,634.58 378.50,634.25 376.94,633.93 375.38,633.64 373.81,633.37 372.25,633.10 370.68,632.84 369.12,632.57 367.55,632.30 365.99,632.03 364.42,631.78 362.86,631.55 361.29,631.32 359.73,631.11 358.16,630.90 356.60,630.60 355.03,630.14 353.47,629.55 351.90,628.90 350.33,628.24 348.77,627.60 347.20,626.96 345.64,626.33 344.07,625.70 342.51,625.13 340.94,624.66 339.38,624.24 337.81,623.86 336.25,623.66 334.69,623.73 333.12,624.08 331.56,624.59 329.99,625.10 328.43,625.62 326.86,626.14 325.30,626.67 323.73,627.20 322.17,627.72 320.60,628.24 319.04,628.75 317.47,629.27 315.91,629.77 314.34,630.21 312.77,630.57 311.21,630.88 309.64,631.19 308.08,631.52 306.51,631.86 304.95,632.22 303.38,632.57 301.82,632.91 300.25,633.24 298.69,633.56 297.12,633.90 295.56,634.27 294.00,634.64 292.43,635.04 290.87,635.46 289.30,635.90" fill="#cfcfcf" fill-opacity="0.55"/>
<circle cx="294.8" cy="614.8" r="1.3" fill="#1c365c"/>
<circle cx="289.3" cy="620.5" r="1.3" fill="#1c365c"/>
<circle cx="294.8" cy="621.6" r="1.3" fill="#1c365c"/>
<circle cx="302.0" cy="619.2" r="1.3" fill="#1c365c"/>
<circle cx="302.0" cy="623.1" r="1.3" fill="#1c365c"/>
<circle cx="302.6" cy="624.7" r="1.3" fill="#1c365c"/>
<circle cx="305.3" cy="622.5" r="1.3" fill="#1c365c"/>
<circle cx="308.6" cy="623.1" r="1.3" fill="#1c365c"/>
<circle cx="309.2" cy="624.7" r="1.3" fill="#1c365c"/>
<circle cx="319.7" cy="608.7" r="1.3" fill="#1c365c"/>
<circle cx="318.0" cy="617.0" r="1.3" fill="#1c365c"/>
<circle cx="318.0" cy="619.8" r="1.3" fill="#1c365c"/>
<circle cx="319.7" cy="622.0" r="1.3" fill="#1c365c"/>
<circle cx="320.8" cy="623.1" r="1.3" fill="#1c365c"/>
<circle cx="321.3" cy="624.7" r="1.3" fill="#1c365c"/>
<circle cx="289.3" cy="626.4" r="1.3" fill="#1c365c"/>
<circle cx="291.0" cy="625.8" r="1.3" fill="#1c365c"/>
<circle cx="291.0" cy="628.0" r="1.3" fill="#1c365c"/>
<circle cx="293.2" cy="627.5" r="1.3" fill="#1c365c"/>
<circle cx="294.8" cy="626.9" r="1.3" fill="#1c365c"/>
<circle cx="294.8" cy="628.6" r="1.3" fill="#1c365c"/>
<circle cx="297.6" cy="626.9" r="1.3" fill="#1c365c"/>
<circle cx="298.1" cy="628.6" r="1.3" fill="#1c365c"/>
<circle cx="300.3" cy="625.8" r="1.3" fill="#1c365c"/>
<circle cx="302.0" cy="626.4" r="1.3" fill="#1c365c"/>
<circle cx="303.7" cy="626.9" r="1.3" fill="#1c365c"/>
<circle cx="305.3" cy="625.8" r="1.3" fill="#1c365c"/>
<circle cx="306.4" cy="626.9" r="1.3" fill="#1c365c"/>
<circle cx="308.1" cy="626.9" r="1.3" fill="#1c365c"/>
<circle cx="309.2" cy="626.4" r="1.3" fill="#1c365c"/>
<circle cx="314.1" cy="625.8" r="1.3" fill="#1c365c"/>
<circle cx="297.0" cy="631.4" r="1.3" fill="#1c365c"/>
<circle cx="296.5" cy="634.7" r="1.3" fill="#1c365c"/>
<circle cx="297.0" cy="636.3" r="1.3" fill="#1c365c"/>
<circle cx="298.7" cy="635.8" r="1.3" fill="#1c365c"/>
<circle cx="296.5" cy="638.5" r="1.3" fill="#1c365c"/>
<circle cx="298.1" cy="639.6" r="1.3" fill="#1c365c"/>
<circle cx="303.1" cy="631.4" r="1.3" fill="#1c365c"/>
<circle cx="303.1" cy="633.6" r="1.3" fill="#1c365c"/>
<circle cx="302.0" cy="636.3" r="1.3" fill="#1c365c"/>
<circle cx="303.7" cy="635.8" r="1.3" fill="#1c365c"/>
<circle cx="307.0" cy="635.8" r="1.3" fill="#1c365c"/>
<circle cx="305.3" cy="638.0" r="1.3" fill="#1c365c"/>
<circle cx="310.8" cy="634.1" r="1.3" fill="#1c365c"/>
<circle cx="314.1" cy="630.8" r="1.3" fill="#1c365c"/>
<circle cx="315.8" cy="631.4" r="1.3" fill="#1c365c"/>
<circle cx="315.8" cy="634.7" r="1.3" fill="#1c365c"/>
<circle cx="315.8" cy="638.5" r="1.3" fill="#1c365c"/>
<circle cx="315.8" cy="640.2" r="1.3" fill="#1c365c"/>
<circle cx="315.8" cy="641.8" r="1.3" fill="#1c365c"/>
<circle cx="294.8" cy="642.2" r="1.3" fill="#1c365c"/>
<circle cx="316.0" cy="649.0" r="1.3" fill="#1c365c"/>
<circle cx="294.8" cy="660.9" r="1.3" fill="#1c365c"/>
<circle cx="319.1" cy="628.0" r="1.3" fill="#1c365c"/>
<circle cx="320.2" cy="629.2" r="1.3" fill="#1c365c"/>
<circle cx="320.8" cy="635.2" r="1.3" fill="#1c365c"/>
<circle cx="321.3" cy="636.9" r="1.3" fill="#1c365c"/>
<circle cx="337.4" cy="597.7" r="1.3" fill="#1c365c"/>
<circle cx="342.6" cy="594.9" r="1.3" fill="#1c365c"/>
<circle cx="342.6" cy="596.6" r="1.3" fill="#1c365c"/>
<circle cx="342.6" cy="598.2" r="1.3" fill="#1c365c"/>
<circle cx="330.5" cy="604.3" r="1.3" fill="#1c365c"/>
<circle cx="330.5" cy="608.0" r="1.3" fill="#1c365c"/>
<circle cx="326.6" cy="608.7" r="1.3" fill="#1c365c"/>
<circle cx="326.6" cy="612.0" r="1.3" fill="#1c365c"/>
<circle cx="320.6" cy="608.7" r="1.3" fill="#1c365c"/>
<circle cx="344.3" cy="615.7" r="1.3" fill="#1c365c"/>
<circle cx="328.3" cy="616.5" r="1.3" fill="#1c365c"/>
<circle cx="327.7" cy="618.1" r="1.3" fill="#1c365c"/>
<circle cx="326.6" cy="620.3" r="1.3" fill="#1c365c"/>
<circle cx="327.2" cy="622.5" r="1.3" fill="#1c365c"/>
<circle cx="333.8" cy="617.0" r="1.3" fill="#1c365c"/>
<circle cx="336.0" cy="618.1" r="1.3" fill="#1c365c"/>
<circle cx="337.7" cy="618.1" r="1.3" fill="#1c365c"/>
<circle cx="339.3" cy="618.1" r="1.3" fill="#1c365c"/>
<circle cx="340.4" cy="621.4" r="1.3" fill="#1c365c"/>
<circle cx="336.6" cy="621.4" r="1.3" fill="#1c365c"/>
<circle cx="320.6" cy="622.0" r="1.3" fill="#1c365c"/>
<circle cx="321.1" cy="624.2" r="1.3" fill="#1c365c"/>
<circle cx="328.8" cy="625.3" r="1.3" fill="#1c365c"/>
<circle cx="330.5" cy="625.3" r="1.3" fill="#1c365c"/>
<circle cx="332.1" cy="625.3" r="1.3" fill="#1c365c"/>
<circle cx="331.0" cy="626.9" r="1.3" fill="#1c365c"/>
<circle cx="336.0" cy="623.6" r="1.3" fill="#1c365c"/>
<circle cx="336.6" cy="624.7" r="1.3" fill="#1c365c"/>
<circle cx="339.3" cy="625.3" r="1.3" fill="#1c365c"/>
<circle cx="341.0" cy="626.4" r="1.3" fill="#1c365c"/>
<circle cx="348.1" cy="621.4" r="1.3" fill="#1c365c"/>
<circle cx="349.2" cy="622.5" r="1.3" fill="#1c365c"/>
<circle cx="352.0" cy="620.3" r="1.3" fill="#1c365c"/>
<circle cx="353.1" cy="621.4" r="1.3" fill="#1c365c"/>
<circle cx="354.8" cy="620.9" r="1.3" fill="#1c365c"/>
<circle cx="355.3" cy="622.5" r="1.3" fill="#1c365c"/>
<circle cx="344.8" cy="626.4" r="1.3" fill="#1c365c"/>
<circle cx="346.5" cy="627.5" r="1.3" fill="#1c365c"/>
<circle cx="348.1" cy="625.8" r="1.3" fill="#1c365c"/>
<circle cx="321.1" cy="629.2" r="1.3" fill="#1c365c"/>
<circle cx="321.1" cy="635.2" r="1.3" fill="#1c365c"/>
<circle cx="321.1" cy="636.9" r="1.3" fill="#1c365c"/>
<circle cx="328.3" cy="629.2" r="1.3" fill="#1c365c"/>
<circle cx="331.6" cy="628.6" r="1.3" fill="#1c365c"/>
<circle cx="331.6" cy="634.7" r="1.3" fill="#1c365c"/>
<circle cx="339.3" cy="635.8" r="1.3" fill="#1c365c"/>
<circle cx="344.8" cy="629.7" r="1.3" fill="#1c365c"/>
<circle cx="345.9" cy="631.4" r="1.3" fill="#1c365c"/>
<circle cx="346.5" cy="632.5" r="1.3" fill="#1c365c"/>
<circle cx="350.4" cy="628.6" r="1.3" fill="#1c365c"/>
<circle cx="353.1" cy="632.5" r="1.3" fill="#1c365c"/>
<circle cx="351.5" cy="634.7" r="1.3" fill="#1c365c"/>
<circle cx="353.1" cy="635.2" r="1.3" fill="#1c365c"/>
<circle cx="355.3" cy="629.2" r="1.3" fill="#1c365c"/>
<circle cx="353.1" cy="643.3" r="1.3" fill="#1c365c"/>
<circle cx="365.6" cy="607.1" r="1.3" fill="#1c365c"/>
<circle cx="354.6" cy="620.3" r="1.3" fill="#1c365c"/>
<circle cx="354.6" cy="622.0" r="1.3" fill="#1c365c"/>
<circle cx="358.4" cy="621.6" r="1.3" fill="#1c365c"/>
<circle cx="367.2" cy="618.7" r="1.3" fill="#1c365c"/>
<circle cx="367.2" cy="620.3" r="1.3" fill="#1c365c"/>
<circle cx="367.8" cy="622.5" r="1.3" fill="#1c365c"/>
<circle cx="367.2" cy="623.6" r="1.3" fill="#1c365c"/>
<circle cx="383.2" cy="620.3" r="1.3" fill="#1c365c"/>
<circle cx="361.7" cy="624.7" r="1.3" fill="#1c365c"/>
<circle cx="363.4" cy="626.4" r="1.3" fill="#1c365c"/>
<circle cx="365.0" cy="626.9" r="1.3" fill="#1c365c"/>
<circle cx="366.7" cy="627.5" r="1.3" fill="#1c365c"/>
<circle cx="367.8" cy="626.9" r="1.3" fill="#1c365c"/>
<circle cx="372.2" cy="626.9" r="1.3" fill="#1c365c"/>
<circle cx="373.9" cy="627.5" r="1.3" fill="#1c365c"/>
<circle cx="375.5" cy="626.9" r="1.3" fill="#1c365c"/>
<circle cx="377.2" cy="626.4" r="1.3" fill="#1c365c"/>
<circle cx="378.8" cy="625.8" r="1.3" fill="#1c365c"/>
<circle cx="380.5" cy="626.4" r="1.3" fill="#1c365c"/>
<circle cx="383.2" cy="625.8" r="1.3" fill="#1c365c"/>
<circle cx="354.6" cy="629.7" r="1.3" fill="#1c365c"/>
<circle cx="355.7" cy="631.4" r="1.3" fill="#1c365c"/>
<circle cx="358.4" cy="632.5" r="1.3" fill="#1c365c"/>
<circle cx="354.6" cy="635.8" r="1.3" fill="#1c365c"/>
<circle cx="358.4" cy="636.3" r="1.3" fill="#1c365c"/>
<circle cx="354.6" cy="643.0" r="1.3" fill="#1c365c"/>
<circle cx="365.6" cy="631.4" r="1.3" fill="#1c365c"/>
<circle cx="365.6" cy="634.1" r="1.3" fill="#1c365c"/>
<circle cx="367.8" cy="633.6" r="1.3" fill="#1c365c"/>
<circle cx="372.8" cy="630.3" r="1.3" fill="#1c365c"/>
<circle cx="372.8" cy="633.0" r="1.3" fill="#1c365c"/>
<circle cx="373.3" cy="635.2" r="1.3" fill="#1c365c"/>
<circle cx="374.4" cy="636.9" r="1.3" fill="#1c365c"/>
<circle cx="374.4" cy="638.5" r="1.3" fill="#1c365c"/>
<circle cx="376.6" cy="630.3" r="1.3" fill="#1c365c"/>
<circle cx="377.7" cy="631.9" r="1.3" fill="#1c365c"/>
<circle cx="379.9" cy="631.4" r="1.3" fill="#1c365c"/>
<circle cx="379.9" cy="633.6" r="1.3" fill="#1c365c"/>
<circle cx="383.2" cy="629.7" r="1.3" fill="#1c365c"/>
<circle cx="381.6" cy="636.3" r="1.3" fill="#1c365c"/>
<circle cx="372.8" cy="644.1" r="1.3" fill="#1c365c"/>
<circle cx="362.3" cy="647.6" r="1.3" fill="#1c365c"/>
<circle cx="362.3" cy="655.1" r="1.3" fill="#1c365c"/>
<polyline points="289.30,630.30 290.87,630.17 292.43,630.04 294.00,629.91 295.56,629.78 297.12,629.65 298.69,629.52 300.25,629.39 301.82,629.25 303.38,629.07 304.95,628.87 306.51,628.65 308.08,628.43 309.64,628.21 311.21,627.99 312.77,627.77 314.34,627.48 315.91,627.10 317.47,626.67 319.04,626.19 320.60,625.72 322.17,625.23 323.73,624.73 325.30,624.23 326.86,623.72 328.43,623.21 329.99,622.70 331.56,622.19 333.12,621.68 334.69,621.33 336.25,621.26 337.81,621.46 339.38,621.84 340.94,622.25 342.51,622.72 344.07,623.28 345.64,623.90 347.20,624.52 348.77,625.14 350.33,625.76 351.90,626.38 353.47,627.00 355.03,627.54 356.60,627.94 358.16,628.18 359.73,628.31 361.29,628.43 362.86,628.56 364.42,628.69 365.99,628.82 367.55,628.95 369.12,629.07 370.68,629.18 372.25,629.26 373.81,629.33 375.38,629.39 376.94,629.45 378.50,629.51 380.07,629.58 381.63,629.64 383.20,629.70" fill="none" stroke="#e57f88" stroke-width="1.4" stroke-linejoin="round"/>
<text x="392.5" y="583.6" font-size="12.8" text-anchor="start" font-weight="normal" font-style="normal" fill="#111" stroke="#111" stroke-width="0.18">K</text>
<text x="467.5" y="583.8000000000001" font-size="6.55" text-anchor="middle" font-weight="normal" font-style="normal" fill="#222"  stroke="#222" stroke-width="0.12">C. albicans yeast PBMC 24h IL-8</text>
<path d="M414.6,585.6 L414.6,669.1 L518.0,669.1" fill="none" stroke="#333" stroke-width="0.9"/>
<text x="0" y="0" font-size="6.8" text-anchor="middle" font-weight="normal" font-style="normal" fill="#222" transform="translate(413.40000000000003,600.8000000000001) rotate(-90)" stroke="#222" stroke-width="0.12">2</text>
<text x="0" y="0" font-size="6.8" text-anchor="middle" font-weight="normal" font-style="normal" fill="#222" transform="translate(413.40000000000003,626.6) rotate(-90)" stroke="#222" stroke-width="0.12">0</text>
<text x="0" y="0" font-size="6.8" text-anchor="middle" font-weight="normal" font-style="normal" fill="#222" transform="translate(413.40000000000003,652.4) rotate(-90)" stroke="#222" stroke-width="0.12">-2</text>
<text x="0" y="0" font-size="6.0" text-anchor="middle" font-weight="normal" font-style="normal" fill="#222" transform="translate(407.1,627.85) rotate(-90)" stroke="#222" stroke-width="0.12">Normalized difference from median</text>
<line x1="431.20000000000005" y1="669.1" x2="431.20000000000005" y2="670.9" stroke="#333" stroke-width="0.5"/>
<text x="0" y="0" font-size="7.1" text-anchor="end" font-weight="normal" font-style="normal" fill="#222" transform="translate(433.80000000000007,676.9) rotate(-45)" stroke="#222" stroke-width="0.12">Apr 2016</text>
<line x1="454.78000000000003" y1="669.1" x2="454.78000000000003" y2="670.9" stroke="#333" stroke-width="0.5"/>
<text x="0" y="0" font-size="7.1" text-anchor="end" font-weight="normal" font-style="normal" fill="#222" transform="translate(457.38000000000005,676.9) rotate(-45)" stroke="#222" stroke-width="0.12">Jul 2016</text>
<line x1="478.36" y1="669.1" x2="478.36" y2="670.9" stroke="#333" stroke-width="0.5"/>
<text x="0" y="0" font-size="7.1" text-anchor="end" font-weight="normal" font-style="normal" fill="#222" transform="translate(480.96000000000004,676.9) rotate(-45)" stroke="#222" stroke-width="0.12">Oct 2016</text>
<line x1="501.94000000000005" y1="669.1" x2="501.94000000000005" y2="670.9" stroke="#333" stroke-width="0.5"/>
<text x="0" y="0" font-size="7.1" text-anchor="end" font-weight="normal" font-style="normal" fill="#222" transform="translate(504.5400000000001,676.9) rotate(-45)" stroke="#222" stroke-width="0.12">Jan 2017</text>
<text x="470.2" y="696.6" font-size="6.9" text-anchor="middle" font-weight="normal" font-style="normal" fill="#222"  stroke="#222" stroke-width="0.12">date</text>
<line x1="418.3" y1="626.6" x2="514.2" y2="626.6" stroke="#9a9a9a" stroke-width="0.7"/>
<polygon points="419.30,620.80 420.87,620.91 422.43,621.00 424.00,621.07 425.56,621.12 427.12,621.15 428.69,621.16 430.25,621.16 431.82,621.23 433.38,621.44 434.95,621.78 436.52,622.20 438.08,622.61 439.65,623.00 441.21,623.38 442.78,623.76 444.34,624.23 445.91,624.86 447.47,625.59 449.04,626.36 450.60,627.11 452.17,627.83 453.73,628.47 455.30,629.07 456.86,629.66 458.43,630.24 459.99,630.80 461.56,631.33 463.12,631.80 464.69,632.24 466.25,632.38 467.82,632.04 469.38,631.41 470.95,630.62 472.51,629.84 474.08,629.08 475.64,628.38 477.21,627.81 478.77,627.29 480.34,626.78 481.90,626.26 483.47,625.73 485.03,625.26 486.60,624.88 488.16,624.61 489.73,624.42 491.29,624.22 492.86,624.00 494.42,623.77 495.99,623.53 497.55,623.28 499.12,623.01 500.68,622.73 502.25,622.41 503.81,622.08 505.38,621.73 506.94,621.36 508.51,620.98 510.07,620.57 511.64,620.15 513.20,619.70 513.20,630.90 511.64,630.73 510.07,630.57 508.51,630.44 506.94,630.33 505.38,630.23 503.81,630.16 502.25,630.10 500.68,630.05 499.12,630.01 497.55,629.98 495.99,629.96 494.42,629.96 492.86,629.97 491.29,629.99 489.73,630.02 488.16,630.06 486.60,630.20 485.03,630.47 483.47,630.85 481.90,631.29 480.34,631.75 478.77,632.21 477.21,632.69 475.64,633.23 474.08,633.91 472.51,634.65 470.95,635.43 469.38,636.21 467.82,636.84 466.25,637.18 464.69,637.04 463.12,636.61 461.56,636.13 459.99,635.62 458.43,635.07 456.86,634.51 455.30,633.95 453.73,633.39 452.17,632.80 450.60,632.15 449.04,631.48 447.47,630.79 445.91,630.18 444.34,629.68 442.78,629.36 441.21,629.15 439.65,628.96 438.08,628.79 436.52,628.62 434.95,628.48 433.38,628.43 431.82,628.56 430.25,628.84 428.69,629.24 427.12,629.65 425.56,630.08 424.00,630.53 422.43,631.00 420.87,631.49 419.30,632.00" fill="#cfcfcf" fill-opacity="0.55"/>
<circle cx="431.7" cy="595.5" r="1.3" fill="#1c365c"/>
<circle cx="424.6" cy="613.9" r="1.3" fill="#1c365c"/>
<circle cx="424.6" cy="617.9" r="1.3" fill="#1c365c"/>
<circle cx="431.5" cy="611.3" r="1.3" fill="#1c365c"/>
<circle cx="432.6" cy="610.6" r="1.3" fill="#1c365c"/>
<circle cx="433.7" cy="610.2" r="1.3" fill="#1c365c"/>
<circle cx="435.9" cy="612.6" r="1.3" fill="#1c365c"/>
<circle cx="437.0" cy="611.5" r="1.3" fill="#1c365c"/>
<circle cx="432.0" cy="615.9" r="1.3" fill="#1c365c"/>
<circle cx="433.1" cy="617.0" r="1.3" fill="#1c365c"/>
<circle cx="434.8" cy="618.1" r="1.3" fill="#1c365c"/>
<circle cx="435.9" cy="619.2" r="1.3" fill="#1c365c"/>
<circle cx="435.3" cy="620.9" r="1.3" fill="#1c365c"/>
<circle cx="433.7" cy="620.9" r="1.3" fill="#1c365c"/>
<circle cx="432.0" cy="620.9" r="1.3" fill="#1c365c"/>
<circle cx="440.8" cy="616.8" r="1.3" fill="#1c365c"/>
<circle cx="444.1" cy="615.4" r="1.3" fill="#1c365c"/>
<circle cx="439.2" cy="620.1" r="1.3" fill="#1c365c"/>
<circle cx="445.8" cy="608.0" r="1.3" fill="#1c365c"/>
<circle cx="447.5" cy="608.7" r="1.3" fill="#1c365c"/>
<circle cx="448.0" cy="609.8" r="1.3" fill="#1c365c"/>
<circle cx="445.8" cy="620.5" r="1.3" fill="#1c365c"/>
<circle cx="421.0" cy="623.6" r="1.3" fill="#1c365c"/>
<circle cx="424.8" cy="623.1" r="1.3" fill="#1c365c"/>
<circle cx="427.0" cy="622.5" r="1.3" fill="#1c365c"/>
<circle cx="428.1" cy="621.4" r="1.3" fill="#1c365c"/>
<circle cx="429.2" cy="623.1" r="1.3" fill="#1c365c"/>
<circle cx="431.5" cy="623.1" r="1.3" fill="#1c365c"/>
<circle cx="433.7" cy="623.6" r="1.3" fill="#1c365c"/>
<circle cx="435.9" cy="624.2" r="1.3" fill="#1c365c"/>
<circle cx="437.5" cy="624.2" r="1.3" fill="#1c365c"/>
<circle cx="439.2" cy="623.6" r="1.3" fill="#1c365c"/>
<circle cx="443.6" cy="623.6" r="1.3" fill="#1c365c"/>
<circle cx="445.8" cy="623.6" r="1.3" fill="#1c365c"/>
<circle cx="448.0" cy="623.6" r="1.3" fill="#1c365c"/>
<circle cx="450.2" cy="624.2" r="1.3" fill="#1c365c"/>
<circle cx="425.4" cy="626.4" r="1.3" fill="#1c365c"/>
<circle cx="427.6" cy="626.4" r="1.3" fill="#1c365c"/>
<circle cx="430.9" cy="625.8" r="1.3" fill="#1c365c"/>
<circle cx="427.0" cy="628.6" r="1.3" fill="#1c365c"/>
<circle cx="424.8" cy="630.8" r="1.3" fill="#1c365c"/>
<circle cx="428.1" cy="630.3" r="1.3" fill="#1c365c"/>
<circle cx="431.5" cy="629.7" r="1.3" fill="#1c365c"/>
<circle cx="424.8" cy="634.1" r="1.3" fill="#1c365c"/>
<circle cx="421.0" cy="633.3" r="1.3" fill="#1c365c"/>
<circle cx="419.3" cy="636.3" r="1.3" fill="#1c365c"/>
<circle cx="444.1" cy="630.3" r="1.3" fill="#1c365c"/>
<circle cx="449.1" cy="630.3" r="1.3" fill="#1c365c"/>
<circle cx="451.3" cy="626.9" r="1.3" fill="#1c365c"/>
<circle cx="435.3" cy="638.5" r="1.3" fill="#1c365c"/>
<circle cx="449.1" cy="634.7" r="1.3" fill="#1c365c"/>
<circle cx="449.1" cy="636.9" r="1.3" fill="#1c365c"/>
<circle cx="449.1" cy="639.1" r="1.3" fill="#1c365c"/>
<circle cx="449.1" cy="640.7" r="1.3" fill="#1c365c"/>
<circle cx="419.3" cy="643.0" r="1.3" fill="#1c365c"/>
<circle cx="419.3" cy="647.9" r="1.3" fill="#1c365c"/>
<circle cx="451.1" cy="655.1" r="1.3" fill="#1c365c"/>
<circle cx="470.8" cy="608.0" r="1.3" fill="#1c365c"/>
<circle cx="477.8" cy="608.2" r="1.3" fill="#1c365c"/>
<circle cx="463.5" cy="615.0" r="1.3" fill="#1c365c"/>
<circle cx="468.8" cy="620.5" r="1.3" fill="#1c365c"/>
<circle cx="469.9" cy="621.4" r="1.3" fill="#1c365c"/>
<circle cx="471.5" cy="622.5" r="1.3" fill="#1c365c"/>
<circle cx="472.6" cy="623.6" r="1.3" fill="#1c365c"/>
<circle cx="472.6" cy="619.2" r="1.3" fill="#1c365c"/>
<circle cx="465.5" cy="624.2" r="1.3" fill="#1c365c"/>
<circle cx="477.6" cy="618.1" r="1.3" fill="#1c365c"/>
<circle cx="478.1" cy="620.3" r="1.3" fill="#1c365c"/>
<circle cx="479.2" cy="622.0" r="1.3" fill="#1c365c"/>
<circle cx="480.4" cy="623.1" r="1.3" fill="#1c365c"/>
<circle cx="481.5" cy="619.8" r="1.3" fill="#1c365c"/>
<circle cx="483.1" cy="620.9" r="1.3" fill="#1c365c"/>
<circle cx="484.8" cy="619.2" r="1.3" fill="#1c365c"/>
<circle cx="485.3" cy="622.5" r="1.3" fill="#1c365c"/>
<circle cx="450.6" cy="623.6" r="1.3" fill="#1c365c"/>
<circle cx="451.1" cy="628.0" r="1.3" fill="#1c365c"/>
<circle cx="456.6" cy="625.8" r="1.3" fill="#1c365c"/>
<circle cx="457.7" cy="626.9" r="1.3" fill="#1c365c"/>
<circle cx="459.9" cy="624.7" r="1.3" fill="#1c365c"/>
<circle cx="461.0" cy="626.4" r="1.3" fill="#1c365c"/>
<circle cx="466.6" cy="628.0" r="1.3" fill="#1c365c"/>
<circle cx="467.7" cy="629.2" r="1.3" fill="#1c365c"/>
<circle cx="468.8" cy="627.0" r="1.3" fill="#1c365c"/>
<circle cx="466.0" cy="630.3" r="1.3" fill="#1c365c"/>
<circle cx="465.5" cy="631.9" r="1.3" fill="#1c365c"/>
<circle cx="475.9" cy="624.7" r="1.3" fill="#1c365c"/>
<circle cx="476.5" cy="626.4" r="1.3" fill="#1c365c"/>
<circle cx="478.1" cy="627.5" r="1.3" fill="#1c365c"/>
<circle cx="480.4" cy="626.9" r="1.3" fill="#1c365c"/>
<circle cx="482.0" cy="626.4" r="1.3" fill="#1c365c"/>
<circle cx="483.7" cy="625.3" r="1.3" fill="#1c365c"/>
<circle cx="450.6" cy="631.9" r="1.3" fill="#1c365c"/>
<circle cx="451.1" cy="634.1" r="1.3" fill="#1c365c"/>
<circle cx="451.1" cy="636.3" r="1.3" fill="#1c365c"/>
<circle cx="450.6" cy="639.1" r="1.3" fill="#1c365c"/>
<circle cx="456.6" cy="630.3" r="1.3" fill="#1c365c"/>
<circle cx="457.7" cy="631.4" r="1.3" fill="#1c365c"/>
<circle cx="461.6" cy="630.8" r="1.3" fill="#1c365c"/>
<circle cx="461.0" cy="633.6" r="1.3" fill="#1c365c"/>
<circle cx="456.6" cy="636.9" r="1.3" fill="#1c365c"/>
<circle cx="457.2" cy="638.5" r="1.3" fill="#1c365c"/>
<circle cx="458.8" cy="639.1" r="1.3" fill="#1c365c"/>
<circle cx="460.5" cy="639.1" r="1.3" fill="#1c365c"/>
<circle cx="461.6" cy="638.5" r="1.3" fill="#1c365c"/>
<circle cx="456.6" cy="641.3" r="1.3" fill="#1c365c"/>
<circle cx="456.6" cy="643.0" r="1.3" fill="#1c365c"/>
<circle cx="458.3" cy="644.6" r="1.3" fill="#1c365c"/>
<circle cx="460.5" cy="644.6" r="1.3" fill="#1c365c"/>
<circle cx="456.6" cy="649.0" r="1.3" fill="#1c365c"/>
<circle cx="467.1" cy="635.8" r="1.3" fill="#1c365c"/>
<circle cx="470.4" cy="635.8" r="1.3" fill="#1c365c"/>
<circle cx="474.3" cy="640.2" r="1.3" fill="#1c365c"/>
<circle cx="471.0" cy="643.3" r="1.3" fill="#1c365c"/>
<circle cx="477.6" cy="643.3" r="1.3" fill="#1c365c"/>
<circle cx="474.3" cy="645.2" r="1.3" fill="#1c365c"/>
<circle cx="474.3" cy="646.8" r="1.3" fill="#1c365c"/>
<circle cx="467.1" cy="645.5" r="1.3" fill="#1c365c"/>
<circle cx="469.9" cy="648.8" r="1.3" fill="#1c365c"/>
<circle cx="480.9" cy="630.3" r="1.3" fill="#1c365c"/>
<circle cx="482.0" cy="631.4" r="1.3" fill="#1c365c"/>
<circle cx="481.5" cy="633.6" r="1.3" fill="#1c365c"/>
<circle cx="482.0" cy="635.8" r="1.3" fill="#1c365c"/>
<circle cx="483.1" cy="634.1" r="1.3" fill="#1c365c"/>
<circle cx="484.8" cy="632.5" r="1.3" fill="#1c365c"/>
<circle cx="485.1" cy="648.5" r="1.3" fill="#1c365c"/>
<circle cx="451.7" cy="655.1" r="1.3" fill="#1c365c"/>
<circle cx="461.9" cy="656.7" r="1.3" fill="#1c365c"/>
<circle cx="474.3" cy="660.9" r="1.3" fill="#1c365c"/>
<circle cx="504.1" cy="605.1" r="1.3" fill="#1c365c"/>
<circle cx="506.3" cy="608.4" r="1.3" fill="#1c365c"/>
<circle cx="484.6" cy="619.2" r="1.3" fill="#1c365c"/>
<circle cx="488.4" cy="619.8" r="1.3" fill="#1c365c"/>
<circle cx="491.7" cy="619.2" r="1.3" fill="#1c365c"/>
<circle cx="495.0" cy="618.1" r="1.3" fill="#1c365c"/>
<circle cx="495.6" cy="620.3" r="1.3" fill="#1c365c"/>
<circle cx="497.2" cy="621.4" r="1.3" fill="#1c365c"/>
<circle cx="503.9" cy="617.6" r="1.3" fill="#1c365c"/>
<circle cx="506.1" cy="620.3" r="1.3" fill="#1c365c"/>
<circle cx="507.7" cy="619.8" r="1.3" fill="#1c365c"/>
<circle cx="513.2" cy="620.5" r="1.3" fill="#1c365c"/>
<circle cx="484.6" cy="622.0" r="1.3" fill="#1c365c"/>
<circle cx="485.7" cy="623.6" r="1.3" fill="#1c365c"/>
<circle cx="489.0" cy="623.6" r="1.3" fill="#1c365c"/>
<circle cx="490.6" cy="623.1" r="1.3" fill="#1c365c"/>
<circle cx="492.3" cy="623.6" r="1.3" fill="#1c365c"/>
<circle cx="497.2" cy="623.6" r="1.3" fill="#1c365c"/>
<circle cx="497.8" cy="625.3" r="1.3" fill="#1c365c"/>
<circle cx="502.8" cy="624.7" r="1.3" fill="#1c365c"/>
<circle cx="508.3" cy="624.2" r="1.3" fill="#1c365c"/>
<circle cx="510.5" cy="622.5" r="1.3" fill="#1c365c"/>
<circle cx="512.1" cy="623.6" r="1.3" fill="#1c365c"/>
<circle cx="513.2" cy="624.7" r="1.3" fill="#1c365c"/>
<circle cx="484.6" cy="628.6" r="1.3" fill="#1c365c"/>
<circle cx="486.2" cy="629.7" r="1.3" fill="#1c365c"/>
<circle cx="491.7" cy="627.5" r="1.3" fill="#1c365c"/>
<circle cx="491.7" cy="631.4" r="1.3" fill="#1c365c"/>
<circle cx="493.4" cy="630.3" r="1.3" fill="#1c365c"/>
<circle cx="495.0" cy="629.2" r="1.3" fill="#1c365c"/>
<circle cx="496.1" cy="630.8" r="1.3" fill="#1c365c"/>
<circle cx="496.7" cy="631.9" r="1.3" fill="#1c365c"/>
<circle cx="497.8" cy="632.5" r="1.3" fill="#1c365c"/>
<circle cx="502.2" cy="629.2" r="1.3" fill="#1c365c"/>
<circle cx="502.8" cy="631.9" r="1.3" fill="#1c365c"/>
<circle cx="502.8" cy="633.6" r="1.3" fill="#1c365c"/>
<circle cx="508.3" cy="628.6" r="1.3" fill="#1c365c"/>
<circle cx="510.5" cy="629.2" r="1.3" fill="#1c365c"/>
<circle cx="512.1" cy="629.7" r="1.3" fill="#1c365c"/>
<circle cx="513.2" cy="630.8" r="1.3" fill="#1c365c"/>
<circle cx="484.6" cy="634.1" r="1.3" fill="#1c365c"/>
<circle cx="488.4" cy="634.1" r="1.3" fill="#1c365c"/>
<circle cx="498.1" cy="638.5" r="1.3" fill="#1c365c"/>
<circle cx="509.6" cy="636.7" r="1.3" fill="#1c365c"/>
<circle cx="507.7" cy="639.6" r="1.3" fill="#1c365c"/>
<circle cx="509.6" cy="640.2" r="1.3" fill="#1c365c"/>
<circle cx="484.6" cy="648.5" r="1.3" fill="#1c365c"/>
<polyline points="419.30,626.40 420.87,626.20 422.43,626.00 424.00,625.80 425.56,625.60 427.12,625.40 428.69,625.20 430.25,625.00 431.82,624.89 433.38,624.94 434.95,625.13 436.52,625.41 438.08,625.70 439.65,625.98 441.21,626.27 442.78,626.56 444.34,626.95 445.91,627.52 447.47,628.19 449.04,628.92 450.60,629.63 452.17,630.32 453.73,630.93 455.30,631.51 456.86,632.08 458.43,632.66 459.99,633.21 461.56,633.73 463.12,634.21 464.69,634.64 466.25,634.78 467.82,634.44 469.38,633.81 470.95,633.03 472.51,632.24 474.08,631.49 475.64,630.81 477.21,630.25 478.77,629.75 480.34,629.26 481.90,628.78 483.47,628.29 485.03,627.86 486.60,627.54 488.16,627.34 489.73,627.22 491.29,627.10 492.86,626.98 494.42,626.87 495.99,626.75 497.55,626.63 499.12,626.51 500.68,626.39 502.25,626.26 503.81,626.12 505.38,625.98 506.94,625.85 508.51,625.71 510.07,625.57 511.64,625.44 513.20,625.30" fill="none" stroke="#e57f88" stroke-width="1.4" stroke-linejoin="round"/>
<text x="0.5" y="428.4" font-size="12.8" text-anchor="start" font-weight="normal" font-style="normal" fill="#111" stroke="#111" stroke-width="0.18">F</text>
<path d="M20.4,421.3 L62.7,421.3 C66.56599324860001,421.3 69.7,424.43400675140003 69.7,428.3" fill="none" stroke="#5ac5ea" stroke-width="1.3" stroke-dasharray="11.30 11.60" stroke-dashoffset="22.50"/>
<path d="M69.7,428.3 L69.7,500.1 C69.7,503.9659932486 66.56599324860001,507.1 62.7,507.1" fill="none" stroke="#5ac5ea" stroke-width="1.3" stroke-dasharray="11.30 11.20" stroke-dashoffset="6.90"/>
<path d="M62.7,507.1 L20.4,507.1 C16.5340067514,507.1 13.4,503.9659932486 13.4,500.1" fill="none" stroke="#5ac5ea" stroke-width="1.3" stroke-dasharray="11.20 11.40" stroke-dashoffset="21.70"/>
<path d="M13.4,500.1 L13.4,428.3 C13.4,424.43400675140003 16.5340067514,421.3 20.4,421.3" fill="none" stroke="#5ac5ea" stroke-width="1.3" stroke-dasharray="11.20 11.40" stroke-dashoffset="7.40"/>
<text x="41.5" y="437.7" font-size="13.8" text-anchor="middle" font-weight="normal" font-style="normal" fill="#2a2a2a" >Age</text>
<text x="42.2" y="449.2" font-size="6.2" text-anchor="middle" font-weight="normal" font-style="italic" fill="#222" stroke="#222" stroke-width="0.08">C. albicans yeast</text>
<text x="42.2" y="458.0" font-size="5.9" text-anchor="middle" font-weight="normal" font-style="normal" fill="#000" stroke="#000" stroke-width="0.18"><tspan font-weight="bold" letter-spacing="-0.1">IL-1Ra</tspan></text>
<circle cx="42.2" cy="478.8" r="18.9" fill="#fff" stroke="#111" stroke-width="0.7"/>
<path d="M42.20,461.45 A17.35,17.35 0 1 1 28.53,489.48" fill="none" stroke="#55b848" stroke-width="2.6999999999999993"/>
<path d="M28.53,489.48 A17.35,17.35 0 0 1 42.20,461.45" fill="none" stroke="#6c3f9e" stroke-width="2.6999999999999993"/>
<circle cx="42.2" cy="478.8" r="15.9" fill="#fff" stroke="#111" stroke-width="0.6"/>
<circle cx="42.2" cy="478.8" r="14.9" fill="none" stroke="#999" stroke-width="0.55"/>
<path d="M42.20,478.80 L42.20,464.70 A14.1,14.1 0 0 1 42.20,492.90 Z" fill="#2a7ab8" stroke="#000" stroke-width="0.5" stroke-linejoin="round"/>
<path d="M42.20,478.80 L42.20,492.90 A14.1,14.1 0 0 1 30.37,486.48 Z" fill="#5ac5ea" stroke="#000" stroke-width="0.5" stroke-linejoin="round"/>
<path d="M42.20,478.80 L30.37,486.48 A14.1,14.1 0 0 1 29.87,485.64 Z" fill="#333" stroke="#000" stroke-width="0.5" stroke-linejoin="round"/>
<path d="M42.20,478.80 L29.87,485.64 A14.1,14.1 0 0 1 42.20,464.70 Z" fill="#d95350" stroke="#000" stroke-width="0.5" stroke-linejoin="round"/>
<polygon points="37.50,487.46 37.97,488.72 39.30,488.78 38.26,489.61 38.61,490.90 37.50,490.16 36.38,490.90 36.74,489.61 35.69,488.78 37.03,488.72" fill="#000" stroke="none" stroke-width="0"/>
<path d="M91.2,420.9 L133.5,420.9 C137.3659932486,420.9 140.5,424.0340067514 140.5,427.9" fill="none" stroke="#5cc08a" stroke-width="1.3" stroke-dasharray="11.20 10.80" stroke-dashoffset="4.00"/>
<path d="M140.5,427.9 L140.5,500.09999999999997 C140.5,503.96599324859994 137.3659932486,507.09999999999997 133.5,507.09999999999997" fill="none" stroke="#5cc08a" stroke-width="1.3" stroke-dasharray="11.50 11.20" stroke-dashoffset="15.40"/>
<path d="M133.5,507.09999999999997 L91.2,507.09999999999997 C87.3340067514,507.09999999999997 84.2,503.96599324859994 84.2,500.09999999999997" fill="none" stroke="#5cc08a" stroke-width="1.3" stroke-dasharray="11.40 10.80" stroke-dashoffset="21.90"/>
<path d="M84.2,500.09999999999997 L84.2,427.9 C84.2,424.0340067514 87.3340067514,420.9 91.2,420.9" fill="none" stroke="#5cc08a" stroke-width="1.3" stroke-dasharray="10.90 10.50" stroke-dashoffset="7.50"/>
<text x="111.2" y="437.7" font-size="12.8" text-anchor="middle" font-weight="normal" font-style="normal" fill="#2a2a2a" >Sex</text>
<text x="111.6" y="449.2" font-size="6.2" text-anchor="middle" font-weight="normal" font-style="normal" fill="#222" stroke="#222" stroke-width="0.08">LPS (100ng)</text>
<text x="111.6" y="458.0" font-size="5.9" text-anchor="middle" font-weight="normal" font-style="normal" fill="#000" stroke="#000" stroke-width="0.18"><tspan font-weight="bold" letter-spacing="-0.1">IL-10</tspan></text>
<circle cx="111.6" cy="478.7" r="18.9" fill="#fff" stroke="#111" stroke-width="0.7"/>
<path d="M111.60,461.35 A17.35,17.35 0 0 1 111.90,496.05" fill="none" stroke="#55b848" stroke-width="2.6999999999999993"/>
<path d="M111.90,496.05 A17.35,17.35 0 1 1 111.60,461.35" fill="none" stroke="#6c3f9e" stroke-width="2.6999999999999993"/>
<circle cx="111.6" cy="478.7" r="15.9" fill="#fff" stroke="#111" stroke-width="0.6"/>
<circle cx="111.6" cy="478.7" r="14.9" fill="none" stroke="#999" stroke-width="0.55"/>
<path d="M111.60,478.70 L111.60,464.60 A14.1,14.1 0 0 1 121.74,488.49 Z" fill="#2a7ab8" stroke="#000" stroke-width="0.5" stroke-linejoin="round"/>
<path d="M111.60,478.70 L121.74,488.49 A14.1,14.1 0 0 1 114.77,492.44 Z" fill="#5ec59b" stroke="#000" stroke-width="0.5" stroke-linejoin="round"/>
<path d="M111.60,478.70 L114.77,492.44 A14.1,14.1 0 0 1 111.11,492.79 Z" fill="#f3e84c" stroke="#000" stroke-width="0.5" stroke-linejoin="round"/>
<path d="M111.60,478.70 L111.11,492.79 A14.1,14.1 0 0 1 111.60,464.60 Z" fill="#d95350" stroke="#000" stroke-width="0.5" stroke-linejoin="round"/>
<polygon points="117.38,486.81 117.85,488.07 119.19,488.13 118.14,488.96 118.50,490.25 117.38,489.51 116.26,490.25 116.62,488.96 115.57,488.13 116.91,488.07" fill="#000" stroke="none" stroke-width="0"/>
<polygon points="112.51,494.13 112.98,495.38 114.32,495.44 113.27,496.27 113.62,497.56 112.51,496.82 111.39,497.56 111.75,496.27 110.70,495.44 112.04,495.38" fill="#f3e84c" stroke="#8a7a00" stroke-width="0.25"/>
<path d="M164.6,419.8 L250.39999999999998,419.8 C254.81827799839996,419.8 258.4,423.3817220016 258.4,427.8" fill="none" stroke="#f7c746" stroke-width="1.3" stroke-dasharray="10.90 10.80" stroke-dashoffset="0.50"/>
<path d="M258.4,427.8 L258.4,555.8 C258.4,560.2182779983999 254.81827799839996,563.8 250.39999999999998,563.8" fill="none" stroke="#f7c746" stroke-width="1.3" stroke-dasharray="10.90 10.90" stroke-dashoffset="12.00"/>
<path d="M250.39999999999998,563.8 L164.6,563.8 C160.1817220016,563.8 156.6,560.2182779983999 156.6,555.8" fill="none" stroke="#f7c746" stroke-width="1.3" stroke-dasharray="10.80 10.90" stroke-dashoffset="0.10"/>
<path d="M156.6,555.8 L156.6,427.8 C156.6,423.3817220016 160.1817220016,419.8 164.6,419.8" fill="none" stroke="#f7c746" stroke-width="1.3" stroke-dasharray="10.90 10.95" stroke-dashoffset="12.35"/>
<text x="209.4" y="437.6" font-size="13.2" text-anchor="middle" font-weight="normal" font-style="normal" fill="#2a2a2a" >Season</text>
<text x="185.2" y="449.7" font-size="6.2" text-anchor="middle" font-weight="normal" font-style="italic" fill="#222" stroke="#222" stroke-width="0.08">S. aureus</text>
<text x="185.2" y="458.5" font-size="5.9" text-anchor="middle" font-weight="normal" font-style="normal" fill="#000" stroke="#000" stroke-width="0.18"><tspan font-weight="bold" letter-spacing="-0.1">IL-10</tspan></text>
<circle cx="185.2" cy="479.1" r="18.9" fill="#fff" stroke="#111" stroke-width="0.7"/>
<path d="M185.20,461.75 A17.35,17.35 0 0 1 188.81,496.07" fill="none" stroke="#55b848" stroke-width="2.6999999999999993"/>
<path d="M188.81,496.07 A17.35,17.35 0 1 1 185.20,461.75" fill="none" stroke="#6c3f9e" stroke-width="2.6999999999999993"/>
<circle cx="185.2" cy="479.1" r="15.9" fill="#fff" stroke="#111" stroke-width="0.6"/>
<circle cx="185.2" cy="479.1" r="14.9" fill="none" stroke="#999" stroke-width="0.55"/>
<path d="M185.20,479.10 L185.20,465.00 A14.1,14.1 0 0 1 196.00,488.16 Z" fill="#2a7ab8" stroke="#000" stroke-width="0.5" stroke-linejoin="round"/>
<path d="M185.20,479.10 L196.00,488.16 A14.1,14.1 0 0 1 191.82,491.55 Z" fill="#5ac5ea" stroke="#000" stroke-width="0.5" stroke-linejoin="round"/>
<path d="M185.20,479.10 L191.82,491.55 A14.1,14.1 0 0 1 190.02,492.35 Z" fill="#5ec59b" stroke="#000" stroke-width="0.5" stroke-linejoin="round"/>
<path d="M185.20,479.10 L190.02,492.35 A14.1,14.1 0 0 1 182.27,492.89 Z" fill="#f3e84c" stroke="#000" stroke-width="0.5" stroke-linejoin="round"/>
<path d="M185.20,479.10 L182.27,492.89 A14.1,14.1 0 0 1 185.20,465.00 Z" fill="#d95350" stroke="#000" stroke-width="0.5" stroke-linejoin="round"/>
<polygon points="185.60,488.75 186.07,490.01 187.41,490.07 186.36,490.90 186.72,492.19 185.60,491.45 184.49,492.19 184.84,490.90 183.80,490.07 185.13,490.01" fill="#000" stroke="none" stroke-width="0"/>
<polygon points="184.90,494.55 185.37,495.80 186.70,495.86 185.66,496.69 186.01,497.98 184.90,497.25 183.78,497.98 184.14,496.69 183.09,495.86 184.43,495.80" fill="#f3e84c" stroke="#8a7a00" stroke-width="0.25"/>
<text x="229.8" y="449.7" font-size="6.2" text-anchor="middle" font-weight="normal" font-style="normal" fill="#222" stroke="#222" stroke-width="0.08">LPS (100ng)</text>
<text x="229.8" y="458.5" font-size="5.9" text-anchor="middle" font-weight="normal" font-style="normal" fill="#000" stroke="#000" stroke-width="0.18"><tspan font-weight="bold" letter-spacing="-0.1">IL-10</tspan></text>
<circle cx="229.8" cy="479.1" r="18.9" fill="#fff" stroke="#111" stroke-width="0.7"/>
<path d="M229.80,461.75 A17.35,17.35 0 0 1 230.41,496.44" fill="none" stroke="#55b848" stroke-width="2.6999999999999993"/>
<path d="M230.41,496.44 A17.35,17.35 0 1 1 229.80,461.75" fill="none" stroke="#6c3f9e" stroke-width="2.6999999999999993"/>
<circle cx="229.8" cy="479.1" r="15.9" fill="#fff" stroke="#111" stroke-width="0.6"/>
<circle cx="229.8" cy="479.1" r="14.9" fill="none" stroke="#999" stroke-width="0.55"/>
<path d="M229.80,479.10 L229.80,465.00 A14.1,14.1 0 0 1 239.94,488.89 Z" fill="#2a7ab8" stroke="#000" stroke-width="0.5" stroke-linejoin="round"/>
<path d="M229.80,479.10 L239.94,488.89 A14.1,14.1 0 0 1 232.97,492.84 Z" fill="#5ec59b" stroke="#000" stroke-width="0.5" stroke-linejoin="round"/>
<path d="M229.80,479.10 L232.97,492.84 A14.1,14.1 0 0 1 229.31,493.19 Z" fill="#f3e84c" stroke="#000" stroke-width="0.5" stroke-linejoin="round"/>
<path d="M229.80,479.10 L229.31,493.19 A14.1,14.1 0 0 1 229.80,465.00 Z" fill="#d95350" stroke="#000" stroke-width="0.5" stroke-linejoin="round"/>
<polygon points="235.58,487.21 236.05,488.47 237.39,488.53 236.34,489.36 236.70,490.65 235.58,489.91 234.46,490.65 234.82,489.36 233.77,488.53 235.11,488.47" fill="#000" stroke="none" stroke-width="0"/>
<polygon points="229.80,494.55 230.27,495.80 231.61,495.86 230.56,496.70 230.92,497.99 229.80,497.25 228.68,497.99 229.04,496.70 227.99,495.86 229.33,495.80" fill="#f3e84c" stroke="#8a7a00" stroke-width="0.25"/>
<text x="185.2" y="507.29999999999995" font-size="6.2" text-anchor="middle" font-weight="normal" font-style="italic" fill="#222" stroke="#222" stroke-width="0.08">S. aureus</text>
<text x="185.2" y="516.1" font-size="5.9" text-anchor="middle" font-weight="normal" font-style="normal" fill="#000" stroke="#000" stroke-width="0.18"><tspan font-weight="bold" letter-spacing="-0.1">IL-1Ra</tspan></text>
<circle cx="185.2" cy="536.5" r="18.9" fill="#fff" stroke="#111" stroke-width="0.7"/>
<path d="M185.20,519.15 A17.35,17.35 0 1 1 172.31,548.11" fill="none" stroke="#55b848" stroke-width="2.6999999999999993"/>
<path d="M172.31,548.11 A17.35,17.35 0 0 1 185.20,519.15" fill="none" stroke="#6c3f9e" stroke-width="2.6999999999999993"/>
<circle cx="185.2" cy="536.5" r="15.9" fill="#fff" stroke="#111" stroke-width="0.6"/>
<circle cx="185.2" cy="536.5" r="14.9" fill="none" stroke="#999" stroke-width="0.55"/>
<path d="M185.20,536.50 L185.20,522.40 A14.1,14.1 0 1 1 184.71,550.59 Z" fill="#2a7ab8" stroke="#000" stroke-width="0.5" stroke-linejoin="round"/>
<path d="M185.20,536.50 L184.71,550.59 A14.1,14.1 0 0 1 175.23,546.47 Z" fill="#5ac5ea" stroke="#000" stroke-width="0.5" stroke-linejoin="round"/>
<path d="M185.20,536.50 L175.23,546.47 A14.1,14.1 0 0 1 173.24,543.97 Z" fill="#f3e84c" stroke="#000" stroke-width="0.5" stroke-linejoin="round"/>
<path d="M185.20,536.50 L173.24,543.97 A14.1,14.1 0 0 1 185.20,522.40 Z" fill="#d95350" stroke="#000" stroke-width="0.5" stroke-linejoin="round"/>
<polygon points="171.53,545.28 172.00,546.54 173.34,546.59 172.29,547.43 172.64,548.72 171.53,547.98 170.41,548.72 170.77,547.43 169.72,546.59 171.06,546.54" fill="#f3e84c" stroke="#8a7a00" stroke-width="0.25"/>
<text x="275.3" y="428.4" font-size="12.8" text-anchor="start" font-weight="normal" font-style="normal" fill="#111" stroke="#111" stroke-width="0.1">G</text>
<path d="M296.8,419.75 L383.0,419.75 C387.4182779984,419.75 391.0,423.3317220016 391.0,427.75" fill="none" stroke="#f7c746" stroke-width="1.3" stroke-dasharray="11.00 10.80" stroke-dashoffset="0.50"/>
<path d="M391.0,427.75 L391.0,555.65 C391.0,560.0682779983999 387.4182779984,563.65 383.0,563.65" fill="none" stroke="#f7c746" stroke-width="1.3" stroke-dasharray="10.90 10.90" stroke-dashoffset="11.95"/>
<path d="M383.0,563.65 L296.8,563.65 C292.3817220016,563.65 288.8,560.0682779983999 288.8,555.65" fill="none" stroke="#f7c746" stroke-width="1.3" stroke-dasharray="11.00 10.60" stroke-dashoffset="0.40"/>
<path d="M288.8,555.65 L288.8,427.75 C288.8,423.3317220016 292.3817220016,419.75 296.8,419.75" fill="none" stroke="#f7c746" stroke-width="1.3" stroke-dasharray="10.90 10.95" stroke-dashoffset="12.50"/>
<text x="337.2" y="437.6" font-size="13.2" text-anchor="middle" font-weight="normal" font-style="normal" fill="#2a2a2a" >Season</text>
<text x="318.8" y="449.4" font-size="6.2" text-anchor="middle" font-weight="normal" font-style="italic" fill="#222" stroke="#222" stroke-width="0.08">C. albicans yeast</text>
<text x="318.8" y="458.2" font-size="5.9" text-anchor="middle" font-weight="normal" font-style="normal" fill="#000" stroke="#000" stroke-width="0.18"><tspan font-weight="bold" letter-spacing="-0.1">IL-8</tspan></text>
<circle cx="318.8" cy="478.7" r="18.9" fill="#fff" stroke="#111" stroke-width="0.7"/>
<path d="M318.80,461.35 A17.35,17.35 0 0 1 319.71,496.03" fill="none" stroke="#55b848" stroke-width="2.6999999999999993"/>
<path d="M319.71,496.03 A17.35,17.35 0 1 1 318.80,461.35" fill="none" stroke="#6c3f9e" stroke-width="2.6999999999999993"/>
<circle cx="318.8" cy="478.7" r="15.9" fill="#fff" stroke="#111" stroke-width="0.6"/>
<circle cx="318.8" cy="478.7" r="14.9" fill="none" stroke="#999" stroke-width="0.55"/>
<path d="M318.80,478.70 L318.80,464.60 A14.1,14.1 0 0 1 319.54,492.78 Z" fill="#2a7ab8" stroke="#000" stroke-width="0.5" stroke-linejoin="round"/>
<path d="M318.80,478.70 L319.54,492.78 A14.1,14.1 0 0 1 314.91,492.25 Z" fill="#f3e84c" stroke="#000" stroke-width="0.5" stroke-linejoin="round"/>
<path d="M318.80,478.70 L314.91,492.25 A14.1,14.1 0 0 1 318.80,464.60 Z" fill="#d95350" stroke="#000" stroke-width="0.5" stroke-linejoin="round"/>
<polygon points="316.39,493.98 316.85,495.24 318.19,495.29 317.14,496.13 317.50,497.42 316.39,496.68 315.27,497.42 315.63,496.13 314.58,495.29 315.92,495.24" fill="#f3e84c" stroke="#8a7a00" stroke-width="0.25"/>
<text x="363.8" y="449.4" font-size="6.2" text-anchor="middle" font-weight="normal" font-style="normal" fill="#222" stroke="#222" stroke-width="0.08">Pam3Cys</text>
<text x="363.8" y="458.2" font-size="5.9" text-anchor="middle" font-weight="normal" font-style="normal" fill="#000" stroke="#000" stroke-width="0.18"><tspan font-weight="bold" letter-spacing="-0.1">MCP-1</tspan></text>
<circle cx="363.8" cy="478.7" r="18.9" fill="#fff" stroke="#111" stroke-width="0.7"/>
<path d="M363.80,461.35 A17.35,17.35 0 1 1 350.71,490.08" fill="none" stroke="#55b848" stroke-width="2.6999999999999993"/>
<path d="M350.71,490.08 A17.35,17.35 0 0 1 363.80,461.35" fill="none" stroke="#6c3f9e" stroke-width="2.6999999999999993"/>
<circle cx="363.8" cy="478.7" r="15.9" fill="#fff" stroke="#111" stroke-width="0.6"/>
<circle cx="363.8" cy="478.7" r="14.9" fill="none" stroke="#999" stroke-width="0.55"/>
<path d="M363.80,478.70 L363.80,464.60 A14.1,14.1 0 1 1 363.55,492.80 Z" fill="#2a7ab8" stroke="#000" stroke-width="0.5" stroke-linejoin="round"/>
<path d="M363.80,478.70 L363.55,492.80 A14.1,14.1 0 0 1 354.18,489.01 Z" fill="#5ac5ea" stroke="#000" stroke-width="0.5" stroke-linejoin="round"/>
<path d="M363.80,478.70 L354.18,489.01 A14.1,14.1 0 0 1 350.92,484.43 Z" fill="#f3e84c" stroke="#000" stroke-width="0.5" stroke-linejoin="round"/>
<path d="M363.80,478.70 L350.92,484.43 A14.1,14.1 0 0 1 363.80,464.60 Z" fill="#d95350" stroke="#000" stroke-width="0.5" stroke-linejoin="round"/>
<polygon points="349.59,486.75 350.06,488.01 351.39,488.06 350.35,488.90 350.70,490.19 349.59,489.45 348.47,490.19 348.83,488.90 347.78,488.06 349.12,488.01" fill="#f3e84c" stroke="#8a7a00" stroke-width="0.25"/>
<text x="318.8" y="507.29999999999995" font-size="6.2" text-anchor="middle" font-weight="normal" font-style="italic" fill="#222" stroke="#222" stroke-width="0.08">S. aureus</text>
<text x="318.8" y="516.1" font-size="5.9" text-anchor="middle" font-weight="normal" font-style="normal" fill="#000" stroke="#000" stroke-width="0.18"><tspan font-weight="bold" letter-spacing="-0.1">IL-8</tspan></text>
<circle cx="318.8" cy="536.6" r="18.9" fill="#fff" stroke="#111" stroke-width="0.7"/>
<path d="M318.80,519.25 A17.35,17.35 0 0 1 320.91,553.82" fill="none" stroke="#55b848" stroke-width="2.6999999999999993"/>
<path d="M320.91,553.82 A17.35,17.35 0 1 1 318.80,519.25" fill="none" stroke="#6c3f9e" stroke-width="2.6999999999999993"/>
<circle cx="318.8" cy="536.6" r="15.9" fill="#fff" stroke="#111" stroke-width="0.6"/>
<circle cx="318.8" cy="536.6" r="14.9" fill="none" stroke="#999" stroke-width="0.55"/>
<path d="M318.80,536.60 L318.80,522.50 A14.1,14.1 0 0 1 321.01,550.53 Z" fill="#2a7ab8" stroke="#000" stroke-width="0.5" stroke-linejoin="round"/>
<path d="M318.80,536.60 L321.01,550.53 A14.1,14.1 0 0 1 318.31,550.69 Z" fill="#f3e84c" stroke="#000" stroke-width="0.5" stroke-linejoin="round"/>
<path d="M318.80,536.60 L318.31,550.69 A14.1,14.1 0 0 1 318.80,522.50 Z" fill="#d95350" stroke="#000" stroke-width="0.5" stroke-linejoin="round"/>
<polygon points="320.01,552.01 320.48,553.26 321.82,553.32 320.77,554.15 321.13,555.44 320.01,554.71 318.89,555.44 319.25,554.15 318.20,553.32 319.54,553.26" fill="#f3e84c" stroke="#8a7a00" stroke-width="0.25"/>
</svg>
</body></html>
